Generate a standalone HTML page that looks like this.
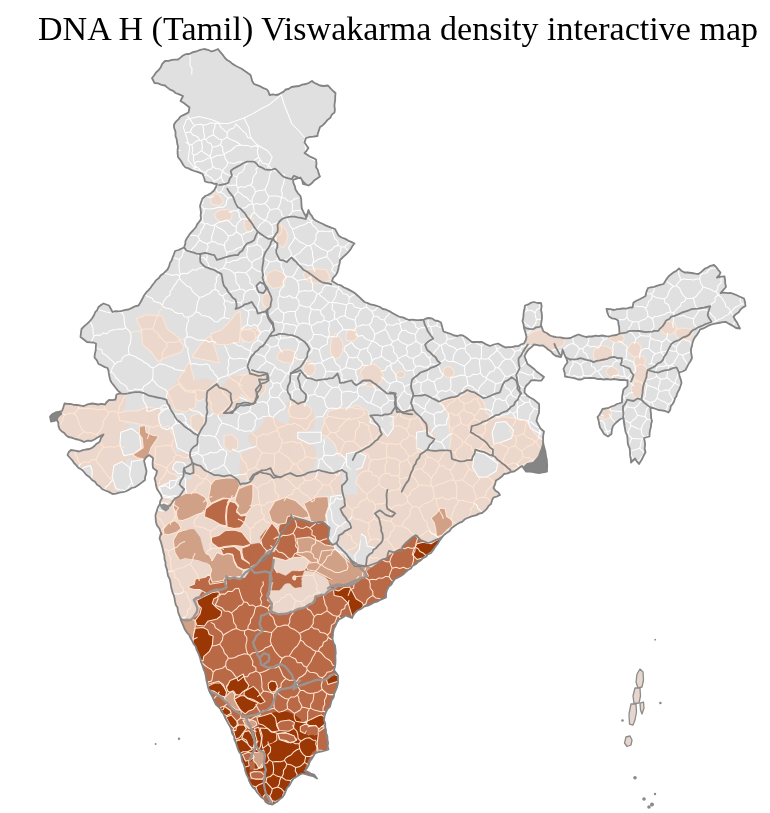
<!DOCTYPE html>
<html lang="en">
<head>
<meta charset="utf-8">
<title>DNA H (Tamil) Viswakarma density interactive map</title>
<style>
html,body{margin:0;padding:0;background:#fff;}
body{width:770px;height:813px;position:relative;overflow:hidden;font-family:"Liberation Serif","Times New Roman",serif;}
h1{position:absolute;left:38px;top:9px;margin:0;letter-spacing:0.04px;font-weight:normal;font-size:34px;line-height:40px;color:#000;white-space:nowrap;}
svg{position:absolute;left:0;top:0;}
</style>
</head>
<body>
<h1>DNA H (Tamil) Viswakarma density interactive map</h1>
<svg width="770" height="813" viewBox="0 0 770 813">
<defs><clipPath id="c"><path d="M152 78 L154.1 75.5 L156 72.5 L158.6 70.1 L160.8 67.2 L162.2 63.8 L165 61 L168.7 60.8 L171.9 59.8 L174.7 59.6 L178 59.5 L180.5 57.6 L183 55.5 L185.7 54.2 L189.3 54 L193 52.1 L196 51.5 L200.3 49.9 L204 49 L207.9 49.8 L211.5 51.5 L214.2 50.7 L218 49 L220 51.7 L223.2 55.4 L225 58 L227.4 60.3 L230.2 61.8 L232.5 63.9 L235.6 65.7 L238 67 L241.6 68.8 L244.1 70.6 L247 72.5 L250.5 75 L251.4 78.1 L252.3 81.2 L254 84 L257.1 85.2 L260.9 86.7 L263.5 88.1 L267 89.5 L268.5 91.8 L269.5 95 L273 94.3 L275.8 95 L278.5 94.5 L280.6 93.3 L283.6 91.6 L285.8 89.5 L288.5 89 L291.5 87 L294.8 86.5 L299.2 86 L302.2 84.6 L306 84 L309 82.8 L312 81 L314.2 82.8 L317.7 84.4 L320 85.5 L323.5 86 L328 85.5 L330.1 87.8 L333.1 91 L335.5 93 L335.2 96.7 L335.2 99.3 L334.8 102.4 L334.4 105.6 L334.9 109.8 L334.5 112.5 L331.8 114.6 L330.3 117.8 L327.3 120.1 L325 123 L322.6 125.4 L320 127 L319.1 129.9 L317.8 133.5 L317.5 136 L313.2 136.7 L310.2 136.9 L306 138 L304.5 142.5 L306.8 145.7 L308.5 148 L306.6 150.8 L304.5 153 L306.9 154.6 L309.9 156.6 L312.9 157.8 L316 159.5 L316.5 163.6 L316 167 L317.9 170.1 L318.7 173.6 L320 176.5 L317.1 178.5 L314.1 180.6 L311.2 183.8 L308.5 185.5 L303 184 L302.3 180.9 L300.5 177.5 L296.7 178.6 L293 180 L293.4 182.9 L295 186.7 L295.5 189.5 L297.8 193.1 L300.5 196 L301.2 199.5 L301.4 202.8 L301.5 206 L302 209 L303.8 212.7 L306 216.5 L307.5 213.5 L308.5 210 L309.9 213.5 L312 216.1 L313.5 219 L316.1 220.7 L319.6 222.5 L323 224 L326 225.6 L329.2 226.8 L331.8 227.9 L335 229 L337 232.6 L338.5 235.5 L341.5 237.5 L345.3 238.9 L348.6 240.8 L351.3 241.9 L354.5 243.5 L352.1 246.5 L351 248.7 L348.7 251.6 L346.5 254 L343.5 256.6 L340 260 L339.7 263.1 L338.9 265.9 L338.3 269.3 L337.5 272 L335.8 275.2 L333.3 277.6 L332 281 L334.9 282.8 L337.7 284.5 L341.1 285.4 L344 287.5 L347.3 288.9 L350.2 290.4 L354 292.5 L356.4 294.5 L358.9 296.7 L361.8 299.5 L364.5 302 L367.7 303.1 L370.4 304.4 L373.3 304.9 L376.7 305.9 L380 307 L382.8 309 L386.3 309.7 L389.7 311.4 L392.8 313.2 L396 315 L399.3 316.8 L402.9 317.4 L406.1 318.9 L409 320 L412.5 319.6 L416.4 320.1 L420 320 L423.5 319.8 L426.1 318.5 L429 318 L432.4 318.6 L434.6 320.3 L438.1 321 L441 322.5 L442 325.9 L442.5 328.4 L443.5 331.5 L446.7 332.6 L451 334 L454 335.5 L457.5 336 L460.1 335.2 L463 335.5 L466.5 337.7 L468.9 339.6 L472 342 L475.9 342 L478.4 342 L482 342 L485.6 344.1 L490 346 L493.9 344.5 L498 343.5 L502.1 345.9 L505.5 347.5 L508.2 347.2 L511.8 347.2 L515.6 346.1 L518.5 346 L521 344.4 L524 343.5 L525.8 340 L526.5 337 L525.8 334 L525 331.1 L524 328 L523.5 324.1 L522.5 321 L523.3 317.7 L523.5 314.6 L523.8 311.7 L524.5 308.4 L525 305.5 L528.3 304.4 L530.5 302.9 L534 302 L537.5 303 L541 303 L541.7 306.3 L541 309.8 L541.7 312.8 L542 316 L541.9 319.1 L541.3 322.5 L541 325 L542.1 328.1 L543.5 331.5 L547.1 333.2 L550 335.5 L553 336.5 L556 337.1 L560 337.3 L563 338 L566.5 338.3 L570.5 338 L575 335.9 L578.5 334.5 L582.2 335.8 L586 337 L589.2 336.5 L592 336.5 L595.9 335.6 L598.5 336.2 L602 335.5 L605.8 336.2 L609 336.5 L612 335.7 L616.5 335 L619.5 333.5 L619.3 329.8 L619.1 326.7 L618.5 324.2 L618 320.5 L615.2 318.8 L611.8 318.3 L609 316.5 L607.4 312.9 L606.5 309 L610.2 309.1 L614 310 L617.2 309.1 L619.7 309 L622.8 308.3 L626.4 308.6 L629.8 307.5 L632.5 307.5 L633.5 302.5 L636.4 300.7 L639.6 299.2 L643 297.5 L645.5 296 L646.3 292.2 L648 288 L650.7 287.3 L654.2 286.9 L657.4 285.7 L660.1 284.9 L663.5 284 L664.9 281.8 L666.9 278.6 L668.5 276.5 L670.8 274.4 L674 272.1 L676.6 270.7 L679 268.5 L681.3 270.7 L684.5 272.5 L687.6 272.5 L691.6 273 L695.4 273.6 L698.5 274 L701.6 271.6 L705 268.5 L707.5 267.6 L710.5 265.8 L714 265 L716.7 267.7 L718 269.6 L720.5 272.5 L719.3 275.2 L717 277.5 L721.1 276.6 L724.5 276.5 L725.1 279.8 L725.2 283.3 L726 287 L723.4 289.8 L720.5 293 L723.9 292.6 L727.9 293.2 L731 293 L734.6 294.3 L737.9 295.8 L740.9 297.2 L744 298.5 L745 302.1 L745.5 306 L742.7 307.6 L740.4 309.7 L738.7 312.3 L736.2 313.9 L733.5 316.5 L735.1 319.9 L736.9 322.4 L738.3 325.1 L740 328.5 L736 328 L732.3 325.6 L729.2 323.9 L726 322 L722.8 322.2 L718.5 323 L714.8 323.6 L711.5 324.5 L708.3 325.7 L705.2 327.5 L702.7 328.7 L700 329.5 L698.6 332.3 L696.7 335.2 L694.7 337.6 L693.5 340 L692.4 343.2 L692.1 345.6 L691 349 L691 351.5 L691.4 354.5 L692 358 L690.3 361.5 L688.6 363.8 L687.1 366.8 L685.5 370 L682.5 371.5 L679 372.5 L679.5 375.7 L680.9 380 L681.5 383 L680.4 386.2 L679.5 389 L677.3 393.1 L676.5 396 L675.1 398.2 L673.9 402 L672.5 404.1 L670.7 406.5 L670.3 409.7 L668.5 412.5 L665.6 411.2 L661.6 410.3 L658.5 410 L654.4 408.3 L650.5 407.5 L650.6 410.8 L651 413.8 L651.1 418.1 L652 421 L651.1 424.1 L650.9 427.2 L650 430.1 L649.6 433.4 L649.5 436.5 L644 438 L644.8 441.6 L645.1 444.7 L644.6 448.5 L645.5 452 L643.5 456.1 L641.5 460 L639 464 L636.9 461.4 L635 458.5 L631 462.5 L630.9 459.5 L630.1 455.4 L630 452 L629.7 448.4 L628.3 445.3 L627.7 442.5 L627.5 439 L627.1 435.5 L625.6 432 L625 428.8 L624.5 426 L623.9 422.1 L623.5 418 L620.5 419 L618 421 L615.7 423 L613 426 L611.9 429.8 L611.5 434 L608 436.5 L604 434 L601.9 430.3 L600 427.5 L599.1 423.8 L598.6 420.6 L597.5 417 L599.6 414.5 L601.1 411.7 L602.5 409 L605.4 408.5 L608.7 407.8 L611.5 406.5 L614.5 405.5 L617 404 L622 402.5 L622 399 L622.2 396.2 L622.9 392.3 L623.5 389.5 L627.5 386 L627.5 380.5 L623.5 379.8 L620.2 380 L617 379.5 L613.5 379 L610.8 379.6 L606.7 379 L604 379.5 L600.3 379 L597.9 379.2 L594.4 378.1 L591 378 L587.7 378.2 L584.3 378.2 L581.3 379.5 L578 379.5 L575 378.3 L571.5 377.6 L568.5 377.2 L565 376.5 L564.7 373.1 L563.5 369 L565.1 365.5 L567.5 362.5 L566.7 359.2 L565 356 L563.7 352.7 L562.5 349.5 L562 353.7 L561 357 L556 356 L553.4 354.3 L550.8 351.2 L548 349.5 L545.8 347.4 L543 345.5 L539.5 345.7 L536.5 344.9 L534 344.5 L531.2 347.4 L528.5 349.5 L526.4 352.4 L524.5 356 L525.8 359.7 L527.5 364 L530.6 366.3 L533.8 368.7 L536.5 371.5 L538.8 373.1 L542 375.5 L544 377 L541.5 380.5 L538.4 380.6 L534.4 380.1 L531 380.5 L528.9 383.2 L526 386 L524.7 388.9 L524.5 392.5 L526.8 395.2 L530 397.5 L533.4 399.3 L536.3 401.6 L539 404 L539.2 407.4 L539.1 410.3 L539 413 L537.6 416.5 L536.5 421 L538.5 424.8 L540.5 428.5 L544 431.5 L543.3 434.7 L543.1 437.6 L543 441.5 L543.6 444.9 L544.6 448.7 L545.5 452 L545.9 456 L546.8 459.5 L547 462.5 L547.2 465.7 L547 468.8 L547 471.5 L542.8 472.4 L539 473 L535.9 472.6 L532.3 471.8 L528.8 471.7 L526 471.5 L524.1 469 L522 466 L519.6 467.6 L517.1 469.4 L514 471.5 L510.9 471.9 L507.6 473.4 L504 474 L501.8 476.6 L498.9 478.7 L496 480.5 L495 484.4 L493.5 488 L495.3 490.4 L498.3 492.4 L500 495 L497.3 496.3 L493.5 497.5 L492.1 500.2 L491 504 L488.6 505.9 L486.7 508.9 L484.7 510.9 L482 513 L479 513.6 L476.4 515.1 L473.5 515.9 L470.8 516.7 L467.5 518 L464.7 519.3 L462.4 521.6 L459.3 522.9 L457.4 524.1 L454.5 526 L451.4 528.3 L449.6 530.9 L446.9 532.7 L444 535 L441.4 538.3 L439 541.5 L437.4 544.2 L434.8 547.4 L433.5 549.8 L431 553 L427.9 554.4 L425.9 556.7 L422.9 558.1 L420.7 560.4 L418 562 L415.7 564.3 L412.5 566 L410.9 568.5 L408 570 L405.1 572.6 L402.8 574.8 L400 576.5 L395 579 L392.7 582 L391.4 584.5 L388.6 586.9 L387 590 L386.1 593.3 L386 597.5 L382.6 598.9 L379.6 600.3 L377.3 601.6 L374 602.5 L371 604.1 L367.8 605.7 L364 606.5 L360.9 609 L357.5 610.5 L355.2 612.6 L353.4 615.2 L352 618 L348.6 616.7 L345.5 615.5 L342.4 617.8 L339 619.5 L336.9 622.4 L335.7 625.4 L334 628.5 L333.1 632.1 L332.9 635.7 L332.5 639 L333.5 643 L335 645.5 L335.5 649.5 L335.8 653 L335.3 655.6 L335.5 659.1 L335.5 662.5 L335 666.7 L334 670 L335.9 672.5 L338 675.5 L338 679.5 L338 683 L337.1 687.1 L335.5 691 L334.2 693.9 L333.7 697.2 L331.7 700.2 L330.8 703.6 L330 706.5 L327.5 709 L326 712 L324.6 716 L324 720 L325.2 723.4 L325.2 727.1 L326 730 L326.1 733.2 L327.3 736.1 L327.5 740 L328.1 743 L327.6 746.1 L328.5 749.5 L325.5 750.5 L322 751.4 L318.5 752 L315 753.5 L313.2 756.6 L311.9 758.7 L310 761.1 L309 764 L307.3 767.7 L304.5 771 L307.7 771.7 L310.7 773.6 L314 774.5 L317 778.5 L313 776 L309.4 775.3 L306.4 774.5 L302.5 773.5 L299.6 774.7 L296 777.1 L293.5 778.5 L291.2 782.1 L289.5 785.3 L287 788 L285.4 792 L284 795 L282.1 797.6 L279.3 799.6 L277.5 801.5 L272.5 804.5 L268 803.5 L265.6 801.9 L263.9 798.9 L261 797 L258.8 794.2 L256.7 791.8 L254.8 789.1 L252.5 787 L250.6 783.8 L249 780.6 L248.4 778 L246.5 774.5 L245.2 770.6 L244.9 768.2 L243.6 763.9 L242.2 761.4 L241.5 757.5 L240.9 754.1 L239 751.6 L237.9 749.1 L237 746.2 L236 743 L234.4 739.7 L234.1 736.6 L231.9 732.7 L231.4 729.7 L230 726.5 L228.2 723.4 L226.8 720.8 L224.8 717.2 L223.5 714 L221.4 711.5 L220.2 708.6 L218.1 706.7 L215.8 704.3 L214.5 701.5 L213.1 698.6 L212 696 L210.1 692.8 L208.8 689.8 L208 687 L207.1 682.8 L206.3 679.7 L205.9 676.6 L205 672.5 L203.5 669 L202.6 666 L201 662 L200.2 658.3 L198.5 653.5 L196.7 649.9 L195.7 646.5 L193.6 644 L192 640.5 L190.4 637.8 L189.3 635.1 L187.3 633.1 L185.2 629.9 L184 627.5 L182.7 624.1 L181 620.4 L180 617 L178.5 613.4 L177.8 610.4 L177.5 607.4 L175.8 604.9 L175 601.5 L174.5 598.1 L173.8 595.4 L172.5 592.3 L171.5 588.8 L171 586 L170.5 582.7 L169.7 579.1 L168 575.8 L167.5 573 L167 569.6 L165.5 565.5 L165.6 562.5 L164.5 559 L164.3 555.2 L163.3 552.1 L162.9 549.4 L162 546 L160.9 541.9 L159.5 538.5 L161 533 L159.5 528.8 L157 525.5 L156 522.2 L155.6 518 L155.5 515 L156.7 511.2 L158 507 L159.8 504.2 L160.2 501.2 L162 498 L160.7 494.6 L158.9 491.7 L157 489 L155.9 485 L155.6 482 L154.5 478.5 L156.2 474.7 L157 471 L153 468 L152.6 464.4 L152.7 461.8 L153 458 L149 455 L146.2 457.3 L144 460.5 L144.7 463.5 L145.6 467.6 L146.5 471 L146.2 473.6 L145.1 477 L145 480 L142 482.4 L138.5 485 L135.3 487.1 L131.6 488 L128.7 489.9 L125.5 491.5 L122.7 492.2 L119.2 492.7 L116.1 493.7 L112.5 494 L108.8 491.9 L105.2 490.5 L102 489 L99.9 486.5 L97.1 484.7 L95 481.8 L92 480 L89.6 477.2 L86.2 474.8 L84 472 L81.9 469.8 L78.5 468 L76.4 465.4 L74 463 L72.1 460.1 L69.6 457.5 L67.5 455 L68.8 452 L71 450 L75.2 450.7 L79 451.5 L82.9 450.2 L85.8 449.5 L89.5 449 L92.5 447.6 L94.9 445.5 L96.6 443.7 L99.5 442 L101.2 437.7 L103.5 434.5 L100.6 435.9 L97.1 437.8 L94.5 439.5 L91.5 440.8 L87.5 440.7 L84 442 L81.2 440.6 L77.8 439.5 L75.2 439 L71.5 437.7 L68.5 437 L66.3 435.5 L63.9 432.7 L61.8 431.5 L59.5 429 L58.5 426.1 L58.3 422.8 L57 420 L54.3 420.8 L51 421.5 L50 416.5 L52.4 414 L55.5 412.5 L59.2 411.7 L62 411 L63.2 407.7 L64.5 403.5 L67.8 403.8 L71 404 L74 404.8 L77.2 405 L81 405.6 L84 406 L87.6 404.4 L92 403.5 L95.5 404 L98.1 404.5 L101.3 403.9 L105 404.5 L106.5 402.2 L109 400 L112.4 400.1 L115.5 399.5 L116.5 394.5 L120.5 393 L117.9 390.6 L115.6 387.8 L113.5 385 L111.5 382.5 L110.2 379.8 L109.5 377 L108.9 373.9 L108.5 370.9 L107.5 368 L104.9 367.1 L101.3 365.2 L98.5 364 L96.9 360.3 L94.5 357.5 L94.8 353.9 L95.8 350.1 L95.8 347.3 L96 343.5 L93.3 342.5 L90.5 342.3 L87 342 L84.1 339.7 L80.5 337 L80.9 333.4 L81.5 329 L84.3 326.2 L87 323.8 L89.6 321.3 L92 318.5 L94 315.3 L95.2 312.2 L97.2 310.2 L98.5 307 L101.4 304.7 L103.5 303.5 L109 305.5 L110.8 308.7 L112.5 312 L115.3 311.2 L119.4 311.4 L121.8 310.9 L125.5 309.9 L128.5 309.5 L132 307.9 L134.9 306.3 L138.5 305.5 L140.5 302.3 L142.4 298.8 L144 295.5 L146 292.7 L148.5 290.2 L150.4 288 L152.3 285.3 L154.5 282.5 L156.2 280.1 L159.2 277.8 L160.5 275.5 L163.5 273.4 L165.3 271.6 L167.5 269.5 L169.1 266.4 L170 262.8 L171.6 260.5 L172.6 257.5 L173.9 254.3 L175 251 L178.4 250 L180.5 249.1 L184 247.5 L185.3 243.9 L185.5 241 L186.9 238.2 L188.8 235.6 L190.7 232.8 L193 230.5 L196 227 L197.1 224.3 L199.1 221.9 L201 219 L200.6 215.4 L201 212.9 L200.5 208.9 L200 206 L201.1 202.2 L202.5 198.5 L205.3 196 L208.2 194.8 L211.3 192.9 L214 190.5 L215.7 187.5 L217 184 L214.4 183.8 L211.3 182.7 L208.2 182.3 L205 181.5 L204.2 178 L202.5 174 L199.6 172.6 L196.6 171.6 L194.2 171 L190.8 169.7 L188.7 168.4 L185.5 167.5 L183.2 165 L181.6 161.9 L179.6 159.1 L178 157 L177.6 153.4 L177.6 149.5 L178 146.5 L177.2 143.5 L176.7 139.3 L175.5 136 L175.5 131.7 L174.1 127.8 L174 124.5 L175.7 121.9 L178.6 119.1 L180.5 116.5 L184.8 114.4 L188.5 112.5 L189.5 107.5 L187 105.5 L183.5 102.8 L180.5 101 L183 96 L179.2 94.4 L175.5 93 L173.2 90.8 L170 89.6 L167.2 87.4 L165 85.5 L161.2 84.8 L158.1 83.4 L154.5 83Z"/></clipPath></defs>
<path d="M152 78 L154.1 75.5 L156 72.5 L158.6 70.1 L160.8 67.2 L162.2 63.8 L165 61 L168.7 60.8 L171.9 59.8 L174.7 59.6 L178 59.5 L180.5 57.6 L183 55.5 L185.7 54.2 L189.3 54 L193 52.1 L196 51.5 L200.3 49.9 L204 49 L207.9 49.8 L211.5 51.5 L214.2 50.7 L218 49 L220 51.7 L223.2 55.4 L225 58 L227.4 60.3 L230.2 61.8 L232.5 63.9 L235.6 65.7 L238 67 L241.6 68.8 L244.1 70.6 L247 72.5 L250.5 75 L251.4 78.1 L252.3 81.2 L254 84 L257.1 85.2 L260.9 86.7 L263.5 88.1 L267 89.5 L268.5 91.8 L269.5 95 L273 94.3 L275.8 95 L278.5 94.5 L280.6 93.3 L283.6 91.6 L285.8 89.5 L288.5 89 L291.5 87 L294.8 86.5 L299.2 86 L302.2 84.6 L306 84 L309 82.8 L312 81 L314.2 82.8 L317.7 84.4 L320 85.5 L323.5 86 L328 85.5 L330.1 87.8 L333.1 91 L335.5 93 L335.2 96.7 L335.2 99.3 L334.8 102.4 L334.4 105.6 L334.9 109.8 L334.5 112.5 L331.8 114.6 L330.3 117.8 L327.3 120.1 L325 123 L322.6 125.4 L320 127 L319.1 129.9 L317.8 133.5 L317.5 136 L313.2 136.7 L310.2 136.9 L306 138 L304.5 142.5 L306.8 145.7 L308.5 148 L306.6 150.8 L304.5 153 L306.9 154.6 L309.9 156.6 L312.9 157.8 L316 159.5 L316.5 163.6 L316 167 L317.9 170.1 L318.7 173.6 L320 176.5 L317.1 178.5 L314.1 180.6 L311.2 183.8 L308.5 185.5 L303 184 L302.3 180.9 L300.5 177.5 L296.7 178.6 L293 180 L293.4 182.9 L295 186.7 L295.5 189.5 L297.8 193.1 L300.5 196 L301.2 199.5 L301.4 202.8 L301.5 206 L302 209 L303.8 212.7 L306 216.5 L307.5 213.5 L308.5 210 L309.9 213.5 L312 216.1 L313.5 219 L316.1 220.7 L319.6 222.5 L323 224 L326 225.6 L329.2 226.8 L331.8 227.9 L335 229 L337 232.6 L338.5 235.5 L341.5 237.5 L345.3 238.9 L348.6 240.8 L351.3 241.9 L354.5 243.5 L352.1 246.5 L351 248.7 L348.7 251.6 L346.5 254 L343.5 256.6 L340 260 L339.7 263.1 L338.9 265.9 L338.3 269.3 L337.5 272 L335.8 275.2 L333.3 277.6 L332 281 L334.9 282.8 L337.7 284.5 L341.1 285.4 L344 287.5 L347.3 288.9 L350.2 290.4 L354 292.5 L356.4 294.5 L358.9 296.7 L361.8 299.5 L364.5 302 L367.7 303.1 L370.4 304.4 L373.3 304.9 L376.7 305.9 L380 307 L382.8 309 L386.3 309.7 L389.7 311.4 L392.8 313.2 L396 315 L399.3 316.8 L402.9 317.4 L406.1 318.9 L409 320 L412.5 319.6 L416.4 320.1 L420 320 L423.5 319.8 L426.1 318.5 L429 318 L432.4 318.6 L434.6 320.3 L438.1 321 L441 322.5 L442 325.9 L442.5 328.4 L443.5 331.5 L446.7 332.6 L451 334 L454 335.5 L457.5 336 L460.1 335.2 L463 335.5 L466.5 337.7 L468.9 339.6 L472 342 L475.9 342 L478.4 342 L482 342 L485.6 344.1 L490 346 L493.9 344.5 L498 343.5 L502.1 345.9 L505.5 347.5 L508.2 347.2 L511.8 347.2 L515.6 346.1 L518.5 346 L521 344.4 L524 343.5 L525.8 340 L526.5 337 L525.8 334 L525 331.1 L524 328 L523.5 324.1 L522.5 321 L523.3 317.7 L523.5 314.6 L523.8 311.7 L524.5 308.4 L525 305.5 L528.3 304.4 L530.5 302.9 L534 302 L537.5 303 L541 303 L541.7 306.3 L541 309.8 L541.7 312.8 L542 316 L541.9 319.1 L541.3 322.5 L541 325 L542.1 328.1 L543.5 331.5 L547.1 333.2 L550 335.5 L553 336.5 L556 337.1 L560 337.3 L563 338 L566.5 338.3 L570.5 338 L575 335.9 L578.5 334.5 L582.2 335.8 L586 337 L589.2 336.5 L592 336.5 L595.9 335.6 L598.5 336.2 L602 335.5 L605.8 336.2 L609 336.5 L612 335.7 L616.5 335 L619.5 333.5 L619.3 329.8 L619.1 326.7 L618.5 324.2 L618 320.5 L615.2 318.8 L611.8 318.3 L609 316.5 L607.4 312.9 L606.5 309 L610.2 309.1 L614 310 L617.2 309.1 L619.7 309 L622.8 308.3 L626.4 308.6 L629.8 307.5 L632.5 307.5 L633.5 302.5 L636.4 300.7 L639.6 299.2 L643 297.5 L645.5 296 L646.3 292.2 L648 288 L650.7 287.3 L654.2 286.9 L657.4 285.7 L660.1 284.9 L663.5 284 L664.9 281.8 L666.9 278.6 L668.5 276.5 L670.8 274.4 L674 272.1 L676.6 270.7 L679 268.5 L681.3 270.7 L684.5 272.5 L687.6 272.5 L691.6 273 L695.4 273.6 L698.5 274 L701.6 271.6 L705 268.5 L707.5 267.6 L710.5 265.8 L714 265 L716.7 267.7 L718 269.6 L720.5 272.5 L719.3 275.2 L717 277.5 L721.1 276.6 L724.5 276.5 L725.1 279.8 L725.2 283.3 L726 287 L723.4 289.8 L720.5 293 L723.9 292.6 L727.9 293.2 L731 293 L734.6 294.3 L737.9 295.8 L740.9 297.2 L744 298.5 L745 302.1 L745.5 306 L742.7 307.6 L740.4 309.7 L738.7 312.3 L736.2 313.9 L733.5 316.5 L735.1 319.9 L736.9 322.4 L738.3 325.1 L740 328.5 L736 328 L732.3 325.6 L729.2 323.9 L726 322 L722.8 322.2 L718.5 323 L714.8 323.6 L711.5 324.5 L708.3 325.7 L705.2 327.5 L702.7 328.7 L700 329.5 L698.6 332.3 L696.7 335.2 L694.7 337.6 L693.5 340 L692.4 343.2 L692.1 345.6 L691 349 L691 351.5 L691.4 354.5 L692 358 L690.3 361.5 L688.6 363.8 L687.1 366.8 L685.5 370 L682.5 371.5 L679 372.5 L679.5 375.7 L680.9 380 L681.5 383 L680.4 386.2 L679.5 389 L677.3 393.1 L676.5 396 L675.1 398.2 L673.9 402 L672.5 404.1 L670.7 406.5 L670.3 409.7 L668.5 412.5 L665.6 411.2 L661.6 410.3 L658.5 410 L654.4 408.3 L650.5 407.5 L650.6 410.8 L651 413.8 L651.1 418.1 L652 421 L651.1 424.1 L650.9 427.2 L650 430.1 L649.6 433.4 L649.5 436.5 L644 438 L644.8 441.6 L645.1 444.7 L644.6 448.5 L645.5 452 L643.5 456.1 L641.5 460 L639 464 L636.9 461.4 L635 458.5 L631 462.5 L630.9 459.5 L630.1 455.4 L630 452 L629.7 448.4 L628.3 445.3 L627.7 442.5 L627.5 439 L627.1 435.5 L625.6 432 L625 428.8 L624.5 426 L623.9 422.1 L623.5 418 L620.5 419 L618 421 L615.7 423 L613 426 L611.9 429.8 L611.5 434 L608 436.5 L604 434 L601.9 430.3 L600 427.5 L599.1 423.8 L598.6 420.6 L597.5 417 L599.6 414.5 L601.1 411.7 L602.5 409 L605.4 408.5 L608.7 407.8 L611.5 406.5 L614.5 405.5 L617 404 L622 402.5 L622 399 L622.2 396.2 L622.9 392.3 L623.5 389.5 L627.5 386 L627.5 380.5 L623.5 379.8 L620.2 380 L617 379.5 L613.5 379 L610.8 379.6 L606.7 379 L604 379.5 L600.3 379 L597.9 379.2 L594.4 378.1 L591 378 L587.7 378.2 L584.3 378.2 L581.3 379.5 L578 379.5 L575 378.3 L571.5 377.6 L568.5 377.2 L565 376.5 L564.7 373.1 L563.5 369 L565.1 365.5 L567.5 362.5 L566.7 359.2 L565 356 L563.7 352.7 L562.5 349.5 L562 353.7 L561 357 L556 356 L553.4 354.3 L550.8 351.2 L548 349.5 L545.8 347.4 L543 345.5 L539.5 345.7 L536.5 344.9 L534 344.5 L531.2 347.4 L528.5 349.5 L526.4 352.4 L524.5 356 L525.8 359.7 L527.5 364 L530.6 366.3 L533.8 368.7 L536.5 371.5 L538.8 373.1 L542 375.5 L544 377 L541.5 380.5 L538.4 380.6 L534.4 380.1 L531 380.5 L528.9 383.2 L526 386 L524.7 388.9 L524.5 392.5 L526.8 395.2 L530 397.5 L533.4 399.3 L536.3 401.6 L539 404 L539.2 407.4 L539.1 410.3 L539 413 L537.6 416.5 L536.5 421 L538.5 424.8 L540.5 428.5 L544 431.5 L543.3 434.7 L543.1 437.6 L543 441.5 L543.6 444.9 L544.6 448.7 L545.5 452 L545.9 456 L546.8 459.5 L547 462.5 L547.2 465.7 L547 468.8 L547 471.5 L542.8 472.4 L539 473 L535.9 472.6 L532.3 471.8 L528.8 471.7 L526 471.5 L524.1 469 L522 466 L519.6 467.6 L517.1 469.4 L514 471.5 L510.9 471.9 L507.6 473.4 L504 474 L501.8 476.6 L498.9 478.7 L496 480.5 L495 484.4 L493.5 488 L495.3 490.4 L498.3 492.4 L500 495 L497.3 496.3 L493.5 497.5 L492.1 500.2 L491 504 L488.6 505.9 L486.7 508.9 L484.7 510.9 L482 513 L479 513.6 L476.4 515.1 L473.5 515.9 L470.8 516.7 L467.5 518 L464.7 519.3 L462.4 521.6 L459.3 522.9 L457.4 524.1 L454.5 526 L451.4 528.3 L449.6 530.9 L446.9 532.7 L444 535 L441.4 538.3 L439 541.5 L437.4 544.2 L434.8 547.4 L433.5 549.8 L431 553 L427.9 554.4 L425.9 556.7 L422.9 558.1 L420.7 560.4 L418 562 L415.7 564.3 L412.5 566 L410.9 568.5 L408 570 L405.1 572.6 L402.8 574.8 L400 576.5 L395 579 L392.7 582 L391.4 584.5 L388.6 586.9 L387 590 L386.1 593.3 L386 597.5 L382.6 598.9 L379.6 600.3 L377.3 601.6 L374 602.5 L371 604.1 L367.8 605.7 L364 606.5 L360.9 609 L357.5 610.5 L355.2 612.6 L353.4 615.2 L352 618 L348.6 616.7 L345.5 615.5 L342.4 617.8 L339 619.5 L336.9 622.4 L335.7 625.4 L334 628.5 L333.1 632.1 L332.9 635.7 L332.5 639 L333.5 643 L335 645.5 L335.5 649.5 L335.8 653 L335.3 655.6 L335.5 659.1 L335.5 662.5 L335 666.7 L334 670 L335.9 672.5 L338 675.5 L338 679.5 L338 683 L337.1 687.1 L335.5 691 L334.2 693.9 L333.7 697.2 L331.7 700.2 L330.8 703.6 L330 706.5 L327.5 709 L326 712 L324.6 716 L324 720 L325.2 723.4 L325.2 727.1 L326 730 L326.1 733.2 L327.3 736.1 L327.5 740 L328.1 743 L327.6 746.1 L328.5 749.5 L325.5 750.5 L322 751.4 L318.5 752 L315 753.5 L313.2 756.6 L311.9 758.7 L310 761.1 L309 764 L307.3 767.7 L304.5 771 L307.7 771.7 L310.7 773.6 L314 774.5 L317 778.5 L313 776 L309.4 775.3 L306.4 774.5 L302.5 773.5 L299.6 774.7 L296 777.1 L293.5 778.5 L291.2 782.1 L289.5 785.3 L287 788 L285.4 792 L284 795 L282.1 797.6 L279.3 799.6 L277.5 801.5 L272.5 804.5 L268 803.5 L265.6 801.9 L263.9 798.9 L261 797 L258.8 794.2 L256.7 791.8 L254.8 789.1 L252.5 787 L250.6 783.8 L249 780.6 L248.4 778 L246.5 774.5 L245.2 770.6 L244.9 768.2 L243.6 763.9 L242.2 761.4 L241.5 757.5 L240.9 754.1 L239 751.6 L237.9 749.1 L237 746.2 L236 743 L234.4 739.7 L234.1 736.6 L231.9 732.7 L231.4 729.7 L230 726.5 L228.2 723.4 L226.8 720.8 L224.8 717.2 L223.5 714 L221.4 711.5 L220.2 708.6 L218.1 706.7 L215.8 704.3 L214.5 701.5 L213.1 698.6 L212 696 L210.1 692.8 L208.8 689.8 L208 687 L207.1 682.8 L206.3 679.7 L205.9 676.6 L205 672.5 L203.5 669 L202.6 666 L201 662 L200.2 658.3 L198.5 653.5 L196.7 649.9 L195.7 646.5 L193.6 644 L192 640.5 L190.4 637.8 L189.3 635.1 L187.3 633.1 L185.2 629.9 L184 627.5 L182.7 624.1 L181 620.4 L180 617 L178.5 613.4 L177.8 610.4 L177.5 607.4 L175.8 604.9 L175 601.5 L174.5 598.1 L173.8 595.4 L172.5 592.3 L171.5 588.8 L171 586 L170.5 582.7 L169.7 579.1 L168 575.8 L167.5 573 L167 569.6 L165.5 565.5 L165.6 562.5 L164.5 559 L164.3 555.2 L163.3 552.1 L162.9 549.4 L162 546 L160.9 541.9 L159.5 538.5 L161 533 L159.5 528.8 L157 525.5 L156 522.2 L155.6 518 L155.5 515 L156.7 511.2 L158 507 L159.8 504.2 L160.2 501.2 L162 498 L160.7 494.6 L158.9 491.7 L157 489 L155.9 485 L155.6 482 L154.5 478.5 L156.2 474.7 L157 471 L153 468 L152.6 464.4 L152.7 461.8 L153 458 L149 455 L146.2 457.3 L144 460.5 L144.7 463.5 L145.6 467.6 L146.5 471 L146.2 473.6 L145.1 477 L145 480 L142 482.4 L138.5 485 L135.3 487.1 L131.6 488 L128.7 489.9 L125.5 491.5 L122.7 492.2 L119.2 492.7 L116.1 493.7 L112.5 494 L108.8 491.9 L105.2 490.5 L102 489 L99.9 486.5 L97.1 484.7 L95 481.8 L92 480 L89.6 477.2 L86.2 474.8 L84 472 L81.9 469.8 L78.5 468 L76.4 465.4 L74 463 L72.1 460.1 L69.6 457.5 L67.5 455 L68.8 452 L71 450 L75.2 450.7 L79 451.5 L82.9 450.2 L85.8 449.5 L89.5 449 L92.5 447.6 L94.9 445.5 L96.6 443.7 L99.5 442 L101.2 437.7 L103.5 434.5 L100.6 435.9 L97.1 437.8 L94.5 439.5 L91.5 440.8 L87.5 440.7 L84 442 L81.2 440.6 L77.8 439.5 L75.2 439 L71.5 437.7 L68.5 437 L66.3 435.5 L63.9 432.7 L61.8 431.5 L59.5 429 L58.5 426.1 L58.3 422.8 L57 420 L54.3 420.8 L51 421.5 L50 416.5 L52.4 414 L55.5 412.5 L59.2 411.7 L62 411 L63.2 407.7 L64.5 403.5 L67.8 403.8 L71 404 L74 404.8 L77.2 405 L81 405.6 L84 406 L87.6 404.4 L92 403.5 L95.5 404 L98.1 404.5 L101.3 403.9 L105 404.5 L106.5 402.2 L109 400 L112.4 400.1 L115.5 399.5 L116.5 394.5 L120.5 393 L117.9 390.6 L115.6 387.8 L113.5 385 L111.5 382.5 L110.2 379.8 L109.5 377 L108.9 373.9 L108.5 370.9 L107.5 368 L104.9 367.1 L101.3 365.2 L98.5 364 L96.9 360.3 L94.5 357.5 L94.8 353.9 L95.8 350.1 L95.8 347.3 L96 343.5 L93.3 342.5 L90.5 342.3 L87 342 L84.1 339.7 L80.5 337 L80.9 333.4 L81.5 329 L84.3 326.2 L87 323.8 L89.6 321.3 L92 318.5 L94 315.3 L95.2 312.2 L97.2 310.2 L98.5 307 L101.4 304.7 L103.5 303.5 L109 305.5 L110.8 308.7 L112.5 312 L115.3 311.2 L119.4 311.4 L121.8 310.9 L125.5 309.9 L128.5 309.5 L132 307.9 L134.9 306.3 L138.5 305.5 L140.5 302.3 L142.4 298.8 L144 295.5 L146 292.7 L148.5 290.2 L150.4 288 L152.3 285.3 L154.5 282.5 L156.2 280.1 L159.2 277.8 L160.5 275.5 L163.5 273.4 L165.3 271.6 L167.5 269.5 L169.1 266.4 L170 262.8 L171.6 260.5 L172.6 257.5 L173.9 254.3 L175 251 L178.4 250 L180.5 249.1 L184 247.5 L185.3 243.9 L185.5 241 L186.9 238.2 L188.8 235.6 L190.7 232.8 L193 230.5 L196 227 L197.1 224.3 L199.1 221.9 L201 219 L200.6 215.4 L201 212.9 L200.5 208.9 L200 206 L201.1 202.2 L202.5 198.5 L205.3 196 L208.2 194.8 L211.3 192.9 L214 190.5 L215.7 187.5 L217 184 L214.4 183.8 L211.3 182.7 L208.2 182.3 L205 181.5 L204.2 178 L202.5 174 L199.6 172.6 L196.6 171.6 L194.2 171 L190.8 169.7 L188.7 168.4 L185.5 167.5 L183.2 165 L181.6 161.9 L179.6 159.1 L178 157 L177.6 153.4 L177.6 149.5 L178 146.5 L177.2 143.5 L176.7 139.3 L175.5 136 L175.5 131.7 L174.1 127.8 L174 124.5 L175.7 121.9 L178.6 119.1 L180.5 116.5 L184.8 114.4 L188.5 112.5 L189.5 107.5 L187 105.5 L183.5 102.8 L180.5 101 L183 96 L179.2 94.4 L175.5 93 L173.2 90.8 L170 89.6 L167.2 87.4 L165 85.5 L161.2 84.8 L158.1 83.4 L154.5 83Z" fill="#e0e0e0"/>
<g clip-path="url(#c)">
<path d="M47.8 401.2 L123.8 391.4 L125.7 405.1 L117.9 416.8 L129.6 426.5 L123.8 432.3 L104.3 434.3 L86.8 442.1 L69.2 436.2 L51.7 426.5Z" fill="#ebd7cb" stroke="#ebd7cb" stroke-width="0.6"/>
<path d="M63.4 451.8 L102.3 433.3 L123.8 432.3 L149.1 428.4 L160.8 428.4 L176.4 434.3 L190 436.2 L190 502.5 L149.1 506.4 L149.1 479.1 L145.2 461.6 L127.7 457.7 L121.8 471.3 L117.9 486.9 L114 496.6 L92.6 486.9 L79 471.3Z" fill="#ebd7cb" stroke="#ebd7cb" stroke-width="0.6"/>
<path d="M117.9 412.9 L127.7 410.9 L137.4 410.9 L147.1 407 L158.8 409 L160.8 418.7 L153 426.5 L141.3 424.5 L131.6 422.6 L119.9 420.6Z" fill="#ebd7cb" stroke="#ffe6d3" stroke-width="1.05" stroke-linejoin="round"/>
<path d="M168.6 395.3 L176.4 381.7 L184.2 370 L190 370 L190 412.9 L176.4 410.9 L172.5 401.2Z" fill="#ebd7cb" stroke="#ebd7cb" stroke-width="0.6"/>
<path d="M169.5 389.5 L177.3 381.7 L187 373.9 L190.9 370 L194.8 381.7 L196.8 391.4 L194.8 403.1 L189 409 L179.2 410.9 L171.4 407 L167.5 399.2Z" fill="#ebd7cb" stroke="#ebd7cb" stroke-width="0.6"/>
<path d="M190.9 416.8 L198.7 412.9 L204.5 418.7 L202.6 428.4 L196.8 432.3 L190.9 428.4Z" fill="#ebd7cb" stroke="#ffe6d3" stroke-width="1.05" stroke-linejoin="round"/>
<path d="M210.4 393.4 L218.2 389.5 L227.9 391.4 L231.8 401.2 L227.9 409 L218.2 412.9 L212.3 407Z" fill="#ebd7cb" stroke="#ffe6d3" stroke-width="1.05" stroke-linejoin="round"/>
<path d="M191.9 383.6 L200.6 379.7 L208.4 385.6 L207.5 397.3 L198.7 401.2 L192.9 395.3Z" fill="#ebd7cb" stroke="#ffe6d3" stroke-width="1.05" stroke-linejoin="round"/>
<path d="M229.9 381.7 L237.7 375.8 L247.4 373.9 L259.1 375.8 L266.9 373.9 L268.8 381.7 L259.1 385.6 L257.1 395.3 L255.2 405.1 L247.4 399.2 L239.6 393.4 L231.8 389.5Z" fill="#ebd7cb" stroke="#ffe6d3" stroke-width="1.05" stroke-linejoin="round"/>
<path d="M224 436.2 L231.8 434.3 L237.7 440.1 L237.7 447.9 L229.9 451.8 L224 446Z" fill="#ebd7cb" stroke="#ffe6d3" stroke-width="1.05" stroke-linejoin="round"/>
<path d="M247.4 436.2 L255.2 432.3 L263 424.5 L266.9 414.8 L274.7 418.7 L284.4 424.5 L292.2 418.7 L300 414.8 L300 471.3 L274.7 477.1 L270.8 467.4 L255.2 471.3 L247.4 479.1 L239.6 483 L239.6 471.3 L241.6 453.8 L255.2 447.9 L249.4 442.1Z" fill="#ebd7cb" stroke="#ebd7cb" stroke-width="0.6"/>
<path d="M286.4 403.1 L300 399.2 L300 416.8 L290.3 416.8Z" fill="#ebd7cb" stroke="#ebd7cb" stroke-width="0.6"/>
<path d="M150 409 L159.7 409 L173.4 428.4 L185.1 451.8 L189 463.5 L185.1 471.3 L177.3 496.6 L161.7 506.4 L150 506.4Z" fill="#ebd7cb" stroke="#ebd7cb" stroke-width="0.6"/>
<path d="M161.7 506.4 L177.3 494.7 L185.1 471.3 L189 463.5 L198.7 465.5 L208.4 471.3 L220.1 477.1 L239.6 479.1 L241.6 484.9 L251.3 483 L255.2 471.3 L270.8 467.4 L274.7 477.1 L286.4 473.2 L300 471.3 L325.3 472.3 L337 471.3 L346.8 473.2 L354.5 479.1 L356.5 488.8 L354.5 502.5 L344.8 510.3 L333.1 518.1 L325.3 535.6 L317.5 545.3 L300 545.3 L286.4 564.8 L247.4 564.8 L208.4 584.3 L169.5 584.3 L161.7 545.3Z" fill="#ebd7cb" stroke="#ebd7cb" stroke-width="0.6"/>
<path d="M150 496 L172 498 L176 520 L180 560 L170 590 L150 590Z" fill="#ebd7cb" stroke="#ffe6d3" stroke-width="1.05" stroke-linejoin="round"/>
<path d="M290 401.2 L301.7 405.1 L311.4 409 L315.3 418.7 L313.4 428.4 L301.7 432.3 L297.8 438.2 L309.5 444 L315.3 447.9 L315.3 457.7 L313.4 467.4 L301.7 473.2 L290 471.3Z" fill="#ebd7cb" stroke="#ebd7cb" stroke-width="0.6"/>
<path d="M325.1 418.7 L336.8 410.9 L348.4 409 L356.2 405.1 L367.9 410.9 L369.9 420.6 L377.7 426.5 L381.6 430.4 L375.7 438.2 L371.8 444 L362.1 447.9 L356.2 451.8 L350.4 457.7 L338.7 455.7 L334.8 444 L327 436.2 L319.2 434.3 L323.1 426.5Z" fill="#ebd7cb" stroke="#ffe6d3" stroke-width="1.05" stroke-linejoin="round"/>
<path d="M371.8 416.8 L391.3 414.8 L399.1 412.9 L410.8 409 L418.6 420.6 L426.4 420.6 L434.2 436.2 L426.4 449.9 L440 451.8 L440 545.3 L406.9 564.8 L356.2 564.8 L354.3 479.1 L348.4 471.3 L350.4 463.5 L356.2 455.7 L364 449.9 L373.8 444 L381.6 430.4 L377.7 424.5 L369.9 420.6Z" fill="#ebd7cb" stroke="#ebd7cb" stroke-width="0.6"/>
<path d="M358.2 370 L383.5 370 L383.5 379.7 L375.7 385.6 L367.9 379.7 L360.1 375.8Z" fill="#ebd7cb" stroke="#ebd7cb" stroke-width="0.6"/>
<path d="M439.5 403.1 L449.2 399.2 L459 397.3 L468.7 391.4 L478.4 395.3 L484.3 403.1 L486.2 412.9 L492.1 416.8 L480.4 424.5 L472.6 426.5 L470.6 430.4 L478.4 438.2 L486.2 444 L492.1 451.8 L494 455.7 L484.3 449.9 L474.5 447.9 L472.6 457.7 L468.7 461.6 L459 459.6 L451.2 459.6 L449.2 449.9 L451.2 438.2 L449.2 428.4 L449.2 416.8 L445.3 409Z" fill="#ebd7cb" stroke="#ffe6d3" stroke-width="1.05" stroke-linejoin="round"/>
<path d="M494 418.7 L503.8 416.8 L517.4 418.7 L527.1 420.6 L531 428.4 L536.9 436.2 L544.7 442.1 L546.6 451.8 L533 459.6 L525.2 463.5 L517.4 467.4 L509.6 469.4 L501.8 465.5 L496 459.6 L494 453.8 L486.2 444 L478.4 438.2 L470.6 430.4 L472.6 426.5 L480.4 424.5 L488.2 420.6Z" fill="#ebd7cb" stroke="#ffe6d3" stroke-width="1.05" stroke-linejoin="round"/>
<path d="M408.3 451.8 L439.5 449.9 L451.2 449.9 L451.2 459.6 L468.7 461.6 L472.6 457.7 L474.5 447.9 L497.9 463.5 L513.5 469.4 L513.5 545.3 L408.3 545.3Z" fill="#ebd7cb" stroke="#ebd7cb" stroke-width="0.6"/>
<path d="M120.8 432.3 L131.6 428.4 L139.4 434.3 L141.3 447.9 L133.5 453.8 L123.8 455.7 L119.9 444Z" fill="#e0e0e0" stroke="#ffffff" stroke-width="1.05" stroke-linejoin="round"/>
<path d="M114 465.5 L121.8 461.6 L129.6 467.4 L131.6 483 L125.7 490.8 L116 488.8 L112.1 477.1Z" fill="#e0e0e0" stroke="#ffffff" stroke-width="1.05" stroke-linejoin="round"/>
<path d="M131.6 461.6 L143.2 459.6 L147.1 471.3 L145.2 483 L133.5 486.9 L129.6 475.2Z" fill="#e0e0e0" stroke="#ffffff" stroke-width="1.05" stroke-linejoin="round"/>
<path d="M87.2 479.6 L83.7 478.1 L80.8 475.1 L80.5 470.5 L83.4 467.7 L86.4 466.4 L90.4 465.5 L92 469.8 L92.2 473.8 L91.5 478.7Z" fill="#e0e0e0" stroke="#ffffff" stroke-width="1.05" stroke-linejoin="round"/>
<path d="M160.8 409 L168.6 409 L176.4 420.6 L174.4 428.4 L164.7 428.4Z" fill="#e0e0e0" stroke="#ffffff" stroke-width="1.05" stroke-linejoin="round"/>
<path d="M174.4 434.3 L190 432.3 L190 451.8 L176.4 451.8Z" fill="#e0e0e0" stroke="#e0e0e0" stroke-width="0.6"/>
<path d="M174.4 463.5 L190 461.6 L191.9 479.1 L176.4 481Z" fill="#e0e0e0" stroke="#e0e0e0" stroke-width="0.6"/>
<path d="M158.8 486.9 L172.5 481 L184.2 486.9 L186.1 496.6 L174.4 498.6 L160.8 496.6Z" fill="#e0e0e0" stroke="#ffffff" stroke-width="1.05" stroke-linejoin="round"/>
<path d="M171.4 424.5 L185.1 422.6 L198.7 434.3 L198.7 451.8 L189 453.8 L177.3 447.9Z" fill="#e0e0e0" stroke="#ffffff" stroke-width="1.05" stroke-linejoin="round"/>
<path d="M172.5 468.7 L173.7 464.8 L176.1 461.8 L179.9 462.1 L183.7 462.7 L186.1 466.1 L184.9 470 L182.5 473.2 L178.4 473.8 L175.7 471.2Z" fill="#e0e0e0" stroke="#ffffff" stroke-width="1.05" stroke-linejoin="round"/>
<path d="M169.5 481 L185.1 479.1 L186 494.7 L175.3 496.6 L169.5 490.8Z" fill="#e0e0e0" stroke="#ffffff" stroke-width="1.05" stroke-linejoin="round"/>
<path d="M167.9 408.2 L172.3 411.3 L174.1 416.5 L176.2 422.8 L172 427.2 L167.1 429.7 L161.7 427.7 L159 421.6 L158.7 414.5 L163.2 410.5Z" fill="#e0e0e0" stroke="#ffffff" stroke-width="1.05" stroke-linejoin="round"/>
<path d="M297.8 432.3 L321.2 432.3 L321.2 442.1 L309.5 444 L297.8 438.2Z" fill="#e0e0e0" stroke="#ffffff" stroke-width="1.05" stroke-linejoin="round"/>
<path d="M371.8 415.8 L383.5 414.8 L393.2 416.8 L393.2 428.4 L387.4 436.2 L381.6 428.4 L375.7 424.5 L369.9 422.6Z" fill="#e0e0e0" stroke="#ffffff" stroke-width="1.05" stroke-linejoin="round"/>
<path d="M416.6 432.3 L426.4 430.4 L434.2 438.2 L430.3 447.9 L424.4 451.8 L416.6 447.9Z" fill="#e0e0e0" stroke="#ffffff" stroke-width="1.05" stroke-linejoin="round"/>
<path d="M342.6 475.2 L348.4 471.3 L354.3 479.1 L356.2 496.6 L354.3 520 L340.6 520 L342.6 496.6Z" fill="#e0e0e0" stroke="#e0e0e0" stroke-width="0.6"/>
<path d="M325.1 494.7 L342.6 494.7 L342.6 520 L325.1 520Z" fill="#e0e0e0" stroke="#e0e0e0" stroke-width="0.6"/>
<path d="M346.5 453.8 L356.2 451.8 L366 455.7 L362.1 467.4 L352.3 471.3 L346.5 465.5Z" fill="#e0e0e0" stroke="#ffffff" stroke-width="1.05" stroke-linejoin="round"/>
<path d="M496 422.6 L505.7 421.6 L513.5 430.4 L511.6 438.2 L501.8 442.1 L494 444 L492.1 432.3Z" fill="#e0e0e0" stroke="#ffffff" stroke-width="1.05" stroke-linejoin="round"/>
<path d="M474.5 451.8 L484.3 453.8 L497.9 463.5 L496 471.3 L486.2 477.1 L478.4 477.1 L472.6 467.4Z" fill="#e0e0e0" stroke="#ffffff" stroke-width="1.05" stroke-linejoin="round"/>
<path d="M517.4 395.3 L540.8 395.3 L540.8 434.3 L531 428.4 L527.1 420.6 L517.4 418.7Z" fill="#e0e0e0" stroke="#ffffff" stroke-width="1.05" stroke-linejoin="round"/>
<path d="M331 496.5 L341.9 494.9 L345.1 505.8 L343.5 515.2 L349.7 523 L349.7 529.2 L341.9 532.3 L337.3 538.6 L336.5 544 L331 543.2 L328.7 535.5 L329.5 529.2 L327.1 521.4 L326.4 513.6 L329.5 505.8Z" fill="#e0e0e0" stroke="#ffffff" stroke-width="1.05" stroke-linejoin="round"/>
<path d="M360.9 533.6 L365.6 536.8 L367.1 546.1 L374.9 547.7 L367.1 557 L365.6 566.4 L356.2 566.4 L354.7 555.5 L359.4 549.2Z" fill="#e0e0e0" stroke="#ffffff" stroke-width="1.05" stroke-linejoin="round"/>
<path d="M343.5 470 L357.5 470 L357.5 496.5 L349.7 496.5 L343.5 488.7Z" fill="#e0e0e0" stroke="#e0e0e0" stroke-width="0.6"/>
<path d="M159.4 487.1 L165.6 485.6 L170.3 488.7 L174.9 485.6 L177.3 479.4 L181.2 476.2 L185.8 479.4 L185.1 487.1 L186.6 493.4 L181.2 497.3 L174.9 495.7 L168.7 496.5 L162.5 494.9Z" fill="#e0e0e0" stroke="#ffffff" stroke-width="1.05" stroke-linejoin="round"/>
<path d="M164.7 502.8 L167.8 503.9 L168.8 507 L166.6 509.3 L164.6 510.7 L161.9 510.9 L158.6 510.1 L158.5 507 L159.1 504.2 L161.9 503Z" fill="#e0e0e0" stroke="#ffffff" stroke-width="1.05" stroke-linejoin="round"/>
<path d="M209.2 470 L237.3 470 L237.3 476.2 L224.8 477 L212.3 475.5Z" fill="#e0e0e0" stroke="#e0e0e0" stroke-width="0.6"/>
<path d="M150 586 L186 586 L190 584 L212 580 L245 578 L252 568 L270 553 L275 552 L280 540 L279 530 L282 518 L290 515 L303 520 L312 523 L323 522 L330 528 L328 539 L331 545 L345 558 L352 563 L366 566 L371 568 L403 546 L409 541 L412.5 537 L417 535 L422 541 L431 544 L437 540 L441.5 538 L455 548 L470 620 L345 640 L345 820 L150 820Z" fill="#b96946" stroke="#b96946" stroke-width="0.6"/>
<path d="M205.3 509 L212.3 503.5 L223.2 498.8 L229.5 498.8 L226.4 507.4 L225.6 516.8 L226.4 526.1 L220.1 524.5 L212.3 519.9 L204.5 516.8Z" fill="#b96946" stroke="#ffe6d3" stroke-width="1.05" stroke-linejoin="round"/>
<path d="M229.5 501.2 L234.9 502.7 L238.8 507.4 L236.5 512.1 L241.2 516 L246.6 515.2 L244.3 523 L240.4 527.7 L234.2 528.4 L227.1 526.9 L226.4 516.8 L227.1 507.4Z" fill="#b96946" stroke="#ffe6d3" stroke-width="1.05" stroke-linejoin="round"/>
<path d="M210 537.8 L218.6 535.5 L224.8 530.8 L234.2 530 L241.9 532.3 L247.4 539.4 L251.3 544 L243.5 546.4 L234.2 545.6 L224.8 546.4 L218.6 547.9 L212.3 543.2Z" fill="#b96946" stroke="#ffe6d3" stroke-width="1.05" stroke-linejoin="round"/>
<path d="M220.1 547.9 L234.2 546.4 L240.4 551 L241.9 558.8 L249.7 563.5 L251.3 568.2 L243.5 569.7 L237.3 566.6 L234.2 560.4 L232.6 554.2 L227.9 553.4 L223.2 554.9Z" fill="#b96946" stroke="#ffe6d3" stroke-width="1.05" stroke-linejoin="round"/>
<path d="M241.9 547.9 L251.3 544.8 L260.6 543.2 L265.3 549.5 L262.2 557.3 L256 563.5 L249.7 563.5 L243.5 558.8 L241.9 552.6Z" fill="#b96946" stroke="#ffe6d3" stroke-width="1.05" stroke-linejoin="round"/>
<path d="M260.6 537 L266.1 530 L270 529.2 L270 544.8 L265.3 546.4 L261.4 542.5Z" fill="#b96946" stroke="#b96946" stroke-width="0.6"/>
<path d="M252.9 569.7 L259.1 560.4 L266.1 554.2 L270 554.9 L270 590 L246.6 590 L245.1 579.1 L249.7 572.9Z" fill="#b96946" stroke="#b96946" stroke-width="0.6"/>
<path d="M188.2 586.1 L196.8 582.2 L204.5 579.1 L209.2 576 L211.6 582.2 L210 590 L189 590Z" fill="#b96946" stroke="#b96946" stroke-width="0.6"/>
<path d="M226.4 577.5 L234.2 577.5 L240.4 579.1 L245.1 585.3 L243.5 590 L227.9 590 L229.5 583.8Z" fill="#b96946" stroke="#b96946" stroke-width="0.6"/>
<path d="M260.9 540.1 L265.6 532.3 L271.8 523 L277.3 529.2 L279.6 533.9 L278.1 540.1 L273.4 547.9 L267.1 551 L262.5 546.4Z" fill="#b96946" stroke="#ffe6d3" stroke-width="1.05" stroke-linejoin="round"/>
<path d="M250 544.8 L259.4 543.2 L265.6 551 L262.5 557.3 L256.2 563.5 L250 566.6Z" fill="#b96946" stroke="#b96946" stroke-width="0.6"/>
<path d="M256.2 563.5 L265.6 556.5 L273.4 558.8 L273.4 566.6 L268.7 571.3 L250 571.3Z" fill="#b96946" stroke="#b96946" stroke-width="0.6"/>
<path d="M250 571.3 L270.3 571.3 L271.8 590 L250 590Z" fill="#b96946" stroke="#b96946" stroke-width="0.6"/>
<path d="M159.7 533.8 L160 532.7 L160.8 531.9 L161.8 532 L162.8 532.6 L163 534 L162.7 535.3 L161.7 536.1 L160.6 536.1 L159.8 535.1Z" fill="#b96946" stroke="#ffe6d3" stroke-width="1.05" stroke-linejoin="round"/>
<path d="M174.9 498.8 L185.8 493.4 L196.8 492.6 L205.3 497.3 L207.7 503.5 L204.5 512.1 L196.8 514.4 L189 518.3 L182.7 520.6 L178.1 519.9 L175.7 512.1 L173.4 507.4Z" fill="#d0a087" stroke="#ffe6d3" stroke-width="1.05" stroke-linejoin="round"/>
<path d="M210.8 484 L215.5 479.4 L227.9 477.8 L237.3 478.6 L239.6 485.6 L237.3 491.8 L234.9 497.3 L229.5 498.8 L223.2 498.1 L217 500.4 L210.8 503.5 L208.4 498.1 L210 490.3Z" fill="#d0a087" stroke="#ffe6d3" stroke-width="1.05" stroke-linejoin="round"/>
<path d="M238.8 488.7 L246.6 485.6 L252.9 484 L252.9 496.5 L251.3 507.4 L246.6 513.6 L240.4 515.2 L236.5 510.5 L238.8 505.8 L234.9 501.2 L236.5 494.9Z" fill="#d0a087" stroke="#ffe6d3" stroke-width="1.05" stroke-linejoin="round"/>
<path d="M173.4 540.1 L178.1 532.3 L185.1 530 L192.1 535.5 L196.8 544.8 L203 552.6 L209.2 554.9 L212.3 560.4 L207.7 563.5 L196.8 560.4 L185.1 558.8 L179.6 560.4 L174.9 552.6Z" fill="#d0a087" stroke="#ffe6d3" stroke-width="1.05" stroke-linejoin="round"/>
<path d="M163.2 529.2 L168.7 523 L174.9 520.6 L178.8 523.8 L181.2 528.4 L176.5 532.3 L168.7 534.7 L164 533.9Z" fill="#d0a087" stroke="#ffe6d3" stroke-width="1.05" stroke-linejoin="round"/>
<path d="M204.5 563.5 L212.3 560.4 L217 552.6 L223.2 554.9 L227.9 553.4 L232.6 554.9 L234.2 561.9 L237.3 567.4 L243.5 570.5 L241.9 576 L234.2 577.5 L226.4 576 L223.2 580.6 L212.3 582.2 L210 576 L211.6 569.7 L209.2 565.1Z" fill="#d0a087" stroke="#ffe6d3" stroke-width="1.05" stroke-linejoin="round"/>
<path d="M268.7 512.1 L274.9 501.2 L285.8 497.3 L295.2 500.4 L301.4 505.8 L307.7 512.1 L309.2 516.8 L303 518.3 L292.1 515.2 L287.4 516.8 L285.8 523 L278.1 524.5 L271.8 521.4Z" fill="#d0a087" stroke="#ffe6d3" stroke-width="1.05" stroke-linejoin="round"/>
<path d="M303.8 503.5 L315.5 497.3 L327.9 496.5 L328.7 505.8 L325.6 515.2 L326.4 521.4 L318.6 523 L310.8 521.4 L308.4 513.6Z" fill="#d0a087" stroke="#ffe6d3" stroke-width="1.05" stroke-linejoin="round"/>
<path d="M296.8 538.6 L309.2 537 L318.6 540.9 L324.8 544.8 L334.2 546.4 L343.5 557.3 L340.4 561.9 L331 563.5 L321.7 561.9 L312.3 563.5 L304.5 557.3 L296.8 554.2 L298.3 547.9Z" fill="#d0a087" stroke="#ffe6d3" stroke-width="1.05" stroke-linejoin="round"/>
<path d="M304.5 563.5 L318.6 561.9 L321.7 551 L335.7 549.5 L345.1 558.8 L351.3 563.5 L365.3 569.7 L368.4 576 L359.1 579.1 L349.7 582.2 L337.3 583.8 L331 579.1 L324.8 576 L315.5 571.3 L307.7 569.7Z" fill="#d0a087" stroke="#ffe6d3" stroke-width="1.05" stroke-linejoin="round"/>
<path d="M431 518.1 L436.5 513.4 L440.4 507.9 L445.1 508.7 L446.6 516.5 L452.9 520.4 L452.1 525.8 L446.6 530.5 L441.9 535.2 L436.5 536.8 L435.7 529 L434.2 522.7Z" fill="#d0a087" stroke="#ffe6d3" stroke-width="1.05" stroke-linejoin="round"/>
<path d="M350 560.1 L354.7 566.4 L365.6 566.4 L370.3 567.9 L365.6 572.6 L356.2 581.9 L350 585.1Z" fill="#d0a087" stroke="#d0a087" stroke-width="0.6"/>
<path d="M327.9 580 L359.1 580 L351.3 584.7 L343.5 585.5 L334.2 587 L331 584.7Z" fill="#d0a087" stroke="#d0a087" stroke-width="0.6"/>
<path d="M181.2 619 L187.4 617.4 L195.2 620.5 L195.2 626.8 L193.6 634.5 L192.9 640.8 L187.4 634.5 L182.7 626.8Z" fill="#d0a087" stroke="#ffe6d3" stroke-width="1.05" stroke-linejoin="round"/>
<path d="M182.2 532 L190 529.5 L194 529.5 L200 537.5 L203.2 550 L207 557 L212 562 L204.3 563 L197.8 559 L190 558 L182.2 552.7Z" fill="#d0a087" stroke="#d0a087" stroke-width="0.6"/>
<path d="M273.4 557.3 L285.8 560.4 L295.2 557.3 L304.5 557.3 L309.2 561.9 L304.5 569.7 L296.8 571.3 L287.4 576 L278.1 574.4 L273.4 566.6Z" fill="#ebd7cb" stroke="#ffe6d3" stroke-width="1.05" stroke-linejoin="round"/>
<path d="M270.3 583.1 L276.5 581.6 L281.2 587.8 L287.4 582.3 L301.4 580 L304.5 570.6 L315.5 572.2 L324.8 576.9 L327.9 580 L331 589.4 L324.8 594.8 L315.5 596.4 L311.6 603.4 L303 608.1 L296.8 609.6 L287.4 613.5 L278.1 614.3 L271.8 612.7 L271 603.4 L267.1 600.3 L270.3 594Z" fill="#ebd7cb" stroke="#ebd7cb" stroke-width="0.6"/>
<path d="M271.8 576 L278.1 572.9 L285.8 576 L292.1 571.3 L298.3 571.3 L300.6 579.1 L301.4 586.9 L293.6 586.9 L289 582.2 L281.2 583.8 L279.6 590 L271.8 590 L273.4 582.2Z" fill="#b96946" stroke="#b96946" stroke-width="0.6"/>
<path d="M276.5 580 L301.4 580 L300.6 586.2 L295.2 587.8 L291.3 583.1 L284.3 583.1 L281.2 588.6 L277.3 589.4Z" fill="#b96946" stroke="#b96946" stroke-width="0.6"/>
<path d="M295.4 579.6 L294.3 580 L293.2 579.4 L292.8 578.2 L292.8 577 L293.7 576.3 L294.6 575.7 L295.5 576.3 L295.9 577.4 L295.7 578.4Z" fill="#ebd7cb" stroke="#ffe6d3" stroke-width="1.05" stroke-linejoin="round"/>
<path d="M165.6 573.8 L201.4 575.3 L203 589.4 L198.3 597.1 L195.2 600.3 L199.9 606.5 L198.3 614.3 L192.1 619 L187.4 617.4 L181.2 619 L178.8 617.4 L165.6 595.6Z" fill="#ebd7cb" stroke="#ebd7cb" stroke-width="0.6"/>
<path d="M167.1 560.4 L179.6 560.4 L185.1 558.8 L196.8 560.4 L207.7 563.5 L210 576 L209.2 576 L204.5 579.1 L196.8 582.2 L188.2 586.1 L187.4 590 L168.7 590Z" fill="#ebd7cb" stroke="#ebd7cb" stroke-width="0.6"/>
<path d="M413.9 549.2 L417 543.8 L423.2 542.2 L431 543.8 L437.3 539.9 L441.2 538.3 L443.5 536.8 L437.3 544.5 L431 552.3 L423.2 557.8 L417 559.4 L412.3 554.7Z" fill="#9b3705" stroke="#ffe6d3" stroke-width="1.05" stroke-linejoin="round"/>
<path d="M333.4 589.4 L338.8 590.9 L343.5 587.8 L349.7 587 L352.9 592.5 L356 598.7 L362.2 602.6 L363.8 605.7 L357.5 612.7 L352.9 618.2 L350.5 611.2 L348.2 603.4 L341.9 597.1 L334.2 595.6Z" fill="#9b3705" stroke="#ffe6d3" stroke-width="1.05" stroke-linejoin="round"/>
<path d="M326.4 679.7 L329.5 675.8 L334.2 674.3 L338.8 676.6 L338.1 681.3 L332.6 682.9 L327.9 684.4Z" fill="#9b3705" stroke="#ffe6d3" stroke-width="1.05" stroke-linejoin="round"/>
<path d="M268.7 682.9 L272.6 681.3 L276.5 683.6 L277.3 689.1 L274.2 692.2 L270.3 689.9Z" fill="#9b3705" stroke="#ffe6d3" stroke-width="1.05" stroke-linejoin="round"/>
<path d="M196.8 600.3 L203 597.1 L212.3 592.5 L218.6 591.7 L220.1 595.6 L213.9 598.7 L212.3 603.4 L217 608.1 L221.7 611.2 L220.9 615.8 L217 619 L207.7 621.3 L204.5 626 L196.8 625.2 L195.2 620.5 L199.9 614.3 L201.4 608.1 L198.3 604.9Z" fill="#9b3705" stroke="#ffe6d3" stroke-width="1.05" stroke-linejoin="round"/>
<path d="M195.2 628.3 L203 627.5 L207.7 629.9 L209.2 634.5 L213.1 636.1 L212.3 645.5 L209.2 651.7 L203.8 656.4 L203 661 L199.9 659.5 L196.8 650.1 L192.9 642.3 L193.6 634.5Z" fill="#9b3705" stroke="#ffe6d3" stroke-width="1.05" stroke-linejoin="round"/>
<path d="M207.7 684.4 L212.3 682.9 L218.6 681.3 L223.2 684.4 L226.4 692.2 L224.8 696.9 L218.6 695.3 L212.3 690.6 L209.2 687.5Z" fill="#9b3705" stroke="#ffe6d3" stroke-width="1.05" stroke-linejoin="round"/>
<path d="M226.4 686 L232.6 679.7 L238.8 676.6 L243.5 674.3 L245.1 679.7 L249 686 L245.1 689.1 L238.8 690.6 L235.7 695.3 L231 692.2 L227.9 689.1Z" fill="#9b3705" stroke="#ffe6d3" stroke-width="1.05" stroke-linejoin="round"/>
<path d="M243.5 692.2 L249.7 686 L254.4 689.1 L259.1 695.3 L262.2 700 L246.6 700Z" fill="#9b3705" stroke="#9b3705" stroke-width="0.6"/>
<path d="M257 717.2 L266.4 714.9 L274.5 712.5 L280.4 711.4 L287.4 711.9 L294.4 714.9 L300.3 719.5 L301.4 723.1 L304.9 724.2 L309.6 725.4 L315.5 725.4 L319 730.1 L318.4 733.6 L317.2 742.9 L316.6 748.8 L311.9 752.3 L308.4 759.3 L304.9 767.5 L306.1 771 L301.4 775.6 L294.4 778 L288.6 783.8 L287.4 811.9 L214.9 811.9 L214.9 733.6 L250 733.6 L253.5 730.1 L259.4 725.4 L258.2 720.7Z" fill="#9b3705" stroke="#9b3705" stroke-width="0.6"/>
<path d="M304.9 721.9 L310.8 719.5 L317.8 716 L321.3 714.9 L324.8 717.2 L324.8 724.2 L319 728.9 L315.5 725.4 L308.4 725.4Z" fill="#9b3705" stroke="#ffe6d3" stroke-width="1.05" stroke-linejoin="round"/>
<path d="M207.9 686.4 L214.9 682.9 L220.7 682.9 L224.2 687.5 L226.6 692.2 L225.4 696.9 L220.7 695.7 L213.7 691 L209 689.9Z" fill="#9b3705" stroke="#ffe6d3" stroke-width="1.05" stroke-linejoin="round"/>
<path d="M226.6 687.5 L230.1 680.5 L235.9 678.2 L242.9 674.1 L245.3 680.5 L248.8 685.2 L247.6 688.7 L242.9 691.6 L239.4 695.1 L235.9 694.5 L233.6 691 L230.1 692.2 L227.7 691Z" fill="#9b3705" stroke="#ffe6d3" stroke-width="1.05" stroke-linejoin="round"/>
<path d="M244.1 691.6 L248.8 688.7 L253.4 686.4 L258.1 691 L261.6 696.9 L265.1 701.6 L260.5 703.9 L256.9 701.6 L252.3 699.2 L247.6 698.1 L244.1 695.1Z" fill="#9b3705" stroke="#ffe6d3" stroke-width="1.05" stroke-linejoin="round"/>
<path d="M234.2 699.2 L240.6 695.7 L244.1 695.7 L247.6 698.6 L253.4 701 L258.1 702.7 L255.8 706.2 L253.4 709.2 L248.8 710.9 L245.3 713.8 L240.6 710.3 L237.1 705.1Z" fill="#9b3705" stroke="#ffe6d3" stroke-width="1.05" stroke-linejoin="round"/>
<path d="M268.1 684 L271 681.1 L275.6 681.7 L277.4 686.4 L275.6 691 L271.6 692.2 L268.6 688.7Z" fill="#9b3705" stroke="#ffe6d3" stroke-width="1.05" stroke-linejoin="round"/>
<path d="M220.1 707.4 L224.2 706.2 L230.1 710.3 L231.2 713.2 L226.6 715.6 L223.1 713.8Z" fill="#9b3705" stroke="#ffe6d3" stroke-width="1.05" stroke-linejoin="round"/>
<path d="M226 717.3 L231.2 715 L237.1 721.4 L238.2 724.4 L233.6 728.4 L230.1 724.9Z" fill="#9b3705" stroke="#ffe6d3" stroke-width="1.05" stroke-linejoin="round"/>
<path d="M233.6 728.4 L239.4 724.9 L244.1 724.9 L246.4 728.4 L242.9 733.1 L239.4 737.8 L235.9 739 L234.2 733.7Z" fill="#9b3705" stroke="#ffe6d3" stroke-width="1.05" stroke-linejoin="round"/>
<path d="M244.1 731.9 L248.8 730.8 L252.3 735.5 L254.6 741.3 L253.4 748.3 L248.8 746 L246.4 740.1 L241.8 737.8Z" fill="#9b3705" stroke="#ffe6d3" stroke-width="1.05" stroke-linejoin="round"/>
<path d="M235.9 741.3 L241.8 739 L246.4 742.5 L252.3 749.5 L247.6 751.8 L242.9 751.8 L239.4 754.2 L237.1 748.3Z" fill="#9b3705" stroke="#ffe6d3" stroke-width="1.05" stroke-linejoin="round"/>
<path d="M256.9 717.3 L264 715.6 L271 713.2 L275.6 717.9 L276.8 726.1 L279.2 730.8 L272.1 731.9 L267.5 728.4 L262.8 724.9 L258.7 723.8Z" fill="#9b3705" stroke="#ffe6d3" stroke-width="1.05" stroke-linejoin="round"/>
<path d="M254.6 728.4 L258.7 727.3 L259.9 731.9 L261.6 737.8 L260.5 746 L258.7 750.6 L256.4 749.5 L256.9 740.1 L255.2 734.3Z" fill="#9b3705" stroke="#ffe6d3" stroke-width="1.05" stroke-linejoin="round"/>
<path d="M259.9 727.9 L267.5 728.4 L271 731.9 L276.8 733.1 L276.8 740.1 L272.1 743.6 L267.5 744.8 L262.8 748.3 L261.6 742.5 L262.2 735.5Z" fill="#9b3705" stroke="#ffe6d3" stroke-width="1.05" stroke-linejoin="round"/>
<path d="M276.8 713.2 L285 712.1 L285 721.4 L279.2 722.6 L276.8 719.1Z" fill="#9b3705" stroke="#9b3705" stroke-width="0.6"/>
<path d="M267.5 746 L274.5 742.5 L285 742.5 L285 754.2 L275.6 755.3 L269.8 753Z" fill="#9b3705" stroke="#9b3705" stroke-width="0.6"/>
<path d="M276.9 724.2 L280.4 721.3 L289.7 720.1 L294.4 722.5 L293.2 728.9 L288.6 731.2 L279.2 730.6Z" fill="#b96946" stroke="#ffe6d3" stroke-width="1.05" stroke-linejoin="round"/>
<path d="M278.1 733.6 L285.1 732.4 L290.9 734.7 L296.8 739.4 L288.6 739.4 L286.2 741.8 L279.2 739.4Z" fill="#b96946" stroke="#ffe6d3" stroke-width="1.05" stroke-linejoin="round"/>
<path d="M300.3 726.6 L304.9 724.2 L309.6 725.4 L307.3 730.1 L304.9 733.6 L300.3 731.2Z" fill="#b96946" stroke="#ffe6d3" stroke-width="1.05" stroke-linejoin="round"/>
<path d="M308.4 726.6 L315.5 725.4 L319 730.1 L313.7 732.4 L308.4 734.7 L307.3 730.1Z" fill="#b96946" stroke="#ffe6d3" stroke-width="1.05" stroke-linejoin="round"/>
<path d="M314.3 734.7 L326 726.6 L327.1 733.6 L328.3 751.1 L317.8 749.9 L317.2 742.9 L318.4 733.6Z" fill="#b96946" stroke="#ffe6d3" stroke-width="1.05" stroke-linejoin="round"/>
<path d="M250 761.6 L254.7 761.6 L254.7 769.8 L250 769.8Z" fill="#b96946" stroke="#b96946" stroke-width="0.6"/>
<path d="M250 771 L265.2 771 L265.2 779.2 L250 779.2Z" fill="#b96946" stroke="#b96946" stroke-width="0.6"/>
<path d="M242.5 754.5 L248.4 752.2 L251.9 753.4 L253.6 757.5 L249.5 760.4 L245.5 761Z" fill="#b96946" stroke="#ffe6d3" stroke-width="1.05" stroke-linejoin="round"/>
<path d="M250.1 773.2 L254.2 771.5 L261.2 772.1 L264.7 775.6 L262.4 779.1 L255.4 779.1 L251.3 777.9Z" fill="#b96946" stroke="#ffe6d3" stroke-width="1.05" stroke-linejoin="round"/>
<path d="M263 796.6 L265.9 793.7 L270 797.2 L271.8 802.5 L268.2 803.6 L264.7 801.3Z" fill="#b96946" stroke="#ffe6d3" stroke-width="1.05" stroke-linejoin="round"/>
<path d="M277.6 733.5 L285.8 732.9 L294 735.8 L296.3 740.5 L290.5 742.9 L285.8 740.5 L279.9 739.4Z" fill="#b96946" stroke="#ffe6d3" stroke-width="1.05" stroke-linejoin="round"/>
<path d="M306.8 727.7 L317.3 727.7 L317.3 734.7 L306.8 734.7Z" fill="#b96946" stroke="#b96946" stroke-width="0.6"/>
<path d="M251.9 752.8 L257.7 752.2 L263.6 749.9 L265.3 755.1 L263.6 761.6 L262.4 767.4 L258.9 768.6 L256.6 763.9 L253.1 760.4 L254.2 756.9Z" fill="#d0a087" stroke="#ffe6d3" stroke-width="1.05" stroke-linejoin="round"/>
<path d="M224.2 698.1 L228.9 693.4 L232.4 691 L234.7 694.5 L234.2 699.2 L237.1 705.1 L240 710.3 L235.9 709.7 L231.2 706.2 L227.7 703.9Z" fill="#d0a087" stroke="#ffe6d3" stroke-width="1.05" stroke-linejoin="round"/>
<path d="M242.9 720.3 L248.8 719.1 L255.8 721.4 L256.9 724.9 L253.4 727.3 L248.8 728.4 L245.3 724.9Z" fill="#d0a087" stroke="#ffe6d3" stroke-width="1.05" stroke-linejoin="round"/>
<path d="M136.1 318.7 L146.5 314.8 L162.1 316.1 L167.3 329.1 L177.7 336.9 L184.2 347.3 L180.3 352.5 L164.7 357.7 L158.2 361.6 L151.7 352.5 L142.6 344.7 L141.3 329.1Z" fill="#ebd7cb" stroke="#ffe6d3" stroke-width="1.05" stroke-linejoin="round"/>
<path d="M192.3 356.9 L200.6 344.4 L209 336.1 L213.1 342.3 L216.2 352.7 L219.4 363.1 L211 361 L200.6 359Z" fill="#ebd7cb" stroke="#ffe6d3" stroke-width="1.05" stroke-linejoin="round"/>
<path d="M211 334 L221.4 329.9 L229.7 321.6 L236 313.2 L240.1 311.2 L241.2 325.7 L239.1 342.3 L227.7 344.4 L217.3 344.4 L212.1 340.3Z" fill="#ebd7cb" stroke="#ffe6d3" stroke-width="1.05" stroke-linejoin="round"/>
<path d="M240.1 329.9 L254.7 327.8 L260.9 334 L252.6 340.3 L242.2 342.3Z" fill="#ebd7cb" stroke="#ffe6d3" stroke-width="1.05" stroke-linejoin="round"/>
<path d="M177.7 381 L189.4 361.6 L193.2 375.8 L195.8 391.4 L185.5 390.1Z" fill="#ebd7cb" stroke="#ffe6d3" stroke-width="1.05" stroke-linejoin="round"/>
<path d="M167.3 391.4 L177.7 383.6 L185.5 391.4 L195.8 392.7 L195.8 407 L185.5 412.2 L175.1 409.6Z" fill="#ebd7cb" stroke="#ffe6d3" stroke-width="1.05" stroke-linejoin="round"/>
<path d="M193.2 381 L206.2 378.4 L221.8 386.2 L232.2 375.8 L240 375.8 L240 401.8 L232.2 412.2 L221.8 417.4 L211.4 412.2 L206.2 399.2 L195.8 391.4Z" fill="#ebd7cb" stroke="#ebd7cb" stroke-width="0.6"/>
<path d="M279.6 245.7 L276.2 241.3 L277 233.6 L278.7 226.8 L282.7 225.5 L285.8 229.6 L288 235.8 L286.2 242.4 L283.4 247.5Z" fill="#ebd7cb" stroke="#ffe6d3" stroke-width="1.05" stroke-linejoin="round"/>
<path d="M284.7 282.7 L280.5 287 L272.8 288.5 L268 283.8 L266 278.8 L267.9 273.2 L274.9 269.9 L282.5 272.4 L286.3 277.4Z" fill="#ebd7cb" stroke="#ffe6d3" stroke-width="1.05" stroke-linejoin="round"/>
<path d="M328.9 275 L330.2 280.6 L320.9 283.1 L311.8 282.7 L305.2 279.4 L303.1 274.5 L306.6 269.2 L316.8 268.8 L326.3 269.8Z" fill="#ebd7cb" stroke="#ffe6d3" stroke-width="1.05" stroke-linejoin="round"/>
<path d="M263.9 295 L267 292.9 L269.8 295.5 L271.3 299.4 L271 303.9 L268.8 307.9 L265.3 307.4 L262.9 304.1 L261.9 299.2Z" fill="#ebd7cb" stroke="#ffe6d3" stroke-width="1.05" stroke-linejoin="round"/>
<path d="M240.8 337.3 L240 332.7 L244.2 329.4 L249.7 329.7 L254.5 331.5 L256 335.9 L254.5 340.4 L249 342.4 L243.9 340.6Z" fill="#ebd7cb" stroke="#ffe6d3" stroke-width="1.05" stroke-linejoin="round"/>
<path d="M296.7 355.8 L296 359.9 L290.5 363.2 L283.2 361.9 L277.3 359.5 L277.8 355.3 L280 351.1 L287.6 349.5 L294.6 351.6Z" fill="#ebd7cb" stroke="#ffe6d3" stroke-width="1.05" stroke-linejoin="round"/>
<path d="M313.2 363.5 L315.3 367.8 L314.1 372.9 L311 375.9 L307.2 375.2 L304 372 L303.5 366.3 L306.4 362.4 L310 360.7Z" fill="#ebd7cb" stroke="#ffe6d3" stroke-width="1.05" stroke-linejoin="round"/>
<path d="M342.9 350.7 L339.7 357 L335 359.5 L330.9 354.1 L330.4 345.6 L331.8 338.3 L335.5 333.5 L339.4 337.3 L342.6 342.3Z" fill="#ebd7cb" stroke="#ffe6d3" stroke-width="1.05" stroke-linejoin="round"/>
<path d="M354.3 340.5 L350.5 341 L346.1 340 L345.7 335.5 L346.9 331.6 L350.5 329.3 L355.2 329.3 L356.9 333.6 L357.5 337.7Z" fill="#ebd7cb" stroke="#ffe6d3" stroke-width="1.05" stroke-linejoin="round"/>
<path d="M360.3 371.9 L365.8 365.8 L374.2 364 L380.4 368.9 L383.7 375.1 L381.2 381.6 L375.2 386.9 L366.4 386.1 L363 379.1Z" fill="#ebd7cb" stroke="#ffe6d3" stroke-width="1.05" stroke-linejoin="round"/>
<path d="M402.4 377.4 L399.5 377.6 L396.9 376.6 L395.9 374.3 L397.5 372.3 L400.1 371.5 L402.9 371.6 L404.6 373.5 L404.7 375.9Z" fill="#ebd7cb" stroke="#ffe6d3" stroke-width="1.05" stroke-linejoin="round"/>
<path d="M266.1 382 L265 391.1 L259.1 398 L249.9 399.3 L244 392.8 L238.5 385.3 L242.7 376.4 L251.2 371.6 L260.7 374.1Z" fill="#ebd7cb" stroke="#ffe6d3" stroke-width="1.05" stroke-linejoin="round"/>
<path d="M290.2 416.5 L288.5 410.8 L289.8 404.8 L298.3 403.3 L305.9 404.3 L311.2 408.4 L310.9 413.9 L306 418.5 L297.8 418.6Z" fill="#ebd7cb" stroke="#ffe6d3" stroke-width="1.05" stroke-linejoin="round"/>
<path d="M365 413.5 L360.6 417.2 L350.7 419.6 L339.1 418.3 L327.1 416 L328.6 411.2 L338.8 408.5 L350.7 407.6 L361.8 409.5Z" fill="#ebd7cb" stroke="#ffe6d3" stroke-width="1.05" stroke-linejoin="round"/>
<path d="M404.8 418.3 L400.2 415.9 L401.1 412 L407.1 410.3 L413.2 410.4 L416.9 412.9 L417.8 415.8 L415.4 418.7 L409.8 419.6Z" fill="#ebd7cb" stroke="#ffe6d3" stroke-width="1.05" stroke-linejoin="round"/>
<path d="M219.3 195.3 L221.7 198.1 L223.5 202.1 L220 205.1 L215.7 205.3 L211.6 204 L210.9 200.2 L211.4 196.3 L215 193.3Z" fill="#ebd7cb" stroke="#ffe6d3" stroke-width="1.05" stroke-linejoin="round"/>
<path d="M230.2 210.3 L232.2 214.5 L231.4 218.7 L226.7 221 L220.6 222.1 L216.1 218.7 L214.4 214.2 L218.6 210.7 L224.1 209.5Z" fill="#ebd7cb" stroke="#ffe6d3" stroke-width="1.05" stroke-linejoin="round"/>
<path d="M250.4 215.5 L252.9 219.8 L253.3 225.8 L251.5 230.9 L248.3 232.6 L245.7 229.5 L244 225.1 L244.8 219.9 L247.3 217.5Z" fill="#ebd7cb" stroke="#ffe6d3" stroke-width="1.05" stroke-linejoin="round"/>
<path d="M281.8 230.4 L280.8 233.4 L279 235.3 L276.8 234.3 L276.1 230.4 L276.1 226.4 L277.8 223.6 L280.2 223.6 L281.5 226.9Z" fill="#ebd7cb" stroke="#ffe6d3" stroke-width="1.05" stroke-linejoin="round"/>
<path d="M449.4 377.5 L446.1 376.9 L443.8 374.3 L443.1 370.6 L445.4 367.2 L449.5 366.5 L452.6 368.9 L454.3 372.4 L453.1 376.3Z" fill="#ebd7cb" stroke="#ffe6d3" stroke-width="1.05" stroke-linejoin="round"/>
<path d="M563 345.1 L552.2 350.6 L536.7 350.2 L525.3 345.1 L524.5 337.6 L532.7 332.2 L544.7 328.1 L557.1 331.9 L566.5 337.6Z" fill="#ebd7cb" stroke="#ffe6d3" stroke-width="1.05" stroke-linejoin="round"/>
<path d="M676.6 327 L675.6 330.9 L671.6 334.4 L664.8 334 L661 330.7 L660.1 327.1 L662.8 323.9 L667.9 321.3 L674.3 323Z" fill="#ebd7cb" stroke="#ffe6d3" stroke-width="1.05" stroke-linejoin="round"/>
<path d="M689.2 338.2 L683.1 339.9 L677.5 337.6 L675.4 333.7 L676.2 329.7 L681.2 327.9 L686.3 328.3 L692.1 329.8 L692.2 334.4Z" fill="#ebd7cb" stroke="#ffe6d3" stroke-width="1.05" stroke-linejoin="round"/>
<path d="M609.1 338.3 L612.7 336 L617.4 334.6 L622.7 335.6 L624.2 338.3 L623.5 340.8 L620 342.5 L615.2 342.5 L610.9 341.1Z" fill="#ebd7cb" stroke="#ffe6d3" stroke-width="1.05" stroke-linejoin="round"/>
<path d="M634.1 356.8 L630.5 354.4 L627.2 350.5 L629.3 345.6 L632.7 342.4 L637.1 342.4 L641 345.7 L640.7 351.2 L638.9 356.3Z" fill="#ebd7cb" stroke="#ffe6d3" stroke-width="1.05" stroke-linejoin="round"/>
<path d="M633.9 361.4 L635.4 357.2 L639.2 356 L643 356 L645.1 359.5 L644.8 363.4 L643.2 367.7 L639 367.3 L635.4 365.6Z" fill="#ebd7cb" stroke="#ffe6d3" stroke-width="1.05" stroke-linejoin="round"/>
<path d="M639.7 364 L644.9 365.8 L648.6 370.4 L648.6 377 L645.2 382.5 L639.7 381.7 L634.7 379.6 L633.6 373.4 L635.4 367.7Z" fill="#ebd7cb" stroke="#ffe6d3" stroke-width="1.05" stroke-linejoin="round"/>
<path d="M638.4 381.1 L642.4 383.7 L644.5 389.2 L643.3 395.4 L638.8 397.7 L634.4 397.3 L631.5 392.7 L631.3 386.9 L633.8 381.9Z" fill="#ebd7cb" stroke="#ffe6d3" stroke-width="1.05" stroke-linejoin="round"/>
<path d="M593.3 356.4 L593.8 350.9 L597.6 345.9 L604.7 345.7 L610.9 348.6 L613.2 354.4 L609 359 L603.7 362.1 L596.7 361.6Z" fill="#ebd7cb" stroke="#ffe6d3" stroke-width="1.05" stroke-linejoin="round"/>
<path d="M615.6 368.4 L618 371 L618.4 374.5 L615.1 376.7 L611.2 377.5 L608 375.4 L605.7 372.3 L607.3 368.5 L611.5 366.4Z" fill="#ebd7cb" stroke="#ffe6d3" stroke-width="1.05" stroke-linejoin="round"/>
<path d="M609.2 418.4 L604.3 419.2 L600.5 417.1 L597.2 414.4 L598.5 410.7 L603.4 409.6 L608.4 408.9 L611.2 412 L611.7 415.3Z" fill="#ebd7cb" stroke="#ffe6d3" stroke-width="1.05" stroke-linejoin="round"/>
<path d="M139.4 426.5 L145.2 425.5 L146.2 432.3 L153 435.3 L158.8 436.2 L154.9 442.1 L151 447.9 L149.1 453.8 L145.2 459.6 L137.4 457.7 L132.5 454.7 L137.4 451.8 L143.2 447.9 L142.3 438.2 L139.4 434.3Z" fill="#d0a087" stroke="#ffe6d3" stroke-width="1.05" stroke-linejoin="round"/>
<path d="M188.1 586.4 L194.3 584.3 L195.3 579.1 L201.6 578.1 L205.7 577 L208.8 574.4 L210.9 577 L208.8 581.2 L209.9 584.3 L216.1 583.2 L222.3 582.2 L226.5 581.2 L226.5 587.4 L222.3 589.5 L216.1 589.5 L210.9 591.6 L206.8 593.6 L203.6 591.6 L199.5 589.5 L194.3 589.5 L190.1 588.4Z" fill="#b96946" stroke="#ffe6d3" stroke-width="1.05" stroke-linejoin="round"/>
<path d="M344.9 494.8 L360.5 494.8 L360.5 539 L355.3 551.9 L352.7 554.5 L347.5 549.4 L339.7 544.2 L338.4 536.4 L342.3 531.2 L351.4 528.6 L350.1 524.7 L342.3 515.6 L341 507.8Z" fill="#ebd7cb" stroke="#ebd7cb" stroke-width="0.6"/>
<path d="M-162.2 2628.0L-161.7 2624.9L-161.5 2621.6L-160.8 2618.5L-159.9 2615.4L-157.8 2612.6L-158.4 2609.2L-157.3 2606.1L-155.8 2603.2L-155.4 2600.0L-153.7 2597.1L-154.1 2593.7L-153.5 2590.6L-152.3 2587.6L-152.5 2584.2L-150.0 2581.5L-150.6 2578.1L-149.9 2575.0L-148.4 2572.0L-149.0 2568.6L-146.9 2565.8L-145.7 2562.8L-146.3 2559.3L-144.0 2556.6L-144.3 2553.2L-143.0 2550.2L-143.0 2546.9L-142.4 2543.8L-142.0 2540.6L-141.9 2537.3L-140.7 2534.3L-138.0 2531.7L-138.4 2528.3L-137.8 2525.1L-136.0 2522.3L-136.0 2519.0L-134.3 2516.1L-135.1 2512.6L-134.7 2509.4L-132.2 2506.7L-133.4 2503.1L-131.0 2500.4L-130.8 2497.1L-129.1 2494.2L-128.4 2491.1L-128.4 2487.8L-129.2 2484.3L-128.5 2481.2L-126.7 2478.4L-125.0 2475.4L-126.2 2471.9L-124.6 2469.0L-124.7 2465.6L-123.4 2462.7L-123.4 2459.4L-121.8 2456.4L-120.6 2453.4L-120.7 2450.1L-118.5 2447.4L-119.6 2443.8L-118.4 2440.8L-117.6 2437.7L-116.5 2434.7L-114.8 2431.8L-115.1 2428.4L-113.5 2425.5L-112.2 2422.5L-113.4 2418.9L-110.8 2416.2L-110.8 2412.9L-109.7 2409.9L-109.3 2406.7L-109.0 2403.5L-109.1 2400.2L-108.2 2397.1L-107.4 2394.0L-106.6 2390.9L-106.0 2387.7L-105.1 2384.6L-103.5 2381.7L-102.2 2378.7L-101.4 2375.6L-100.5 2372.6L-101.6 2369.0L-99.1 2366.3L-100.0 2362.8L-99.5 2359.6L-98.2 2356.6L-96.7 2353.7L-97.3 2350.2L-96.2 2347.2L-95.0 2344.2L-93.2 2341.4L-93.5 2338.0L-92.7 2334.9L-92.1 2331.7L-92.0 2328.4L-89.3 2325.8L-88.5 2322.7L-88.2 2319.5L-88.3 2316.2L-87.4 2313.1L-87.0 2309.9L-85.4 2307.0L-84.7 2303.8L-84.8 2300.5L-82.6 2297.7L-82.3 2294.5L-82.8 2291.1L-80.6 2288.3L-80.2 2285.1L-80.5 2281.8L-79.7 2278.7L-77.8 2275.8L-78.7 2272.3L-77.1 2269.4L-75.0 2266.6L-76.1 2263.1L-74.7 2260.1L-72.9 2257.2L-72.3 2254.1L-71.7 2250.9L-71.6 2247.6L-69.9 2244.8L-70.9 2241.2L-68.5 2238.5L-69.0 2235.1L-67.6 2232.1L-67.0 2229.0L-67.1 2225.7L-65.3 2222.8L-64.8 2219.6L-63.1 2216.7L-63.2 2213.4L-63.0 2210.2L-62.4 2207.0L-60.4 2204.2L-61.0 2200.8L-59.4 2197.8L-58.6 2194.7L-57.2 2191.8L-58.4 2188.2L-56.5 2185.4L-57.0 2181.9L-55.1 2179.1L-54.3 2176.0L-53.3 2172.9L-52.3 2169.9L-53.1 2166.4L-50.8 2163.6L-51.4 2160.2L-50.5 2157.1L-50.5 2153.8L-48.7 2151.0L-49.3 2147.5L-47.7 2144.6L-46.1 2141.7L-45.2 2138.6L-45.9 2135.2L-43.6 2132.4L-43.7 2129.1L-43.6 2125.8L-41.4 2123.0L-40.7 2119.9L-40.7 2116.6L-39.8 2113.6L-38.8 2110.5L-38.0 2107.4L-37.0 2104.3L-36.2 2101.2L-36.9 2097.8L-36.6 2094.5L-35.7 2091.5L-34.4 2088.5L-33.0 2085.5L-31.3 2082.6L-31.9 2079.2L-31.3 2076.0L-30.1 2073.0L-28.3 2070.2L-28.5 2066.8L-28.5 2063.5L-26.6 2060.7L-25.3 2057.7L-25.0 2054.5L-25.3 2051.1L-25.1 2047.9L-23.6 2044.9L-23.7 2041.6L-23.0 2038.5L-21.4 2035.6L-19.7 2032.7L-19.3 2029.5L-19.3 2026.2L-17.2 2023.4L-18.4 2019.8L-17.5 2016.7L-16.7 2013.6L-15.2 2010.7L-13.7 2007.8L-14.2 2004.3L-12.3 2001.5L-11.3 1998.4L-11.7 1995.0L-9.9 1992.2L-9.2 1989.0L-9.5 1985.7L-9.5 1982.4L-9.0 1979.2L-7.9 1976.2L-6.6 1973.2L-7.0 1969.8L-5.4 1966.9L-4.3 1963.9L-3.9 1960.6L-2.2 1957.8L-1.9 1954.6L-1.2 1951.4L-0.2 1948.4L0.4 1945.2L0.7 1942.0L0.8 1938.7L2.6 1935.9L2.0 1932.4L2.7 1929.3L4.2 1926.4L4.7 1923.2L6.8 1920.4L6.0 1916.9L7.5 1913.9L8.8 1911.0L8.9 1907.7L10.6 1904.8L9.6 1901.3L10.5 1898.2L11.5 1895.1L12.5 1892.1L13.7 1889.1L13.5 1885.7L15.2 1882.8L16.3 1879.8L16.9 1876.6L18.0 1873.6L16.9 1870.1L19.2 1867.3L20.0 1864.2L21.0 1861.2L20.1 1857.6L20.6 1854.5L23.1 1851.8L23.5 1848.6L23.1 1845.2L25.6 1842.5L25.9 1839.3L26.4 1836.1L27.5 1833.1L27.9 1829.9L28.0 1826.6L28.0 1823.3L29.4 1820.3L30.9 1817.4L30.5 1814.0L31.3 1810.9L31.8 1807.7L33.5 1804.8L35.5 1802.0L35.6 1798.7L34.5 1795.2L36.2 1792.3L37.7 1789.4L37.0 1785.9L39.5 1783.2L38.8 1779.7L40.1 1776.7L41.7 1773.8L42.7 1770.8L41.4 1767.2L44.0 1764.5L44.9 1761.4L45.5 1758.3L46.1 1755.1L45.8 1751.8L46.4 1748.6L46.5 1745.3L48.1 1742.4L48.6 1739.2L49.0 1736.0L51.7 1733.4L52.3 1730.2L52.9 1727.1L52.3 1723.6L52.6 1720.4L54.1 1717.5L54.0 1714.2L55.4 1711.2L56.8 1708.2L56.8 1704.9L57.6 1701.8L58.3 1698.7L60.3 1695.9L59.1 1692.3L61.8 1689.7L62.0 1686.4L62.6 1683.3L63.7 1680.2L62.7 1676.7L65.6 1674.1L64.9 1670.6L65.9 1667.6L66.9 1664.5L68.7 1661.6L67.7 1658.1L69.2 1655.2L71.1 1652.3L69.9 1648.8L71.7 1645.9L71.3 1642.5L73.0 1639.6L73.4 1636.4L74.5 1633.4L73.9 1629.9L75.1 1626.9L77.6 1624.2L76.5 1620.7L77.5 1617.6L80.0 1614.9L78.9 1611.4L80.5 1608.4L80.8 1605.2L80.5 1601.9L82.9 1599.1L83.2 1595.9L85.1 1593.1L85.9 1590.0L84.4 1586.3L86.4 1583.5L86.5 1580.2L86.7 1577.0L89.5 1574.3L88.1 1570.7L89.9 1567.9L90.0 1564.6L91.6 1561.7L91.4 1558.3L93.8 1555.6L93.4 1552.2L93.6 1549.0L95.9 1546.2L94.9 1542.7L97.2 1539.9L96.7 1536.5L98.9 1533.8L98.2 1530.3L99.9 1527.4L100.7 1524.3L101.0 1521.1L102.7 1518.2L102.6 1514.9L102.6 1511.6L104.1 1508.6L105.2 1505.6L105.3 1502.3L106.3 1499.3L105.9 1495.9L107.1 1492.9L109.1 1490.1L108.8 1486.7L109.1 1483.5L111.4 1480.7L110.2 1477.1L111.0 1474.0L111.8 1470.9L112.8 1467.9L113.2 1464.7L114.6 1461.7L115.3 1458.6L117.7 1455.9L116.7 1452.3L118.3 1449.4L118.3 1446.1L120.1 1443.3L119.3 1439.8L120.6 1436.8L120.9 1433.6L122.0 1430.5L122.7 1427.4L123.9 1424.4L125.9 1421.6L124.3 1417.9L125.6 1414.9L127.2 1412.0L128.6 1409.0L128.2 1405.6L128.8 1402.5L129.5 1399.4L130.4 1396.3L131.5 1393.3L132.9 1390.3L131.7 1386.7L132.8 1383.7L133.7 1380.6L135.4 1377.7L136.5 1374.7L135.5 1371.2L136.1 1368.0L137.1 1364.9L138.7 1362.0L140.1 1359.1L141.5 1356.1L140.7 1352.6L141.6 1349.5L143.5 1346.7L144.0 1343.5L145.0 1340.5L144.2 1337.0L146.0 1334.1L147.0 1331.1L146.4 1327.6L147.1 1324.5L149.6 1321.8L148.5 1318.2L149.5 1315.2L149.7 1311.9L152.4 1309.3L152.5 1306.0L152.3 1302.7L153.5 1299.7L154.3 1296.5L153.9 1293.2L156.5 1290.5L155.6 1287.0L157.1 1284.0L158.7 1281.1L158.3 1277.7L160.3 1274.9L161.4 1271.9L161.6 1268.6L161.6 1265.3L163.6 1262.5L162.9 1259.0L165.3 1256.3L165.1 1253.0L165.6 1249.8L167.2 1246.9L166.0 1243.3L167.2 1240.3L169.2 1237.5L168.1 1233.9L171.1 1231.3L170.6 1227.9L171.4 1224.8L173.5 1222.0L171.9 1218.4L172.5 1215.2L174.6 1212.4L175.5 1209.3L176.8 1206.4L175.9 1202.8L178.4 1200.1L178.5 1196.9L179.1 1193.7L178.4 1190.3L181.1 1187.6L180.4 1184.1L182.3 1181.3L183.8 1178.4L182.1 1174.7L183.9 1171.8L185.9 1169.0L185.0 1165.5L187.1 1162.7L187.8 1159.6L188.3 1156.4L189.8 1153.4L189.8 1150.1L189.0 1146.7L191.6 1144.0L192.1 1140.8L191.9 1137.5L191.9 1134.2L193.1 1131.2L194.5 1128.2L194.6 1124.9L197.2 1122.2L195.8 1118.6L196.8 1115.6L197.2 1112.4L199.5 1109.6L200.5 1106.6L199.7 1103.1L200.8 1100.1L202.8 1097.2L202.8 1094.0L202.6 1090.6L205.3 1088.0L205.5 1084.7L205.1 1081.3L206.2 1078.3L207.0 1075.2L208.1 1072.1L208.4 1068.9L208.4 1065.6L209.6 1062.6L209.8 1059.4L211.5 1056.5L212.5 1053.4L213.2 1050.3L212.6 1046.9L214.6 1044.0L215.9 1041.1L216.1 1037.8L216.3 1034.5L218.1 1031.7L217.9 1028.3L219.7 1025.5L218.4 1021.9L219.4 1018.8L221.0 1015.9L220.8 1012.6L221.8 1009.5L224.5 1006.8L224.8 1003.6L224.3 1000.2L224.6 997.0L226.9 994.2L227.6 991.1L227.0 987.7L228.7 984.8L229.6 981.7L229.0 978.3L229.8 975.2L230.3 972.0L233.1 969.4L232.5 965.9L233.3 962.8L233.3 959.5L235.6 956.8L235.3 953.4L236.8 950.5L237.1 947.2L237.8 944.1L237.8 940.8L239.2 937.9L241.5 935.1L242.3 932.0L242.9 928.9L243.5 925.7L244.2 922.6L244.4 919.3L245.1 916.2L246.2 913.2L247.5 910.2L247.3 906.9L248.0 903.7L249.1 900.7L250.2 897.7L250.1 894.3L249.6 890.9L251.8 888.2L251.9 884.9L252.1 881.6L252.6 878.5L254.6 875.6L256.4 872.8L256.1 869.4L257.6 866.5L256.6 862.9L257.8 859.9L260.1 857.2L260.2 853.9L261.0 850.8L260.7 847.4L262.3 844.5L262.3 841.2L262.6 838.0L263.3 834.9L264.1 831.8L264.6 828.6L266.1 825.7L268.0 822.8L268.0 819.5L268.3 816.3L269.7 813.3L271.1 810.4L270.2 806.9L272.6 804.2L272.3 800.8M397.1 920.0L395.8 916.8L392.4 915.6L389.6 913.8L388.6 910.4L386.8 907.7L383.6 906.3L381.3 904.1L378.9 901.9L376.5 899.8L375.3 896.5L372.4 894.9L371.4 891.4L368.2 890.0L365.4 888.2L364.3 884.9L362.6 882.0L358.8 881.2L358.2 877.4L355.4 875.7L353.4 873.1L351.5 870.5L348.6 868.9L346.3 866.6L343.4 865.0L341.7 862.2L339.7 859.6L337.0 857.8L335.1 855.2L332.8 853.0L331.4 849.8L328.3 848.4L327.1 845.1L323.7 844.0L322.3 840.9L319.8 838.9L317.2 836.9L315.9 833.7L314.1 831.0L310.2 830.2L309.3 826.7L305.7 825.7L304.0 822.9L303.0 819.5L300.8 817.2L298.5 814.9L295.2 813.6L293.7 810.6L291.9 807.9L288.0 807.2L287.2 803.5L284.8 801.4L282.2 799.4M-575.2 2202.7L-574.6 2199.3L-572.6 2196.8L-569.2 2195.0L-568.8 2191.5L-566.2 2189.4L-564.4 2186.8L-562.8 2183.9L-562.0 2180.7L-561.0 2177.6L-558.6 2175.3L-556.6 2172.7L-555.1 2169.9L-555.0 2166.2L-553.3 2163.5L-551.7 2160.7L-549.6 2158.3L-547.7 2155.7L-546.1 2152.9L-543.6 2150.7L-541.9 2147.9L-541.4 2144.5L-539.6 2141.9L-536.7 2139.8L-535.5 2136.8L-535.4 2133.2L-533.1 2130.8L-530.3 2128.7L-529.4 2125.6L-528.5 2122.4L-526.4 2119.9L-524.1 2117.5L-523.6 2114.1L-521.8 2111.4L-518.9 2109.5L-518.2 2106.1L-516.6 2103.4L-513.6 2101.4L-512.1 2098.6L-511.9 2095.0L-510.9 2091.8L-508.9 2089.3L-505.5 2087.6L-504.5 2084.5L-503.9 2081.1L-500.7 2079.3L-499.2 2076.5L-497.9 2073.5L-497.8 2069.8L-495.0 2067.8L-494.1 2064.6L-492.4 2061.9L-490.4 2059.3L-488.8 2056.6L-486.1 2054.5L-485.6 2051.0L-484.4 2048.0L-482.8 2045.2L-480.5 2042.9L-479.2 2039.9L-476.4 2037.9L-475.2 2034.8L-473.3 2032.2L-472.9 2028.7L-470.4 2026.5L-468.5 2023.9L-468.3 2020.3L-465.9 2018.0L-463.7 2015.6L-463.2 2012.2L-459.7 2010.5L-459.8 2006.7L-458.4 2003.9L-455.4 2001.9L-453.1 1999.5L-452.0 1996.5L-450.9 1993.4L-449.7 1990.4L-448.3 1987.5L-447.0 1984.5L-445.0 1982.0L-442.5 1979.8L-441.7 1976.5L-438.4 1974.7L-438.6 1970.9L-436.8 1968.2L-434.8 1965.7L-432.0 1963.7L-431.7 1960.1L-430.4 1957.1L-427.6 1955.1L-427.4 1951.5L-424.9 1949.3L-423.8 1946.2L-420.5 1944.4L-420.0 1941.0L-418.2 1938.3L-415.6 1936.1L-414.6 1933.0L-412.2 1930.7L-411.9 1927.2L-409.2 1925.0L-408.6 1921.7L-407.3 1918.7L-404.1 1916.9L-403.3 1913.7L-402.7 1910.3L-400.1 1908.1L-398.2 1905.5L-397.8 1902.0L-395.4 1899.7L-393.9 1896.9L-392.8 1893.8L-390.0 1891.7L-388.9 1888.7L-387.0 1886.1L-385.5 1883.3L-383.7 1880.6L-381.7 1878.1L-380.7 1874.9L-378.0 1872.8L-376.5 1870.0L-375.8 1866.6L-375.0 1863.4L-372.5 1861.2L-371.1 1858.3L-368.3 1856.2L-368.0 1852.7L-366.9 1849.6L-365.0 1847.0L-361.8 1845.2L-361.9 1841.4L-358.5 1839.7L-357.9 1836.3L-356.0 1833.7L-353.9 1831.2L-352.0 1828.6L-352.1 1824.9L-349.4 1822.7L-348.6 1819.5L-345.3 1817.7L-344.1 1814.7L-343.6 1811.3L-341.8 1808.6L-338.7 1806.7L-337.1 1804.0L-335.9 1800.9L-335.9 1797.2L-333.9 1794.7L-331.4 1792.5L-330.6 1789.2L-328.3 1786.8L-327.8 1783.4L-325.1 1781.3L-323.5 1778.5L-321.1 1776.2L-320.5 1772.8L-317.6 1770.8L-317.5 1767.2L-316.3 1764.1L-313.7 1762.0L-312.7 1758.8L-309.3 1757.1L-308.0 1754.2L-306.1 1751.6L-306.1 1747.9L-303.0 1746.0L-301.2 1743.3L-301.0 1739.7L-298.2 1737.7L-297.6 1734.3L-296.3 1731.3L-293.6 1729.2L-292.7 1726.0L-291.2 1723.2L-288.8 1720.9L-287.1 1718.2L-286.9 1714.6L-285.2 1711.8L-282.5 1709.8L-281.8 1706.4L-280.2 1703.7L-276.7 1702.0L-275.0 1699.3L-273.9 1696.2L-271.8 1693.8L-270.7 1690.7L-268.5 1688.2L-268.9 1684.3L-266.5 1682.0L-264.9 1679.2L-263.3 1676.5L-261.8 1673.6L-260.1 1670.9L-257.5 1668.7L-255.4 1666.2L-253.8 1663.5L-253.4 1660.0L-251.3 1657.5L-250.4 1654.3L-248.6 1651.6L-245.7 1649.7L-244.9 1646.4L-244.2 1643.1L-241.7 1640.8L-239.4 1638.5L-238.0 1635.6L-237.6 1632.1L-235.4 1629.7L-233.9 1626.9L-232.5 1624.0L-230.8 1621.2L-227.8 1619.3L-226.8 1616.2L-224.6 1613.7L-223.9 1610.4L-221.3 1608.3L-221.5 1604.4L-219.1 1602.1L-217.8 1599.1L-216.0 1596.5L-213.4 1594.4L-213.0 1590.9L-209.8 1589.0L-208.8 1585.9L-206.5 1583.5L-206.8 1579.6L-205.0 1576.9L-203.5 1574.2L-199.7 1572.7L-199.2 1569.2L-198.5 1565.9L-196.4 1563.5L-194.6 1560.8L-193.2 1557.9L-191.4 1555.2L-189.9 1552.4L-188.3 1549.7L-186.2 1547.1L-185.3 1544.0L-182.6 1541.9L-180.5 1539.4L-180.3 1535.8L-177.6 1533.6L-175.9 1531.0L-175.0 1527.7L-173.3 1525.0L-172.2 1522.0L-169.5 1519.8L-167.0 1517.6L-165.8 1514.6L-165.5 1511.1L-163.4 1508.6L-161.5 1505.9L-160.4 1502.9L-157.3 1501.0L-155.8 1498.2L-155.1 1494.8L-154.0 1491.8L-151.2 1489.7L-150.1 1486.7L-148.0 1484.2L-146.0 1481.6L-144.2 1479.0L-142.9 1476.0L-142.6 1472.5L-140.2 1470.2L-138.2 1467.7L-137.8 1464.2L-134.3 1462.5L-134.3 1458.8L-131.3 1456.8L-131.6 1453.0L-129.8 1450.3L-128.3 1447.5L-126.5 1444.8L-124.9 1442.0L-123.3 1439.3L-120.2 1437.4L-118.1 1434.9L-116.7 1432.0L-115.1 1429.2L-113.5 1426.4L-113.2 1422.9L-111.1 1420.4L-110.2 1417.2L-108.3 1414.6L-106.6 1411.9L-104.4 1409.5L-101.7 1407.3L-101.4 1403.8L-99.0 1401.5L-97.4 1398.7L-96.6 1395.5L-95.5 1392.4L-93.5 1389.9L-91.9 1387.1L-89.6 1384.8L-88.4 1381.8L-86.0 1379.4L-84.5 1376.6L-83.9 1373.2L-80.6 1371.5L-80.0 1368.1L-78.8 1365.1L-77.6 1362.1L-74.9 1359.9L-74.1 1356.7L-71.1 1354.8L-70.7 1351.3L-69.1 1348.5L-66.9 1346.1L-66.0 1342.9L-62.5 1341.2L-61.0 1338.4L-61.1 1334.6L-59.1 1332.1L-56.2 1330.1L-54.7 1327.3L-53.6 1324.2L-51.6 1321.7L-50.5 1318.6L-48.5 1316.1L-46.8 1313.3L-44.9 1310.7L-42.8 1308.3L-42.2 1304.9L-41.4 1301.6L-38.3 1299.7L-36.2 1297.3L-35.6 1293.9L-33.1 1291.7L-31.8 1288.7L-30.2 1285.9L-28.5 1283.3L-27.2 1280.3L-26.7 1276.8L-25.0 1274.1L-21.8 1272.3L-20.6 1269.3L-20.0 1265.9L-18.3 1263.2L-15.2 1261.3L-15.2 1257.6L-12.6 1255.4L-10.6 1252.9L-10.0 1249.5L-8.9 1246.4L-6.5 1244.2L-4.2 1241.8L-2.1 1239.3L-1.1 1236.2L-0.6 1232.7L1.3 1230.1L3.6 1227.8L4.7 1224.7L6.0 1221.8L7.7 1219.1L10.7 1217.1L11.4 1213.8L14.2 1211.7L16.0 1209.1L16.3 1205.5L18.7 1203.2L19.3 1199.9L21.1 1197.2L22.6 1194.4L24.9 1192.0L25.6 1188.7L28.8 1186.9L30.2 1184.0L30.5 1180.5L32.5 1177.9L34.1 1175.1L37.3 1173.3L38.8 1170.5L38.9 1166.8L41.5 1164.6L43.4 1162.0L44.5 1159.0L45.6 1155.9L48.5 1153.9L48.3 1150.0L52.0 1148.5L53.2 1145.5L54.5 1142.6L55.4 1139.4L56.6 1136.4L58.9 1134.0L60.8 1131.4L62.6 1128.7L63.4 1125.5L65.4 1123.0L66.6 1119.9L67.9 1117.0L70.6 1114.9L72.2 1112.1L74.1 1109.5L75.4 1106.5L77.5 1104.1L79.8 1101.7L80.2 1098.2L82.3 1095.7L83.7 1092.9L85.3 1090.1L85.9 1086.7L87.7 1084.0L90.4 1081.9L92.1 1079.2L93.2 1076.1L94.8 1073.4L95.9 1070.3L98.8 1068.3L100.4 1065.5L100.8 1062.0L102.6 1059.4L104.4 1056.7L106.1 1054.0L108.4 1051.6L110.5 1049.2L111.6 1046.1L113.8 1043.7L114.3 1040.3L116.1 1037.6L118.4 1035.2L120.4 1032.7L122.2 1030.1L123.4 1027.0L123.8 1023.6L126.4 1021.4L126.9 1017.9L128.8 1015.3L131.0 1012.9L133.0 1010.4L133.7 1007.1L135.9 1004.6L137.2 1001.7L138.4 998.7L141.8 997.0L143.3 994.1L144.8 991.3L145.0 987.7L148.2 985.9L150.1 983.3L149.8 979.4L151.8 976.8L153.5 974.2L155.0 971.3L157.4 969.0L159.4 966.5L160.7 963.5L163.1 961.2L164.0 958.0L166.0 955.5L167.0 952.3L169.3 950.0L169.6 946.4L171.9 944.1L173.1 941.1L175.0 938.5L176.6 935.7L177.6 932.6L180.2 930.4L181.2 927.2L183.5 924.9L185.1 922.2L186.6 919.3L189.2 917.1L190.0 913.9L192.0 911.3L194.2 908.9L194.7 905.5L197.3 903.3L197.9 900.0L198.7 896.7L200.8 894.2L202.5 891.5L205.0 889.3L205.6 885.9L208.3 883.8L209.2 880.6L211.6 878.2L213.8 875.8L214.9 872.7L216.6 870.0L218.0 867.1L219.6 864.4L221.0 861.5L223.2 859.1L224.1 855.9L225.7 853.1L228.3 850.9L229.8 848.1L229.8 844.3L232.1 842.0L233.7 839.3L235.2 836.4L236.5 833.5L239.0 831.2L240.6 828.4L242.6 825.9L243.7 822.8L246.2 820.6L247.7 817.8L249.8 815.3L249.4 811.3L252.8 809.6L254.8 807.1L255.4 803.7L257.1 801.0L259.6 798.7L260.3 795.4M94.0 336.0L93.0 332.6L93.2 328.9L92.0 325.5L90.5 322.3L88.8 319.0L88.3 315.5L88.3 311.8L87.1 308.4M94.0 336.0L91.7 341.0M91.7 341.0L89.1 342.9L86.3 344.6L83.3 345.9L80.2 346.9L77.2 348.1L74.1 349.2L72.0 352.3L68.5 352.5L66.2 355.1L62.8 355.6L60.2 357.8L56.8 358.1L54.1 360.0M87.1 308.4L90.4 308.8L93.7 308.3L96.8 309.7L100.0 310.0L103.1 311.0L106.2 311.9L109.4 312.6L112.6 312.9L116.1 311.0L119.2 312.6L122.4 313.0M94.0 336.0L97.1 334.9L100.5 335.2L103.3 332.9L106.9 333.8L109.6 331.0L112.8 330.1L116.0 329.6L119.3 329.0L122.7 329.3L125.7 327.7M125.7 327.7L124.6 324.1L124.2 320.3L124.1 316.4L122.4 313.0M2644.7 1007.5L2641.3 1007.4L2638.6 1005.3L2635.8 1003.8L2632.8 1002.5L2629.2 1003.0L2626.5 1001.2L2623.8 999.4L2620.3 999.5L2617.2 998.7L2614.9 995.7L2611.3 996.2L2608.6 994.2L2605.5 993.5L2602.6 992.1L2599.9 990.0L2596.9 989.1L2593.8 988.1L2590.9 986.7L2587.9 985.5L2584.9 984.7L2581.2 985.3L2578.7 982.9L2575.3 982.8L2573.0 979.9L2569.8 979.1L2566.9 977.9L2563.6 977.4L2560.5 976.7L2557.4 975.8L2555.0 973.2L2551.9 972.2L2548.3 972.9L2545.2 971.9L2542.7 969.4L2539.4 969.2L2536.6 967.5L2533.7 966.2L2530.5 965.5L2527.2 965.2L2524.6 963.1L2521.9 961.0L2518.5 961.0L2515.3 960.6L2512.2 959.6L2510.0 956.4L2506.7 956.0L2503.4 955.8L2500.6 954.2L2497.9 952.2L2494.5 952.2L2491.3 951.6L2488.8 949.0L2485.6 948.5L2482.5 947.6L2479.3 947.2L2476.7 945.0L2473.6 944.2L2470.3 943.7L2468.0 940.8L2464.5 941.0L2461.6 939.5L2458.6 938.5L2455.2 938.4L2452.1 937.6L2449.9 934.5L2446.4 934.7L2443.5 933.3L2440.3 932.8L2437.6 930.7L2434.7 929.2L2431.4 929.0L2428.5 927.8L2425.2 927.3L2422.6 925.2L2419.3 924.8L2416.8 922.5L2413.8 921.2L2410.0 922.2L2407.6 919.6L2404.3 919.1L2401.3 918.2L2398.3 917.2L2395.3 915.9L2392.1 915.3L2389.1 914.1L2386.1 913.2L2383.3 911.4L2380.9 908.8L2377.3 909.2L2374.8 906.8L2371.2 907.3L2368.7 904.9L2365.9 903.2L2362.2 903.9L2359.5 901.9L2356.7 900.4L2353.0 901.1L2350.0 899.9L2347.4 897.8L2344.2 897.2L2341.3 895.8L2338.5 894.3L2335.7 892.6L2332.2 892.7L2329.8 890.2L2326.2 890.5L2323.6 888.4L2320.8 886.7L2317.1 887.5L2314.8 884.4L2311.0 885.6L2308.1 884.3L2305.5 881.9L2302.5 880.8L2299.8 878.9L2296.6 878.4L2293.1 878.5L2290.5 876.5L2287.8 874.3L2284.7 873.6L2281.6 872.7L2278.2 872.8L2275.4 871.2L2272.5 869.7L2269.1 869.7L2266.3 868.0L2263.4 866.7L2260.3 865.8L2257.6 863.7L2254.2 863.9L2251.4 862.2L2248.8 860.0L2245.5 859.7L2242.4 858.8L2239.6 857.2L2236.6 856.1L2233.4 855.4L2230.3 854.7L2227.4 853.1L2224.8 851.1L2221.3 851.3L2218.5 849.6L2215.2 849.4L2212.4 847.7L2209.2 847.1L2206.2 846.0L2203.1 845.1L2200.1 844.1L2197.0 843.2L2193.9 842.2L2191.8 838.9L2188.5 838.5L2185.1 838.5L2182.3 836.8L2179.7 834.7L2176.0 835.4L2173.0 834.1L2170.0 833.2L2167.3 831.2L2164.3 830.1L2160.9 830.0L2158.4 827.6L2155.4 826.5L2152.5 825.1L2149.4 824.2L2145.9 824.5L2142.9 823.3L2140.3 821.1L2137.1 820.7L2134.1 819.4L2131.5 817.3L2128.5 816.2L2125.2 816.0L2122.6 813.7L2119.0 814.3L2116.0 813.2L2113.0 811.9L2110.7 809.1L2107.3 808.8L2104.4 807.4L2100.8 807.9L2098.3 805.5L2095.6 803.6L2092.3 803.4L2089.5 801.7L2086.1 801.5L2083.1 800.5L2080.6 798.1L2077.5 797.2L2073.8 797.9L2071.1 796.0L2067.9 795.4L2065.0 794.1L2062.1 792.6L2059.1 791.7L2056.6 789.1L2053.6 788.0L2050.4 787.5L2047.1 787.2L2044.2 785.9L2041.6 783.6L2037.9 784.4L2035.2 782.5L2031.9 782.2L2029.4 779.8L2026.2 779.0L2023.3 777.7L2019.9 777.7L2017.1 776.0L2014.0 775.3L2011.6 772.4L2008.2 772.4L2004.8 772.3L2001.9 770.9L1999.2 769.0L1996.1 768.3L1993.3 766.5L1990.6 764.6L1987.2 764.7L1984.3 763.2L1981.0 762.9L1978.5 760.3L1975.3 759.9L1972.6 757.8L1969.2 757.9L1966.6 755.8L1962.9 756.5L1960.6 753.6L1957.2 753.4L1953.9 753.3L1951.3 751.0L1948.0 750.6L1944.7 750.2L1941.8 749.0L1938.7 748.0L1936.1 745.9L1933.5 743.8L1930.3 743.2L1927.3 742.0L1923.8 742.2L1921.3 739.8L1918.1 739.2L1914.8 738.8L1912.1 736.9L1909.5 734.9L1906.3 734.2L1903.4 732.8L1899.7 733.6L1896.9 731.8L1894.6 728.9L1890.7 730.1L1887.9 728.7L1885.1 727.1L1881.8 726.8L1878.9 725.3L1876.5 722.5L1873.3 722.0L1870.3 720.9L1867.4 719.6L1864.5 718.2L1860.8 718.9L1857.9 717.4L1854.7 716.9L1852.0 715.0L1849.3 713.1L1846.0 712.7L1843.2 711.0L1840.6 709.0L1837.1 709.2L1834.2 707.8L1831.2 706.7L1828.1 705.9L1824.8 705.6L1822.0 703.8L1819.4 701.7L1816.3 700.7L1813.4 699.3L1810.5 698.1L1807.4 697.1L1804.0 697.1L1801.5 694.6L1798.0 695.0L1794.9 694.0L1791.8 693.2L1788.9 691.9L1786.3 689.7L1783.3 688.4L1779.7 689.1L1777.3 686.2L1774.5 684.7L1771.1 684.5L1767.7 684.5L1765.1 682.4L1761.9 681.8L1759.2 680.0L1755.6 680.3L1752.6 679.1L1749.9 677.2L1746.9 676.3L1744.3 674.0L1740.7 674.6L1737.7 673.4L1735.2 671.0L1732.2 669.7L1729.4 668.0L1726.2 667.6L1722.8 667.7L1719.8 666.3L1717.3 664.1L1714.0 663.6L1710.6 663.7L1708.1 661.2L1705.0 660.5L1702.2 658.6L1698.6 659.2L1696.1 656.8L1693.4 654.8L1690.1 654.6L1686.9 653.9L1683.7 653.3L1680.7 652.3L1678.0 650.4L1674.9 649.4L1672.1 647.9L1668.6 647.9L1665.9 646.2L1663.3 643.9L1659.6 644.6L1656.8 643.2L1654.3 640.6L1650.8 640.9L1647.9 639.4L1645.1 637.8L1642.4 635.9L1639.4 634.9L1635.9 634.9L1633.0 633.6L1630.0 632.5L1626.8 631.9L1624.2 629.8L1620.6 630.3L1618.1 627.7L1614.6 628.1L1611.8 626.3L1608.8 625.2L1606.2 623.0L1602.7 623.3L1599.9 621.7L1596.9 620.4L1593.6 620.3L1591.1 617.7L1587.7 617.8L1584.6 616.9L1582.4 613.6L1579.3 612.6L1575.9 612.6L1572.7 612.1L1569.9 610.5L1566.9 609.2L1564.2 607.4L1560.7 607.6L1557.6 606.8L1555.3 603.8L1552.3 602.8L1549.2 601.9L1546.1 601.0L1542.9 600.4L1540.2 598.6L1537.3 597.2L1534.3 596.1L1530.6 596.9L1527.7 595.4L1524.7 594.3L1522.0 592.2L1518.5 592.6L1516.2 589.6L1513.2 588.3L1509.7 588.8L1506.7 587.7L1504.2 585.2L1500.9 584.9L1497.6 584.4L1494.9 582.7L1491.5 582.4L1489.1 579.9L1485.9 579.2L1482.8 578.3L1480.3 576.0L1477.2 575.1L1473.6 575.6L1470.8 574.0L1467.8 572.7L1464.5 572.5L1461.6 571.2L1458.7 569.7L1456.1 567.6L1452.8 567.2L1449.6 566.6L1447.0 564.4L1444.2 562.9L1440.8 562.8L1437.7 561.8L1434.6 561.0L1431.9 559.2L1428.5 559.1L1425.5 558.1L1423.0 555.6L1419.5 555.7L1417.0 553.3L1413.9 552.4L1411.1 550.9L1407.7 550.8L1405.2 548.3L1401.4 549.3L1398.4 548.1L1395.8 545.9L1392.6 545.5L1389.4 544.9L1386.8 542.7L1384.2 540.6L1380.7 540.7L1377.7 539.5L1375.1 537.5L1372.1 536.2L1368.5 536.8L1366.0 534.4L1362.9 533.4L1359.6 533.2L1356.4 532.6L1354.1 529.7L1350.5 530.1L1347.7 528.4L1344.7 527.3L1342.0 525.5L1338.9 524.7L1336.0 523.2L1333.2 521.6L1329.9 521.2L1326.3 521.7L1324.2 518.2L1320.7 518.5L1317.7 517.4L1314.6 516.5L1312.1 514.1L1308.7 514.1L1305.4 513.8L1302.7 511.8L1299.5 511.2L1296.7 509.6L1293.3 509.5L1291.0 506.4L1288.1 505.1L1284.9 504.7L1281.7 504.1L1278.4 503.6L1275.5 502.4L1272.9 500.2L1269.3 500.5L1266.7 498.4L1264.1 496.2L1261.2 494.9L1258.0 494.1L1254.8 493.8L1251.6 493.1L1248.7 491.7L1245.9 490.0L1242.4 490.3L1240.1 487.3L1236.9 486.6L1233.6 486.5L1231.0 484.1L1227.5 484.5L1224.4 483.7L1221.5 482.1L1218.6 480.9L1215.3 480.5L1213.0 477.5L1210.1 476.2L1207.1 474.9L1203.5 475.6L1200.8 473.6L1197.7 472.9L1194.6 471.8L1191.8 470.3L1188.9 468.8L1185.4 469.0L1182.7 467.1L1180.0 465.2L1176.9 464.5L1174.1 462.8L1170.3 463.9L1167.5 462.1L1164.4 461.4L1161.4 460.1L1158.7 458.4L1155.7 457.2L1152.7 455.9L1150.1 453.9L1146.8 453.6L1143.7 452.7L1140.3 452.8L1138.0 449.7L1134.5 449.9L1131.7 448.2L1128.3 448.1L1125.8 445.6L1122.4 445.7L1119.8 443.5L1116.9 442.1L1113.7 441.5L1110.4 441.2L1107.9 438.7L1105.0 437.3L1101.2 438.4L1098.9 435.4L1095.9 434.4L1092.9 433.2L1089.6 432.8L1086.3 432.6L1083.5 431.0L1080.8 429.0L1077.8 428.0L1074.2 428.3L1071.2 427.3L1068.3 426.0L1065.9 423.3L1062.2 424.0L1059.2 422.8L1056.2 421.6L1053.2 420.6L1050.2 419.4L1047.9 416.6L1045.0 415.0L1041.9 414.3L1038.3 414.7L1035.4 413.2L1032.3 412.6L1029.9 409.7L1026.4 410.0L1023.3 409.1L1020.3 408.1L1017.8 405.7L1014.7 404.8L1012.0 402.8L1008.9 402.0L1005.5 401.8L1002.7 400.3L999.1 400.7L996.8 397.7L993.2 398.3L990.8 395.4L987.6 395.0L984.9 393.0L981.8 392.3L978.4 392.2L975.5 390.8L972.7 389.0L969.3 389.2L966.1 388.6L963.9 385.1L960.2 386.1L957.8 383.2L954.2 383.7L951.6 381.7L948.7 380.3L945.4 379.9L942.3 379.0L939.6 377.2L936.7 375.8L933.1 376.3L930.3 374.7L927.7 372.6L924.6 371.6L921.7 370.3L918.3 370.2L915.9 367.4L912.6 367.1L909.1 367.2L906.2 365.9L903.8 363.2L900.5 363.0L897.5 361.8L894.3 361.1L891.5 359.6L888.3 359.1L885.9 356.2L882.5 356.2L879.6 354.7L876.3 354.7L873.2 353.7L870.8 350.9L867.3 351.3L864.6 349.4L861.4 348.7L858.5 347.4L855.4 346.5L852.9 344.1L849.0 345.3L846.1 343.9L843.2 342.5L840.5 340.6L837.6 339.2L834.5 338.5L831.2 338.0L828.8 335.4L825.8 334.3L822.9 333.0L819.8 331.9L816.8 331.0L813.6 330.3L810.8 328.6L807.2 329.3L804.1 328.3L801.7 325.5L798.8 324.1L795.5 324.0L792.5 322.9L789.5 321.6L786.6 320.3L783.4 319.8L780.1 319.5L777.1 318.3L774.4 316.5L771.1 316.2L768.0 315.2L765.5 312.8L762.8 310.8L759.3 311.0L756.7 309.0L753.4 308.5L750.3 307.6L747.5 306.2L744.8 304.0L741.4 304.1M2622.9 1025.8L2619.5 1025.6L2616.9 1023.4L2613.7 1023.0L2611.0 1021.1L2608.1 1019.6L2604.7 1019.5L2601.7 1018.5L2598.7 1017.2L2595.4 1016.9L2593.0 1014.2L2589.6 1014.2L2586.6 1013.2L2583.6 1011.8L2580.9 1009.9L2578.2 1008.0L2575.2 1006.9L2571.7 1007.1L2568.7 1006.1L2566.3 1003.4L2563.2 1002.4L2559.6 1003.0L2556.5 1002.0L2553.8 1000.2L2551.1 998.2L2547.8 998.0L2544.7 997.2L2541.4 996.7L2538.7 994.8L2535.5 994.4L2532.7 992.6L2529.4 992.2L2526.6 990.7L2523.9 988.8L2520.8 988.0L2518.2 985.6L2514.9 985.4L2511.6 985.1L2508.6 984.0L2505.8 982.3L2503.2 980.2L2499.6 980.6L2497.3 977.6L2493.9 977.6L2490.6 977.3L2487.9 975.3L2484.7 974.8L2482.3 972.0L2478.7 972.5L2476.2 970.0L2472.9 969.7L2470.2 967.8L2467.3 966.4L2463.8 966.5L2461.3 964.2L2457.6 964.9L2454.6 963.9L2452.1 961.3L2448.9 960.6L2445.5 960.6L2442.9 958.5L2439.6 958.0L2436.7 956.8L2434.3 954.1L2431.3 952.9L2428.1 952.4L2424.6 952.6L2421.6 951.3L2419.1 948.9L2415.9 948.4L2412.8 947.4L2409.7 946.6L2407.3 944.0L2403.6 944.6L2400.8 943.1L2397.5 942.7L2395.3 939.6L2392.0 939.0L2388.6 939.2L2386.1 936.5L2383.3 935.0L2379.8 935.1L2377.0 933.4L2373.9 932.6L2371.1 930.9L2368.3 929.5L2364.5 930.5L2361.6 929.0L2358.5 928.1L2355.6 926.9L2352.5 925.8L2350.0 923.5L2346.5 923.5L2344.3 920.4L2340.7 920.9L2338.0 919.0L2334.5 919.2L2331.9 916.9L2328.7 916.3L2326.3 913.7L2323.0 913.3L2320.0 912.2L2316.6 912.3L2313.6 911.1L2311.1 908.5L2307.9 907.9L2305.1 906.3L2301.5 906.8L2299.0 904.3L2296.0 903.3L2293.1 901.8L2290.0 900.9L2286.6 900.9L2283.7 899.6L2280.9 897.9L2278.3 895.8L2274.9 895.6L2271.6 895.2L2269.3 892.4L2265.5 893.5L2263.1 890.8L2260.1 889.5L2256.4 890.1L2253.6 888.5L2251.2 886.0L2248.2 884.8L2245.2 883.7L2241.8 883.5L2238.6 883.0L2236.2 880.2L2232.8 880.2L2230.3 877.7L2226.5 878.8L2223.5 877.6L2220.8 875.7L2218.2 873.6L2214.9 873.2L2211.7 872.7L2208.9 871.1L2205.7 870.4L2203.3 867.7L2199.8 868.0L2196.7 867.2L2194.0 865.2L2190.8 864.5L2188.2 862.3L2184.5 863.2L2182.2 860.0L2178.7 860.4L2175.8 859.0L2173.2 856.8L2169.5 857.5L2166.9 855.4L2164.0 854.0L2160.9 853.0L2157.5 852.9L2155.1 850.4L2151.9 849.6L2149.1 848.2L2145.5 848.6L2143.3 845.2L2140.1 844.8L2136.9 844.1L2133.9 842.9L2130.7 842.3L2127.7 841.1L2124.9 839.7L2122.1 837.9L2118.5 838.3L2115.4 837.5L2113.2 834.4L2110.2 833.3L2106.5 834.0L2104.0 831.6L2100.8 831.0L2097.8 829.9L2095.1 827.9L2091.9 827.2L2088.7 826.7L2086.3 823.9L2083.0 823.6L2079.6 823.6L2077.0 821.3L2073.5 821.7L2070.8 819.7L2067.6 819.1L2064.5 818.3L2062.0 815.8L2059.2 814.2L2055.6 814.6L2053.1 812.1L2049.8 811.8L2047.0 810.2L2043.5 810.4L2040.8 808.5L2038.1 806.7L2034.5 807.0L2031.6 805.6L2029.1 803.2L2026.2 801.9L2023.1 801.1L2020.1 799.9L2016.8 799.6L2014.2 797.4L2010.8 797.4L2007.7 796.3L2004.6 795.5L2001.9 793.7L1998.7 792.9L1995.8 791.8L1993.1 789.8L1990.2 788.3L1986.7 788.6L1983.6 787.8L1981.3 784.7L1977.6 785.5L1975.0 783.3L1971.5 783.4L1968.8 781.5L1966.3 779.0L1963.0 778.7L1960.1 777.4L1957.1 776.3L1954.1 775.2L1951.0 774.3L1948.2 772.6L1945.2 771.6L1941.5 772.4L1938.7 770.5L1935.6 769.7L1932.7 768.5L1929.5 767.9L1926.5 766.6L1923.8 764.6L1921.3 762.2L1917.8 762.4L1914.5 762.3L1912.2 759.2L1908.9 758.8L1905.9 757.7L1902.8 756.8L1899.4 756.8L1896.5 755.5L1893.8 753.6L1891.3 751.2L1887.4 752.3L1884.8 750.2L1881.5 750.0L1879.0 747.3L1875.6 747.4L1872.6 746.1L1869.5 745.3L1866.4 744.4L1863.8 742.4L1861.0 740.7L1857.5 740.8L1855.3 737.6L1852.3 736.6L1849.2 735.5L1845.8 735.6L1842.7 734.7L1840.0 732.7L1836.6 732.7L1834.1 730.2L1831.2 728.8L1827.6 729.4L1824.9 727.6L1822.1 725.9L1819.0 724.9L1815.5 725.2L1812.5 724.2L1809.7 722.4L1806.6 721.6L1804.3 718.5L1800.9 718.4L1798.3 716.3L1794.7 716.9L1791.8 715.5L1789.2 713.2L1786.0 712.6L1782.9 711.7L1779.6 711.4L1776.5 710.5L1774.3 707.3L1770.6 708.0L1768.1 705.8L1765.0 704.7L1761.8 704.1L1759.0 702.5L1756.2 700.8L1752.5 701.7L1750.1 698.9L1747.0 698.1L1743.7 697.8L1740.8 696.3L1738.1 694.4L1735.3 692.7L1732.3 691.7L1728.7 692.2L1725.7 691.1L1722.4 690.6L1720.0 688.0L1716.9 687.1L1714.1 685.4L1711.1 684.3L1707.6 684.7L1704.8 682.8L1701.8 681.7L1698.7 680.9L1696.0 679.1L1692.6 679.0L1690.1 676.5L1686.5 677.0L1684.3 673.7L1681.0 673.3L1678.1 672.1L1675.1 670.8L1671.8 670.5L1668.9 669.2L1666.1 667.6L1663.3 666.0L1660.2 664.9L1656.8 664.9L1653.9 663.6L1650.6 663.3L1648.1 660.7L1644.8 660.4L1641.8 659.4L1638.6 658.7L1636.0 656.5L1632.9 655.8L1629.5 655.6L1626.6 654.1L1623.8 652.7L1621.0 651.1L1618.3 649.0L1614.8 649.2L1611.9 647.8L1608.4 648.0L1605.5 646.8L1603.3 643.4L1599.7 644.0L1596.9 642.2L1594.3 640.0L1591.0 639.7L1587.6 639.7L1585.3 636.8L1581.9 636.7L1579.2 634.6L1576.3 633.4L1572.9 633.3L1570.2 631.3L1567.1 630.6L1563.5 631.0L1560.5 629.9L1557.7 628.2L1555.2 625.8L1551.5 626.5L1549.2 623.4L1545.7 623.7L1543.0 621.7L1540.1 620.5L1536.7 620.3L1534.1 618.1L1530.9 617.6L1527.8 616.6L1525.2 614.6L1522.1 613.7L1519.2 612.3L1515.7 612.5L1512.5 612.0L1509.8 610.0L1507.1 608.2L1503.9 607.5L1500.5 607.3L1498.2 604.4L1495.2 603.4L1492.3 602.0L1488.9 601.8L1485.5 601.9L1482.5 600.8L1479.9 598.5L1476.8 597.7L1474.2 595.4L1470.5 596.3L1468.0 593.8L1464.8 593.1L1462.3 590.8L1459.0 590.4L1455.7 590.1L1453.3 587.3L1450.0 587.0L1447.3 585.2L1444.3 583.9L1441.2 583.1L1437.4 584.1L1434.8 582.0L1432.1 580.1L1428.6 580.2L1425.5 579.4L1423.2 576.3L1420.3 575.0L1416.6 575.9L1413.4 575.1L1411.2 572.0L1407.9 571.7L1405.1 569.8L1402.2 568.6L1399.2 567.4L1395.7 567.8L1393.3 565.0L1390.2 564.2L1386.9 563.7L1383.6 563.5L1381.2 560.8L1378.2 559.7L1375.3 558.2L1372.1 557.8L1368.9 557.1L1365.7 556.4L1362.9 554.7L1359.8 553.9L1357.2 551.6L1353.7 551.9L1350.9 550.3L1348.1 548.7L1345.3 547.1L1341.8 547.1L1338.5 546.8L1336.3 543.6L1332.9 543.6L1329.5 543.6L1326.9 541.4L1324.1 539.8L1321.1 538.7L1317.8 538.3L1314.5 538.0L1312.0 535.6L1308.5 535.6L1305.7 534.1L1303.2 531.5L1300.2 530.4L1297.2 529.3L1293.7 529.4L1291.2 527.1L1287.8 527.1L1284.9 525.6L1282.0 524.3L1278.7 523.9L1275.7 522.9L1273.2 520.5L1270.1 519.4L1266.7 519.4L1263.7 518.4L1261.3 515.5L1257.8 515.7L1255.2 513.7L1251.8 513.7L1248.7 512.6L1245.6 511.9L1243.3 508.9L1240.1 508.2L1236.8 508.0L1234.0 506.4L1230.5 506.6L1227.8 504.7L1224.8 503.5L1221.7 502.6L1219.2 500.1L1216.1 499.3L1213.0 498.6L1209.7 498.2L1207.0 496.1L1203.5 496.3L1200.5 495.2L1197.7 493.8L1195.1 491.4L1192.0 490.7L1188.8 490.0L1186.1 488.1L1182.8 487.7L1179.8 486.5L1176.8 485.6L1173.9 484.2L1170.9 483.1L1167.6 482.6L1165.1 480.3L1162.3 478.7L1158.4 479.8L1156.3 476.3L1153.2 475.5L1150.3 474.1L1146.8 474.3L1143.6 473.8L1140.9 471.9L1138.3 469.7L1134.6 470.4L1132.2 467.7L1129.1 466.7L1125.9 466.1L1123.0 464.7L1120.3 462.9L1117.0 462.7L1114.2 460.9L1111.3 459.7L1108.0 459.1L1104.9 458.3L1102.3 456.3L1098.6 456.9L1096.1 454.6L1092.8 454.1L1090.1 452.1L1086.6 452.4L1083.6 451.2L1080.8 449.6L1077.5 449.3L1075.3 446.1L1071.5 447.1L1069.1 444.5L1066.0 443.5L1062.8 442.9L1060.3 440.4L1057.3 439.4L1054.0 439.1L1050.8 438.5L1047.7 437.7L1044.7 436.6L1042.2 434.1L1039.2 432.9L1036.1 432.1L1032.7 431.9L1030.1 429.8L1026.9 429.1L1023.6 428.9L1020.7 427.6L1018.1 425.2L1014.8 425.0L1012.1 423.0L1009.0 422.2L1006.3 420.4L1002.9 420.1L999.9 419.1L997.0 417.8L994.1 416.3L990.6 416.5L988.3 413.6L985.0 413.3L981.9 412.4L978.6 412.0L975.7 410.7L973.0 408.7L969.4 409.1L966.9 406.9L963.8 405.9L961.3 403.4L957.8 403.8L955.3 401.2L951.8 401.5L948.6 400.9L946.0 398.8L942.6 398.5L939.7 397.2L937.0 395.2L934.1 394.0L931.0 393.1L927.7 392.8L924.6 391.9L921.6 390.9L918.5 389.8L916.3 386.7L912.7 387.0L909.8 385.8L906.6 385.3L904.2 382.4L900.5 383.1L898.0 380.8L894.6 380.8L892.1 378.2L889.3 376.6L886.0 376.2L882.6 376.3L879.7 374.8L877.3 372.1L873.7 372.6L870.5 371.9L868.0 369.5L864.7 369.3L862.3 366.5L859.0 366.1L856.3 364.3L852.8 364.4L850.3 362.0L846.7 362.5L843.7 361.4L840.9 359.7L838.3 357.6L835.3 356.5L831.7 356.9L829.3 354.3L825.6 355.0L822.7 353.4L819.9 351.8L816.4 351.9L814.2 348.9L811.1 347.9L808.1 346.7L805.1 345.6L802.1 344.5L798.9 343.9L796.3 341.8L793.2 341.0L789.7 341.2L786.7 340.0L783.5 339.4L781.2 336.4L777.5 337.1L774.6 336.0L772.0 333.7L769.0 332.5L765.9 331.7L762.7 331.0L759.6 330.3L756.6 329.2L754.0 327.0L751.0 325.9L747.8 325.2L744.5 324.8L741.9 322.7L739.0 321.4L735.9 320.5M741.4 304.1L738.6 305.9L735.4 307.1L733.1 309.7L730.6 311.8M735.9 320.5L733.8 317.8L732.5 314.6L730.6 311.8M252.4 785.7L249.4 787.0L246.1 787.4L243.1 788.5L239.8 788.9L236.7 790.0L233.7 791.1L230.9 792.9L227.9 794.4L224.8 795.3L222.0 797.0L218.3 796.4L215.9 799.2L212.4 799.0L209.8 801.5L206.0 800.3L203.3 802.5L200.4 803.9L196.9 804.0L194.2 805.8L191.4 807.7L188.1 808.3L185.0 809.3L182.1 810.9L178.3 809.6L175.4 811.0L172.2 811.9L169.2 813.0L166.4 815.1L163.4 816.1L160.5 817.7L156.9 817.2L154.2 819.3L151.2 820.7L148.0 821.2L144.6 821.5L142.1 824.0L138.4 823.1L135.8 825.6L132.6 826.3L129.3 826.7L126.8 829.5L123.3 829.1L120.4 830.7L117.4 832.0L114.4 833.2L111.3 834.4L107.9 834.4L104.8 835.2L102.1 837.5L98.6 837.4L95.8 839.1L93.1 841.1L89.7 841.2L86.9 843.2L83.7 843.8L80.6 844.8L77.4 845.5L74.0 845.6L71.2 847.4L67.8 847.5L64.7 848.4L61.6 849.5L58.6 850.7L55.8 852.5L52.8 853.8L49.4 853.8L46.6 855.6M132.3 287.3L132.2 290.9L129.2 293.5L127.7 296.6L128.5 300.5L127.0 303.7L123.7 306.1L123.4 309.7L122.4 313.0M15.7 -1937.6L15.2 -1934.3L16.7 -1931.3L15.5 -1927.9L18.0 -1924.9L17.4 -1921.7L18.1 -1918.5L16.6 -1915.2L17.8 -1912.1L17.3 -1908.8L19.6 -1905.8L19.3 -1902.6L19.7 -1899.4L20.4 -1896.2L20.5 -1893.0L20.2 -1889.8L20.8 -1886.6L20.4 -1883.4L21.3 -1880.2L22.1 -1877.1L20.8 -1873.8L21.5 -1870.6L20.6 -1867.3L23.1 -1864.3L21.7 -1861.0L23.9 -1858.0L22.4 -1854.6L23.5 -1851.5L24.3 -1848.4L24.8 -1845.2L25.2 -1842.0L24.3 -1838.7L24.3 -1835.5L26.0 -1832.4L25.0 -1829.1L26.0 -1826.0L24.9 -1822.7L26.6 -1819.7L26.1 -1816.4L26.5 -1813.2L26.7 -1810.0L27.0 -1806.8L26.6 -1803.6L29.0 -1800.6L28.4 -1797.3L29.4 -1794.2L29.7 -1791.0L28.9 -1787.7L28.7 -1784.5L29.8 -1781.4L28.9 -1778.1L29.2 -1774.9L31.2 -1771.8L30.2 -1768.5L30.6 -1765.4L31.0 -1762.2L31.9 -1759.1L31.6 -1755.8L33.0 -1752.7L32.3 -1749.5L32.2 -1746.2L33.5 -1743.1L33.9 -1739.9L32.9 -1736.6L33.1 -1733.5L33.7 -1730.3L34.5 -1727.1L34.2 -1723.9L35.6 -1720.8L35.6 -1717.6L36.3 -1714.4L35.7 -1711.2L36.0 -1708.0L35.9 -1704.8L35.9 -1701.6L37.0 -1698.4L38.0 -1695.3L36.6 -1692.0L36.9 -1688.8L36.6 -1685.6L36.8 -1682.4L38.5 -1679.3L38.6 -1676.1L37.8 -1672.8L39.9 -1669.8L40.4 -1666.6L39.7 -1663.3L39.7 -1660.1L40.9 -1657.0L41.3 -1653.8L41.4 -1650.6L40.1 -1647.3L40.5 -1644.1L42.8 -1641.1L42.2 -1637.8L41.9 -1634.6L42.0 -1631.4L42.6 -1628.2L44.0 -1625.2L43.2 -1621.9L44.3 -1618.7L44.1 -1615.5L43.0 -1612.2L43.9 -1609.1L45.6 -1606.0L46.1 -1602.8L45.6 -1599.6L46.0 -1596.4L45.2 -1593.1L46.7 -1590.0L45.5 -1586.7L46.4 -1583.6L45.7 -1580.3L47.8 -1577.3L47.8 -1574.1L48.2 -1570.9L47.8 -1567.6L48.6 -1564.5L47.3 -1561.2L50.0 -1558.2L48.0 -1554.8L50.3 -1551.8L49.1 -1548.5L51.2 -1545.4L50.2 -1542.1L50.5 -1539.0L50.3 -1535.7L50.1 -1532.5L52.1 -1529.5L50.6 -1526.1L52.4 -1523.1L53.0 -1519.9L51.8 -1516.6L53.4 -1513.5L52.8 -1510.2L53.7 -1507.1L53.5 -1503.9L54.6 -1500.8L54.8 -1497.6L55.0 -1494.4L53.9 -1491.0L54.0 -1487.8L55.7 -1484.8L54.5 -1481.5L55.9 -1478.4L56.9 -1475.2L56.9 -1472.0L56.9 -1468.8L56.6 -1465.6L57.8 -1462.5L58.6 -1459.3L57.9 -1456.1L58.3 -1452.9L58.5 -1449.7L59.0 -1446.5L59.1 -1443.3L59.4 -1440.1L60.0 -1437.0L59.8 -1433.7L59.9 -1430.5L61.1 -1427.4L60.7 -1424.2L60.0 -1420.9L61.1 -1417.8L61.9 -1414.6L62.9 -1411.5L62.3 -1408.2L62.0 -1405.0L62.9 -1401.9L61.6 -1398.5L62.1 -1395.4L64.3 -1392.4L63.2 -1389.0L64.8 -1386.0L65.5 -1382.8L63.4 -1379.4L64.9 -1376.3L64.6 -1373.1L66.4 -1370.0L64.9 -1366.7L66.0 -1363.6L65.7 -1360.3L66.4 -1357.2L66.9 -1354.0L67.6 -1350.9L66.3 -1347.5L66.4 -1344.3L67.5 -1341.2L67.1 -1338.0L68.1 -1334.8L69.7 -1331.8L68.5 -1328.4L68.8 -1325.3L69.8 -1322.1L70.4 -1319.0L70.0 -1315.7L70.5 -1312.6L70.9 -1309.4L71.1 -1306.2L70.2 -1302.9L71.8 -1299.8L73.0 -1296.7L73.3 -1293.5L72.7 -1290.3L73.5 -1287.1L72.1 -1283.8L72.1 -1280.6L73.6 -1277.5L72.7 -1274.2L73.9 -1271.1L73.1 -1267.8L74.6 -1264.7L73.9 -1261.4L74.1 -1258.2L76.4 -1255.2L75.6 -1251.9L76.8 -1248.8L75.5 -1245.5L76.2 -1242.4L77.3 -1239.2L76.7 -1236.0L76.1 -1232.7L78.3 -1229.7L76.8 -1226.3L77.4 -1223.2L79.3 -1220.1L77.9 -1216.8L79.9 -1213.8L78.9 -1210.5L80.9 -1207.4L79.6 -1204.1L80.0 -1200.9L80.9 -1197.8L80.0 -1194.5L80.4 -1191.3L81.8 -1188.2L82.1 -1185.0L81.8 -1181.8L83.2 -1178.7L83.3 -1175.5L83.0 -1172.3L81.7 -1168.9L82.0 -1165.7L84.7 -1162.8L83.2 -1159.4L83.6 -1156.2L84.0 -1153.1L83.4 -1149.8L83.7 -1146.6L85.1 -1143.5L85.0 -1140.3L84.8 -1137.1L86.9 -1134.0L86.3 -1130.8L85.5 -1127.5L88.1 -1124.5L87.5 -1121.2L87.9 -1118.1L88.5 -1114.9L88.2 -1111.7L88.6 -1108.5L89.2 -1105.3L87.6 -1102.0L88.0 -1098.8L90.1 -1095.8L89.2 -1092.5L89.3 -1089.3L90.6 -1086.2L90.5 -1082.9L91.2 -1079.8L90.2 -1076.5L90.8 -1073.3L90.5 -1070.1L91.9 -1067.0L92.2 -1063.8L92.9 -1060.7L93.3 -1057.5L92.0 -1054.2L93.6 -1051.1L92.5 -1047.8L92.9 -1044.6L93.0 -1041.4L94.2 -1038.3L94.0 -1035.0L93.7 -1031.8L95.3 -1028.7L95.5 -1025.5L94.6 -1022.2L97.0 -1019.2L96.5 -1016.0L95.9 -1012.7L95.7 -1009.5L98.1 -1006.5L97.9 -1003.3L97.9 -1000.0L99.1 -996.9L99.5 -993.8L99.3 -990.5L98.5 -987.2L99.4 -984.1L100.0 -980.9L99.4 -977.7L100.1 -974.5L100.3 -971.3L99.7 -968.1L100.4 -964.9L100.5 -961.7L100.1 -958.5L102.9 -955.5L101.8 -952.2L102.4 -949.0L101.9 -945.8L103.7 -942.7L102.5 -939.4L103.1 -936.2L104.0 -933.1L102.9 -929.8L103.7 -926.6L103.4 -923.4L104.4 -920.3L105.9 -917.2L105.2 -913.9L106.2 -910.8L105.1 -907.5L105.3 -904.3L106.9 -901.2L105.6 -897.9L107.9 -894.9L107.1 -891.6L107.0 -888.4L106.8 -885.1L109.3 -882.1L107.2 -878.7L107.6 -875.6L109.1 -872.5L108.6 -869.2L110.7 -866.2L110.2 -862.9L109.4 -859.7L109.1 -856.4L111.1 -853.4L111.6 -850.2L110.9 -846.9L110.9 -843.7L111.7 -840.6L112.0 -837.4L112.8 -834.2L111.5 -830.9L113.2 -827.9L113.1 -824.6L114.4 -821.5L114.7 -818.3L114.0 -815.1L115.5 -812.0L114.2 -808.7L114.0 -805.4L113.9 -802.2L115.6 -799.1L116.2 -796.0L116.7 -792.8L114.9 -789.4L116.5 -786.4L116.0 -783.1L118.1 -780.1L117.2 -776.8L118.6 -773.7L118.0 -770.4L117.5 -767.2L117.3 -763.9L118.2 -760.8L117.9 -757.6L119.6 -754.5L120.0 -751.3L119.6 -748.1L119.9 -744.9L120.7 -741.8L120.9 -738.5L121.0 -735.3L122.4 -732.3L120.5 -728.9L121.2 -725.7L121.7 -722.6L123.2 -719.5L122.9 -716.2L123.2 -713.0L123.0 -709.8L123.3 -706.6L122.7 -703.4L124.0 -700.3L125.0 -697.1L123.9 -693.8L123.7 -690.6L123.9 -687.4L124.9 -684.3L126.5 -681.2L127.1 -678.0L126.8 -674.8L125.9 -671.5L126.4 -668.3L128.2 -665.3L127.4 -662.0L128.1 -658.8L128.1 -655.6L127.5 -652.4L128.2 -649.2L128.0 -646.0L128.9 -642.8L128.4 -639.6L128.2 -636.4L129.6 -633.3L130.4 -630.1L131.6 -627.0L131.7 -623.8L130.4 -620.5L130.4 -617.3L131.5 -614.2L131.9 -611.0L132.1 -607.8L133.1 -604.7L131.4 -601.3L132.0 -598.1L132.8 -595.0L134.3 -591.9L133.2 -588.6L133.6 -585.4L134.0 -582.2L135.1 -579.1L135.8 -576.0L134.8 -572.7L134.7 -569.4L135.5 -566.3L134.7 -563.0L135.3 -559.9L136.8 -556.8L136.7 -553.6L136.4 -550.3L138.0 -547.2L138.9 -544.1L138.5 -540.9L137.3 -537.5L137.8 -534.4L139.4 -531.3L139.9 -528.1L139.6 -524.9L138.7 -521.6L138.8 -518.4L140.5 -515.3L139.6 -512.0L140.8 -508.9L140.9 -505.7L142.3 -502.6L142.1 -499.4L142.7 -496.2L143.3 -493.1L142.5 -489.8L143.9 -486.7L141.9 -483.3L143.1 -480.2L143.8 -477.1L144.4 -473.9L144.8 -470.7L144.5 -467.5L145.4 -464.3L146.0 -461.2L146.1 -458.0L144.3 -454.6L145.5 -451.5L145.0 -448.2L147.4 -445.2L147.3 -442.0L146.3 -438.7L148.0 -435.6L148.3 -432.5L148.1 -429.2L148.7 -426.1L148.2 -422.8L148.6 -419.6L149.2 -416.5L149.0 -413.2L150.0 -410.1L149.1 -406.8L148.9 -403.6L149.9 -400.5L150.4 -397.3L151.3 -394.2L150.0 -390.8L150.3 -387.6L151.5 -384.5L152.6 -381.4L152.8 -378.2L152.8 -375.0L152.3 -371.8L151.8 -368.5L153.1 -365.4L154.1 -362.3L153.4 -359.0L154.6 -355.9L154.4 -352.7L154.9 -349.5L154.4 -346.2L155.5 -343.1L154.7 -339.8L155.8 -336.7L154.8 -333.4L156.0 -330.3L156.7 -327.2L156.4 -323.9L156.6 -320.7L157.6 -317.6L158.6 -314.5L158.6 -311.2L159.2 -308.1L157.9 -304.8L158.4 -301.6L158.0 -298.3L160.0 -295.3L160.2 -292.1L160.0 -288.9L159.9 -285.7L160.2 -282.5L160.8 -279.3L161.1 -276.1L160.1 -272.8L160.4 -269.6L162.9 -266.6L162.1 -263.4L163.2 -260.2L163.6 -257.1L163.0 -253.8L164.0 -250.7L163.6 -247.4L162.8 -244.1L163.8 -241.0L164.4 -237.9L164.3 -234.6L163.9 -231.4L164.9 -228.3L165.9 -225.1L166.4 -222.0L165.8 -218.7L167.0 -215.6L165.6 -212.3L167.2 -209.2L166.6 -205.9L168.0 -202.8L166.8 -199.5L166.9 -196.3L169.4 -193.3L167.4 -189.9L169.0 -186.8L168.0 -183.5L169.7 -180.5L170.9 -177.4L168.8 -174.0L171.1 -171.0L170.6 -167.7L170.6 -164.5L170.1 -161.2L171.7 -158.2L171.9 -155.0L172.7 -151.8L171.0 -148.5L171.4 -145.3L172.3 -142.1L174.3 -139.1L173.4 -135.8L173.0 -132.6L173.3 -129.4L175.3 -126.3L174.1 -123.0L175.6 -119.9L175.5 -116.7L175.7 -113.5L175.7 -110.3L175.7 -107.1L176.6 -104.0L175.4 -100.6L177.7 -97.6L176.1 -94.3L176.5 -91.1L176.6 -87.9L177.4 -84.7L177.6 -81.5L178.8 -78.4L178.8 -75.2L179.1 -72.0L180.3 -68.9L179.6 -65.7L179.8 -62.5L180.6 -59.3L179.3 -56.0L180.7 -52.9L180.9 -49.7L181.2 -46.5L180.1 -43.2L180.6 -40.0L181.6 -36.9L181.7 -33.7L181.7 -30.5L183.5 -27.4L181.9 -24.1L183.5 -21.0L184.2 -17.9L184.6 -14.7L183.1 -11.3L184.3 -8.2L185.3 -5.1L185.6 -1.9L186.6 1.2L185.9 4.5L186.9 7.6L186.8 10.8L187.2 14.0L186.5 17.3L187.1 20.4L186.0 23.8L187.5 26.8L188.5 30.0L187.5 33.3L187.2 36.5L189.4 39.5L190.1 42.7L189.6 45.9L188.9 49.2L190.2 52.3L189.8 55.6L190.3 58.7L190.0 62.0L189.8 65.2L192.0 68.2L191.8 71.5L191.8 74.7M490.1 585.8L487.9 583.3L484.8 581.9L482.5 579.5L480.0 577.3L478.6 574.0L475.6 572.4L472.9 570.5L471.0 567.7L469.0 565.0L466.2 563.2L462.9 562.0L460.7 559.5L458.4 557.1L456.0 554.9L454.1 552.1L450.5 551.1L448.6 548.3L447.1 545.1L444.8 542.8L442.2 540.7L439.7 538.6L437.0 536.6L434.5 534.5L431.2 533.2L429.4 530.3M741.4 304.1L740.0 300.4L740.5 296.5L739.9 292.7L740.3 288.9M125.2 264.0L128.6 263.8L131.7 264.8L134.6 266.9L137.9 267.2L141.1 267.7L144.5 267.7L147.4 269.5L150.4 270.9L153.9 270.2L157.1 270.9L160.2 272.0L163.3 273.0L166.6 273.7L169.7 274.4L172.8 275.5L176.5 274.3L179.4 276.0M132.3 287.3L134.4 289.9L138.3 289.8L141.1 291.4L142.8 294.6L146.0 295.6L148.9 296.9L152.0 298.1L153.8 301.2L156.9 302.3L160.1 303.1L162.4 305.5M162.4 305.5L163.3 302.3L164.9 299.5L166.9 297.0L169.9 295.1L170.2 291.5L172.2 289.0L173.8 286.2L175.8 283.7L177.3 280.9L179.6 278.5M179.4 276.0L179.6 278.5M283.9 274.2L286.5 276.5M279.5 294.6L279.7 291.3L281.4 288.4L284.2 286.0L283.0 282.1L284.5 279.2L286.5 276.5M265.9 278.4L265.4 280.2M735.9 320.5L733.8 323.4L732.4 326.8L731.0 330.0L728.9 333.0L727.2 336.1L726.0 339.6L723.2 342.1M715.8 322.0L717.5 325.2L719.3 328.3L720.3 331.7L719.7 335.8L722.2 338.6L723.2 342.1M730.6 311.8L730.4 311.7M715.8 322.0L715.9 321.2M730.4 311.7L728.1 314.6L725.0 316.1L722.3 318.2L718.8 319.3L715.9 321.2M616.0 321.6L619.4 319.6L623.8 319.8L627.1 317.3M627.1 317.3L627.0 313.6L627.1 309.9L628.2 306.3L628.4 302.7M607.9 317.9L610.0 319.9M607.9 317.9L609.9 314.9L610.4 311.3L611.1 307.8L613.1 304.7L615.1 301.7L615.2 298.0L617.1 294.9L617.8 291.4L618.7 287.9M610.0 319.9L616.0 321.6M680.5 280.3L680.0 277.0L678.6 273.9L678.7 270.5L677.7 267.3L676.8 264.0L676.6 260.7L676.4 257.4L674.9 254.3L675.3 250.8L672.6 247.9L674.1 244.2L672.7 241.1L671.6 238.0L671.1 234.7L671.4 231.2L670.9 227.9L668.1 225.1L667.3 221.9L667.0 218.5L667.2 215.1L667.1 211.7L664.9 208.8L664.3 205.5L664.6 202.1M680.5 280.3L683.6 278.8L686.9 279.4L690.1 279.4L693.4 279.9L696.5 279.1L699.7 278.7M664.6 202.1L665.3 205.3L667.4 208.0L669.5 210.5L670.8 213.5L671.6 216.8L673.9 219.2L674.3 222.7L675.9 225.5L676.9 228.6L679.0 231.2L679.3 234.7L680.7 237.6L682.7 240.3L685.4 242.6L685.0 246.4L687.3 248.9L689.8 251.3L690.9 254.4L691.1 257.9L693.9 260.1L695.7 262.9L696.6 266.0L697.4 269.3L699.1 272.1L700.4 275.1M699.7 278.7L700.4 275.1M731.8 257.7L728.5 258.6L726.3 261.3L722.9 261.9L720.0 263.3L717.3 265.2L715.1 268.1L711.6 268.3L708.7 269.9L706.6 272.9L703.1 273.3L700.4 275.1M645.5 308.1L647.7 305.2L648.5 301.6L651.3 299.1L652.3 295.5M645.5 308.1L642.3 306.5L638.5 306.6L634.9 306.0L632.0 303.1L628.4 302.7M616.6 277.8L619.6 279.0L622.4 280.6L625.7 281.2L628.2 283.3L631.7 283.6L634.2 285.6L636.8 287.6L639.6 289.4L642.4 290.9L645.3 292.4L648.2 293.7L651.6 294.0M651.6 294.0L652.3 295.5M215.2 123.3L219.1 123.8M235.7 123.4L235.8 124.4M235.8 124.4L233.7 128.0L229.5 129.4L227.2 132.8M227.2 132.8L224.1 130.1L221.0 127.4L219.1 123.8M1051.5 -1251.7L1049.6 -1249.1L1047.8 -1246.4L1047.5 -1242.9L1045.2 -1240.5L1043.5 -1237.8L1042.5 -1234.7L1039.1 -1232.9L1037.9 -1229.9L1035.9 -1227.4L1034.1 -1224.7L1033.1 -1221.6L1032.7 -1218.1L1030.0 -1216.0L1029.0 -1212.8L1026.9 -1210.4L1024.7 -1207.9L1022.8 -1205.3L1022.1 -1202.0L1020.2 -1199.4L1018.9 -1196.5L1017.7 -1193.5L1015.0 -1191.3L1014.1 -1188.1L1011.4 -1186.0L1011.5 -1182.3L1010.3 -1179.2L1008.2 -1176.8L1005.2 -1174.8L1004.3 -1171.6L1003.1 -1168.6L1001.7 -1165.7L1000.2 -1162.8L997.9 -1160.5L997.0 -1157.3L993.8 -1155.4L992.3 -1152.6L990.8 -1149.8L990.1 -1146.5L987.9 -1144.1L987.7 -1140.5L984.3 -1138.7L983.7 -1135.4L982.0 -1132.7L981.0 -1129.5L977.6 -1127.8L976.3 -1124.8L976.3 -1121.1L972.7 -1119.5L972.5 -1115.9L969.3 -1114.1L968.4 -1110.9L967.8 -1107.5L966.7 -1104.5L964.3 -1102.1L961.7 -1100.0L960.0 -1097.3L958.3 -1094.5L957.6 -1091.2L955.1 -1089.0L954.7 -1085.5L952.5 -1083.1L950.4 -1080.6L950.4 -1076.9L948.2 -1074.4L946.3 -1071.8L943.7 -1069.6L943.6 -1066.0L941.9 -1063.3L940.1 -1060.6L938.2 -1058.0L935.3 -1056.0L933.6 -1053.2L933.8 -1049.5L931.6 -1047.0L930.0 -1044.2L928.1 -1041.6L926.1 -1039.1L926.0 -1035.5L923.8 -1033.0L922.2 -1030.2L920.1 -1027.7L917.7 -1025.5L916.8 -1022.3L914.4 -1020.0L912.7 -1017.2L911.3 -1014.3L910.7 -1011.0L909.8 -1007.7L906.4 -1006.0L905.2 -1003.1L904.3 -999.8L903.1 -996.9L901.7 -993.9L899.9 -991.3L896.8 -989.4L894.8 -986.8L893.5 -983.9L891.6 -981.3L890.3 -978.3L888.3 -975.8L888.4 -972.0L885.3 -970.1L884.0 -967.2L881.8 -964.8L880.7 -961.7L879.6 -958.6L877.1 -956.3L877.4 -952.5L874.7 -950.3L872.7 -947.8L872.4 -944.2L870.4 -941.7L868.5 -939.1L865.5 -937.1L864.0 -934.3L864.0 -930.6L862.7 -927.6L860.9 -925.0L859.0 -922.4L857.1 -919.8L855.8 -916.8L854.1 -914.1L852.9 -911.1L850.6 -908.7L847.8 -906.6L846.3 -903.8L845.5 -900.6L844.6 -897.4L841.2 -895.6L840.8 -892.2L838.5 -889.8L836.5 -887.3L835.3 -884.2L833.5 -881.6L832.3 -878.6L831.4 -875.4L829.2 -873.0L827.7 -870.1L826.8 -867.0L824.1 -864.8L823.0 -861.7L822.3 -858.4L819.9 -856.1L818.6 -853.2L816.1 -850.9L814.2 -848.3L813.0 -845.3L810.7 -842.9L810.3 -839.4L808.9 -836.6L806.3 -834.4L805.8 -831.0L803.6 -828.5L802.3 -825.6L801.2 -822.5L798.6 -820.3L795.8 -818.2L794.8 -815.1L794.3 -811.7L791.1 -809.8L790.1 -806.7L788.3 -804.0L787.2 -801.0L786.5 -797.7L783.3 -795.8L782.7 -792.5L779.7 -790.5L779.2 -787.1L778.4 -783.9L776.0 -781.5L774.5 -778.7L773.7 -775.5L771.5 -773.0L768.3 -771.2L768.8 -767.2L766.5 -764.8L765.3 -761.8L762.0 -760.0L761.8 -756.4L759.4 -754.1L758.3 -751.0L755.9 -748.7L755.7 -745.1L754.2 -742.3L752.5 -739.6L750.2 -737.2L748.7 -734.4L747.0 -731.6L746.1 -728.5L742.9 -726.6L742.5 -723.1L740.2 -720.8L738.3 -718.2L736.4 -715.5L735.1 -712.6L733.8 -709.7L731.5 -707.3L730.4 -704.2L728.2 -701.8L727.9 -698.3L726.0 -695.6L724.6 -692.7L722.6 -690.2L721.4 -687.2L720.2 -684.2L718.2 -681.7L715.2 -679.7L715.4 -675.9L713.2 -673.4L710.9 -671.1L708.3 -668.9L706.8 -666.0L706.6 -662.5L703.8 -660.4L702.8 -657.2L701.7 -654.2L699.6 -651.7L698.0 -648.9L697.3 -645.6L694.5 -643.5L692.6 -640.9L691.4 -637.9L690.3 -634.9L688.9 -632.0L686.9 -629.4L684.2 -627.3L683.2 -624.1L681.6 -621.4L680.2 -618.5L677.9 -616.1L676.5 -613.2L675.1 -610.3L674.0 -607.2L672.1 -604.6L670.4 -601.9L669.0 -599.0L666.6 -596.7L665.3 -593.8L663.4 -591.1L662.6 -587.9L660.2 -585.6L660.1 -582.0L657.1 -580.0L656.4 -576.7L655.0 -573.8L651.7 -572.0L651.7 -568.3L648.6 -566.4L647.4 -563.4L646.1 -560.4L645.2 -557.2L642.6 -555.1L642.4 -551.5L638.9 -549.8L638.6 -546.3L636.7 -543.6L635.4 -540.7L632.6 -538.6L630.8 -536.0L630.8 -532.2L628.3 -530.0L626.6 -527.3L625.4 -524.2L622.6 -522.2L620.9 -519.4L620.1 -516.2L619.1 -513.1L617.1 -510.5L615.2 -507.9L613.7 -505.1L612.6 -502.0L610.9 -499.4L609.6 -496.4L606.8 -494.3L605.0 -491.6L604.4 -488.3L601.5 -486.3L601.6 -482.5L598.4 -480.6L597.6 -477.4L596.6 -474.3L594.9 -471.5L593.2 -468.8L590.7 -466.6L588.5 -464.2L587.1 -461.2L586.3 -458.0L584.7 -455.2L583.8 -452.0L582.2 -449.3L580.7 -446.4L578.7 -443.9L576.6 -441.4L575.3 -438.4L573.6 -435.7L572.1 -432.9L570.2 -430.3L568.0 -427.9L567.3 -424.5L566.0 -421.6L563.8 -419.2L562.8 -416.0L559.9 -414.0L559.5 -410.6L557.9 -407.7L555.7 -405.4L553.7 -402.8L552.9 -399.6L549.6 -397.8L549.8 -394.0L547.0 -391.9L544.7 -389.5L544.9 -385.7L541.9 -383.7L539.7 -381.3L539.9 -377.5L537.0 -375.4L535.9 -372.3L534.5 -369.5L532.8 -366.8L530.3 -364.5L529.0 -361.6L527.6 -358.7L526.4 -355.6L523.7 -353.5L523.6 -349.9L520.4 -348.0L520.6 -344.2L518.5 -341.7L516.9 -338.9L515.5 -336.0L513.3 -333.6L512.2 -330.5L510.2 -328.0L509.3 -324.8L506.6 -322.6L504.2 -320.4L502.7 -317.5L500.9 -314.9L500.7 -311.2L497.8 -309.2L497.2 -305.9L494.5 -303.7L494.2 -300.2L492.5 -297.5L491.3 -294.5L489.0 -292.1L487.8 -289.1L485.3 -286.9L483.6 -284.1L483.2 -280.7L480.9 -278.3L478.8 -275.8L476.5 -273.4L475.1 -270.5L474.4 -267.2L471.8 -265.1L472.2 -261.1L470.3 -258.5L466.9 -256.8L465.6 -253.8L465.2 -250.3L462.6 -248.1L461.1 -245.3L460.2 -242.1L458.0 -239.7L456.3 -236.9L454.1 -234.6L453.9 -230.9L451.8 -228.5L449.1 -226.3L447.5 -223.5L446.4 -220.5L445.6 -217.3L443.2 -214.9L440.9 -212.5L440.4 -209.2L439.6 -205.9L436.1 -204.2L436.4 -200.3L434.1 -198.0L432.1 -195.4L430.7 -192.5L427.9 -190.5L428.2 -186.6L426.2 -184.0L424.5 -181.3L422.9 -178.5L420.8 -176.0L419.8 -172.9L418.6 -169.9L415.8 -167.8L414.0 -165.2L413.2 -161.9L410.4 -159.8L408.8 -157.1L408.5 -153.5L405.1 -151.8L403.8 -148.9L402.5 -145.9L401.0 -143.1L399.2 -140.4L398.9 -136.9L396.3 -134.7L394.7 -131.9L392.3 -129.6L392.1 -126.0L390.0 -123.5L387.8 -121.1L386.2 -118.3L386.2 -114.6L383.9 -112.2L383.0 -109.0L379.8 -107.2L379.0 -103.9L376.3 -101.8L375.8 -98.4L373.1 -96.3L371.9 -93.3L369.6 -90.9L369.4 -87.3L368.2 -84.3L366.5 -81.5L365.1 -78.6L361.5 -77.0L361.2 -73.5L358.9 -71.1L356.8 -68.7L357.0 -64.8L354.8 -62.4L352.3 -60.1L351.6 -56.8L348.8 -54.8L347.5 -51.8L345.8 -49.1L344.7 -46.0L343.1 -43.3L341.7 -40.3L340.4 -37.4L337.2 -35.6L337.0 -31.9L333.8 -30.1L333.0 -26.9L330.5 -24.6L330.2 -21.1L327.3 -19.0L327.1 -15.5L325.0 -13.0L324.1 -9.8L323.0 -6.7L319.5 -5.0L319.6 -1.3L317.3 1.1L314.9 3.4L314.8 7.1L312.7 9.5L311.0 12.3L308.5 14.5L308.3 18.1L305.2 20.0L304.8 23.5L302.6 25.9L301.2 28.8L299.5 31.5L297.2 33.9L296.5 37.2L294.0 39.4L293.0 42.6L290.7 44.9L290.5 48.5L288.0 50.8L286.0 53.3L284.9 56.4L283.0 59.0L282.3 62.3L278.9 64.0L277.4 66.9L275.6 69.5L274.1 72.4L273.8 75.9L272.2 78.7L270.9 81.7L269.4 84.5L266.3 86.4L265.2 89.4M281.4 197.4L282.5 194.2L281.2 190.7L282.1 187.5L283.4 184.4L283.9 181.1L284.9 177.9L284.9 174.6M281.4 197.4L285.0 198.1L287.7 200.9L291.4 201.3M291.4 201.3L294.5 199.0L298.2 197.9M180.3 274.5L183.4 273.2L187.0 273.8L189.8 271.8L192.6 269.6L196.2 270.3L199.0 268.1L202.4 267.9L205.5 267.0L208.8 266.3M180.3 274.5L179.4 270.8L179.0 267.1L179.1 263.4L179.3 259.6M179.3 259.6L182.1 256.0L183.5 251.6M206.3 260.3L208.0 263.1L208.8 266.3M206.3 260.3L203.7 257.5L199.6 257.2L197.5 253.8L193.6 253.0L191.0 250.4M183.5 251.6L187.1 250.1L191.0 250.4M90.4 213.2L92.9 215.4L95.8 216.8L98.8 218.1L102.2 218.7L105.3 219.6L107.3 222.9L110.8 223.1L113.6 224.7L116.3 226.5L119.5 227.4L122.1 229.3L124.7 231.5L127.4 233.2L131.1 233.1L133.0 236.6L136.1 237.6L139.2 238.6L141.9 240.4L144.8 241.9L147.6 243.5L151.1 243.9L154.0 245.2L156.0 248.4L158.9 249.8L162.0 250.9L165.6 251.0L167.7 253.9L170.8 255.0L173.1 257.5L176.3 258.4L179.3 259.6M179.4 276.0L180.3 274.5M162.4 305.5L162.5 305.8M125.7 327.7L128.5 330.2L130.8 333.1M184.8 339.1L186.7 337.1M162.5 305.8L165.4 308.0L168.9 308.6L172.2 309.8L174.9 312.2L178.2 313.5L182.1 313.3L184.4 316.8L188.0 317.2M188.0 317.2L188.7 320.6L187.0 323.8L186.6 327.1L186.1 330.4L187.3 333.8L186.7 337.1M658.4 275.7L658.1 279.1L656.8 282.1L655.0 284.9L654.4 288.1L653.8 291.4L651.6 294.0M172.6 571.2L169.2 571.2L166.6 573.3L163.2 573.5L160.8 576.2L157.9 577.7L154.7 578.2L151.8 579.6L148.0 578.5L145.8 581.9L142.3 581.6L139.5 583.4L136.4 584.0L133.1 584.5L130.3 586.2L127.4 587.6L124.2 588.1L121.2 589.4L118.0 589.7L115.3 591.9L112.2 592.6L109.0 593.2L106.3 595.1L102.9 595.1L100.3 597.3L97.4 598.7L94.0 598.8L91.1 600.3L87.8 600.6L84.6 601.1L82.1 603.5L79.3 605.3L76.1 606.0L73.2 607.2L70.0 607.9L67.1 609.3L64.0 610.1L60.8 610.5L57.6 611.2L54.5 612.1L52.0 614.5L48.4 613.9L45.7 616.1L43.0 618.0L39.2 616.8L36.1 617.8L33.7 620.3L30.2 620.2L27.9 623.3L24.6 623.7L21.0 623.1L18.3 625.0L15.5 626.6L12.1 626.7L9.0 627.6L6.7 630.6L3.2 630.2L-0.1 630.6L-2.3 634.0L-5.7 634.1L-8.6 635.4L-11.7 636.1L-14.8 637.2L-17.8 638.1L-21.3 637.9L-23.9 640.2M-81.7 681.8L-79.0 679.6L-75.5 679.8L-72.6 678.4L-69.7 677.1L-66.3 676.9L-63.2 676.0L-60.2 675.0L-57.3 673.4L-54.0 673.1L-50.8 672.5L-47.9 671.1L-44.7 670.3L-41.8 669.0L-38.7 667.9L-36.3 665.2L-33.2 664.2L-29.9 663.9L-26.5 664.0L-24.0 661.2L-20.5 661.6L-17.8 659.3L-14.4 659.3L-11.9 656.8L-8.6 656.5L-5.6 655.4L-2.2 655.1L0.3 652.7L3.9 653.0L6.5 650.9L9.7 650.2L12.9 649.4L16.0 648.8L18.7 646.7L22.3 647.2L25.0 645.2L27.9 643.6L31.6 644.4L34.2 642.2L37.3 641.3L40.7 641.2L43.4 639.2L46.7 638.9L49.3 636.4L52.8 636.7L55.9 636.0L58.6 633.9L61.6 632.8L64.8 632.0L68.1 631.9L70.5 628.7L74.2 629.7L77.1 628.2L79.9 626.5L82.7 624.7L86.4 625.5L89.3 624.1L92.3 622.7L95.6 622.4L98.4 620.8L101.1 618.7L104.8 619.5L107.7 617.9L110.2 615.4L113.9 616.1L116.8 614.8L119.7 613.3L123.0 613.1L125.7 610.9L128.6 609.4L131.7 608.5L135.1 608.6L137.6 605.8L140.8 605.4L143.7 603.7L147.5 605.1L150.3 603.3L153.4 602.4L156.1 600.2L159.3 599.6L162.1 597.7L165.0 596.5L168.5 596.6L171.8 596.4L174.3 593.5L177.8 593.9L181.0 593.4L183.7 591.4M644.6 437.4L647.7 435.9L650.7 434.0L653.9 432.6L656.1 429.4L659.5 428.3M644.6 437.4L646.6 440.6L649.5 443.0L652.7 445.1L654.6 448.4L658.0 450.4L660.4 453.2M644.6 453.8L642.3 450.9L639.6 448.2M639.6 448.2L640.7 445.1L641.2 441.9L642.4 438.9M642.4 438.9L644.5 437.4M644.5 437.4L644.6 437.4M644.6 453.8L648.6 453.1L652.5 452.6L656.4 452.4L660.4 453.2M671.4 402.8L668.0 404.3M671.4 402.8L673.2 405.6L676.9 406.5L678.7 409.4L680.6 412.1L682.6 414.7L685.5 416.4L687.6 419.0L689.0 422.1L691.4 424.4L694.2 426.2L696.3 428.7L698.5 431.1L700.7 433.5L703.5 435.3L705.6 437.8L707.4 440.6L710.8 441.9L712.0 445.3L714.5 447.4L716.6 449.9L719.2 451.9L721.6 454.1L724.8 455.6L725.7 459.3L728.9 460.7L731.0 463.3L734.3 464.5L736.5 466.9L737.4 470.7L740.3 472.4M668.0 404.3L667.1 407.9L665.2 411.1M665.2 411.1L666.7 414.2L669.7 416.2L671.0 419.4L672.4 422.7L675.7 424.5L677.7 427.2L680.1 429.6L680.8 433.3L683.1 435.8L685.3 438.4M671.4 402.8L672.8 399.7M672.8 399.7L676.5 399.0L680.0 397.7L683.5 396.2L687.3 396.0L690.4 393.3L694.1 392.9M730.4 311.7L729.1 308.4L725.8 306.5L724.9 302.9L723.0 300.0L721.1 297.1L718.2 295.0M715.9 321.2L714.9 317.9L712.4 315.7L710.4 313.1L708.1 310.8M708.1 310.8L710.3 307.7L711.3 303.9L714.9 301.8L715.1 297.5L718.2 295.0M731.8 257.7L731.3 261.3L729.7 264.3L726.8 266.7L725.2 269.7L725.7 273.8L722.9 276.3L721.0 279.1L721.1 283.0L718.1 285.3L717.6 288.9L716.1 291.9M699.7 278.7L700.7 283.2L703.1 287.0M703.1 287.0L706.4 288.0L709.8 288.9L712.8 290.7L716.1 291.9M740.3 288.9L737.2 290.0L734.1 291.2L730.8 291.5L727.8 292.9L724.6 293.4L721.0 292.7L718.1 294.6M716.1 291.9L718.1 294.6M718.1 294.6L718.2 295.0M627.1 317.3L628.9 320.4L632.4 321.5M648.0 316.2L647.4 312.0L645.5 308.1M648.0 316.2L645.4 319.0L641.9 320.3L638.6 321.9M638.6 321.9L632.4 321.5M658.4 275.7L660.7 278.7L664.9 279.1L667.5 281.8L670.5 284.0L673.3 286.4M652.3 295.5L656.1 297.4L660.2 298.2L664.3 298.9M664.3 298.9L667.5 296.4L668.7 292.5L670.4 289.0L673.3 286.4M652.2 318.5L655.0 316.5L658.4 316.3L661.5 315.2L664.7 314.6L667.5 312.5L670.8 311.9M648.0 316.2L652.2 318.5M664.3 298.9L664.9 302.7L668.7 304.8L669.6 308.4L670.8 311.9M680.5 280.3L678.1 282.8L676.3 285.8M676.3 285.8L673.3 286.4M233.3 197.0L234.4 200.0L236.4 202.7L238.1 205.5L238.6 208.9M237.7 210.7L238.6 208.9M228.8 212.5L233.1 210.7L237.7 210.7M233.3 197.0L228.5 198.0M228.5 198.0L226.5 200.9L226.1 204.6L223.5 207.2M227.1 137.3L227.2 132.8M215.2 123.4L214.8 127.3L213.3 131.1L213.6 135.1M215.2 123.4L215.2 123.3M227.1 137.3L222.1 139.9M222.1 139.9L218.9 138.9L216.2 137.0L213.6 135.1M227.1 137.3L230.3 139.4L234.1 140.7L237.6 142.5L240.6 145.0M235.8 124.4L238.7 126.5L241.0 129.2L243.6 131.7L246.3 133.9L247.6 137.6L251.6 138.6L254.0 141.3L256.3 144.0L258.4 147.0M240.6 145.0L244.2 145.5L247.8 145.4L251.2 147.1L254.9 145.7L258.4 147.0M258.5 147.0L258.4 147.0M237.8 191.5L235.5 194.2L233.3 197.0M237.8 191.5L240.8 193.4L243.3 195.9L246.6 197.4L249.0 200.1L252.0 201.9M238.6 208.9L242.2 208.2L245.9 207.5L248.8 204.7L252.4 203.8M252.0 201.9L252.4 203.8M272.2 170.3L270.1 173.1L269.5 176.5L268.8 179.9L267.8 183.2L266.5 186.3L265.0 189.4M284.9 174.6L281.6 173.9L278.7 172.1L275.6 170.9L272.2 170.3M281.4 197.4L281.4 197.4M265.0 189.4L266.5 193.0L268.6 196.3M281.4 197.4L277.2 196.1L272.9 195.9L268.6 196.3M265.0 189.4L261.9 190.5L258.5 190.5L255.5 192.1M253.1 204.5L252.4 203.8M255.5 192.1L253.9 195.2L252.3 198.3L252.0 201.9M253.1 204.5L256.9 203.5L260.8 204.4L264.6 203.4M268.6 196.3L267.7 200.5L264.6 203.4M264.6 203.4L267.9 206.3L270.3 210.0M254.3 212.5L253.8 208.5L253.1 204.5M254.3 212.5L256.9 214.6L259.1 217.3L261.9 219.1L265.1 220.4M265.1 220.4L267.3 217.2L268.0 213.2L270.3 210.0M281.4 197.4L280.7 201.3L279.7 205.1L277.9 208.6M270.3 210.0L274.0 208.9L277.9 208.6M291.4 201.3L292.7 204.6L292.2 208.1L292.4 211.5M285.2 217.9L282.0 215.4L281.0 211.2L277.9 208.6M285.2 217.9L286.5 218.4M286.5 218.4L289.6 215.1L292.4 211.5M304.0 201.1L302.4 204.4L303.9 208.1L302.8 211.5M326.5 199.8L323.9 201.9L322.9 205.2L320.2 207.3L319.9 211.2L315.9 212.4L315.5 216.1L313.9 219.0L311.2 221.1M311.2 221.1L308.2 218.1L306.3 214.1L302.8 211.5M292.4 211.5L295.9 210.5L299.3 210.3L302.8 211.5M311.1 222.4L307.7 222.5L304.9 224.4L301.8 225.4L298.7 226.3L295.9 228.1L292.7 229.0M311.1 222.4L311.2 221.1M292.7 229.0L289.9 225.9L288.6 221.9L286.5 218.4M183.5 251.6L183.0 249.9M183.0 249.9L180.3 248.0L177.5 246.2L175.0 244.0L172.8 241.5L171.8 237.8L168.7 236.3L166.3 234.0L164.1 231.6L161.2 229.8L159.1 227.3L157.7 224.0L154.7 222.4L152.6 219.8L149.6 218.1L147.4 215.6L146.0 212.4L142.1 211.6L139.9 209.2L138.8 205.6L134.8 205.0L134.2 200.9L130.9 199.5M194.3 163.3L194.5 163.6M194.5 163.6L195.4 166.3M187.5 185.8L189.3 182.8L189.6 179.1L192.3 176.4L192.5 172.7L193.0 169.1L195.4 166.3M180.5 164.5L177.4 165.7L175.5 168.7L173.2 171.0L170.8 173.3L168.0 174.9L164.3 175.5L162.7 178.7L159.7 180.1L157.1 182.2L154.7 184.4L151.8 185.9L149.0 187.5L146.6 189.7L144.0 191.7L141.4 193.7L139.1 196.0L135.6 196.8L133.5 199.4M37.8 177.8L41.0 177.5L44.1 176.3L47.4 176.4L50.6 175.7L53.6 174.3L56.7 173.4L60.1 174.0L63.1 172.2L66.3 171.8L69.4 170.7L72.8 171.4L75.7 169.5L78.9 168.8L82.0 168.1L85.3 168.1L88.8 169.1L91.8 167.5L95.0 167.1L98.0 165.6L101.1 164.6L104.6 165.4L107.8 165.0L110.8 163.7L113.9 162.6L117.2 162.8L120.4 162.2L123.8 162.6L126.6 160.4L130.0 160.7L133.1 160.0L136.4 159.6L139.3 157.8L142.7 158.4L145.9 157.7L149.0 157.0L151.9 154.6L155.2 154.7L158.2 153.6L161.5 153.4L164.7 153.0L168.0 152.8L171.2 152.4L174.6 152.8L177.4 150.3L180.7 150.4M199.8 240.2L198.0 236.3M199.8 240.2L203.3 242.3L207.2 243.7M198.0 236.3L200.2 233.5L201.2 230.1L203.5 227.4L204.5 223.9M207.2 243.7L212.1 241.4M212.1 241.4L211.4 238.0L212.3 234.8L213.4 231.6L214.4 228.4L214.2 225.0M204.5 223.9L207.8 223.6L210.9 225.6L214.2 225.0M183.0 249.9L182.8 246.3L185.2 243.4L186.0 240.0L187.7 236.9L187.3 233.3M187.3 233.3L190.5 235.5L194.4 235.2L198.0 236.3M191.0 250.4L193.1 247.8L195.6 245.5L197.4 242.6L199.8 240.2M206.3 260.3L207.3 257.0L206.8 253.7L206.8 250.4L208.2 247.1L207.2 243.7M224.4 245.7L221.4 244.2L218.0 244.1L215.3 242.1L212.1 241.4M224.4 245.7L225.1 242.2L228.0 239.7L228.3 236.0M215.1 224.6L217.4 227.3L220.7 228.7L223.7 230.6L226.1 233.2L228.3 236.0M215.1 224.6L214.2 225.0M218.2 270.7L215.6 268.2L211.8 267.9L208.8 266.3M223.1 268.1L218.2 270.7M224.4 245.7L225.2 249.4L227.0 252.8M223.1 268.1L224.9 265.3L226.0 262.3M226.0 262.3L226.2 257.5L227.0 252.8M247.4 257.1L246.5 253.6L247.7 250.1L247.6 246.6M247.4 257.1L243.7 257.5L240.1 258.3L236.9 260.5L233.1 260.6L229.8 262.5L226.0 262.3M227.0 252.8L229.8 251.3L233.2 250.9L235.9 249.0L238.8 247.7L242.0 246.8L244.4 244.4M244.4 244.4L247.6 246.6M223.1 268.1L227.3 268.9L231.0 270.7L234.4 273.3M234.4 273.3L238.1 272.1L242.0 272.5L245.8 273.0M245.8 273.0L249.0 270.2L252.0 267.1M247.4 257.1L248.8 260.4L251.9 262.3M252.0 267.1L251.9 262.3M206.7 363.7L209.5 365.6L210.4 369.0L213.1 371.1L214.4 374.1L216.8 376.3L218.2 379.3M229.8 357.3L228.4 354.4L227.1 351.4L226.3 348.2L224.3 345.5M229.8 357.3L228.3 360.9L228.9 364.7L227.5 368.3L228.6 372.3L226.8 375.7M226.8 375.7L222.3 377.0L218.2 379.3M190.9 364.2L190.0 361.1L189.2 358.0L188.7 354.8L187.8 351.7L188.1 348.3L185.3 345.6L184.8 342.4L184.8 339.1M216.0 342.7L212.9 340.9L209.3 342.2L206.3 340.5L203.0 339.9L199.5 340.3L196.3 339.8L193.3 337.9L190.1 336.8L186.7 337.1M190.9 364.2L194.8 363.4L198.8 364.7L202.8 364.7L206.7 363.7M179.6 278.5L181.7 281.3L184.4 283.5L186.8 286.1L190.4 287.3L192.0 290.6L194.3 293.2L197.0 295.4L199.7 297.5M218.2 270.7L218.7 274.6L216.2 278.1L216.5 281.9L214.8 285.5L215.4 289.5M215.4 289.5L212.0 290.6L209.6 293.6L206.3 294.8L203.2 296.6L199.7 297.5M239.8 289.1L239.1 285.8L236.4 283.2L235.8 279.9L235.8 276.3L234.4 273.3M239.8 289.1L236.3 290.4L232.6 291.1L229.2 292.6L225.7 293.6L222.6 296.0M215.4 289.5L218.4 291.0L219.5 294.6L222.6 296.0M188.0 317.2L192.6 315.5L195.8 311.7M199.7 297.5L198.1 300.9L197.1 304.4L196.7 308.2L195.8 311.7M195.8 311.7L199.2 312.8L201.7 315.5L205.3 316.1L208.8 316.8L211.7 318.9L214.4 321.4L218.0 321.9M632.4 321.5L631.5 325.0L629.0 327.8L628.6 331.5M616.0 321.6L618.6 325.0L618.4 329.7L621.1 333.0M621.1 333.0L624.9 332.6L628.6 331.5M606.9 339.0L607.6 335.9L606.8 332.5L607.8 329.4L608.1 326.1L609.7 323.1L610.0 319.9M662.1 342.0L666.6 338.4M676.3 346.9L673.0 345.7L671.5 342.5L668.7 340.8L666.6 338.4M676.4 350.9L676.3 346.9M676.4 350.9L672.6 351.3L668.8 350.3L665.2 351.6L661.4 352.1M662.1 342.0L661.4 345.4L660.7 348.7L661.3 352.1M661.4 352.1L661.3 352.1M661.3 352.1L655.2 353.7M667.0 365.0L664.9 362.1L664.7 358.4L663.4 355.1L661.4 352.1M667.0 365.0L663.7 366.5L660.0 366.2L656.6 367.5M656.6 367.5L654.5 364.6L651.1 363.6M655.2 353.7L652.9 356.6L652.1 360.1L651.1 363.6M656.8 376.3L653.4 378.1L649.8 379.3L645.9 379.7M656.8 376.3L655.6 371.9L656.6 367.5M648.7 364.1L651.1 363.6M250.5 351.6L249.7 355.9L247.1 359.4M250.5 351.6L253.8 353.8L257.7 354.3L261.4 355.2L264.7 357.2M247.1 359.4L248.0 365.7M264.7 357.2L266.3 361.3M266.3 361.3L263.8 364.1L260.7 366.1L258.4 369.1L255.1 371.0M248.0 365.7L249.5 369.0L252.6 370.7M255.1 371.0L252.6 370.7M226.8 375.7L226.8 375.7M226.8 375.7L230.0 374.8L233.0 373.1L236.1 371.8L238.8 369.9L242.0 368.7L245.1 367.4L248.0 365.7M229.8 357.3L233.1 359.0L236.7 358.7L240.2 358.2L243.7 358.8L247.1 359.4M255.0 342.1L252.5 344.6L251.2 347.8L250.5 351.2M250.5 351.2L247.6 349.6L244.5 348.5L242.0 346.0L238.4 345.9L235.8 343.8L232.8 342.4M264.7 357.2L266.4 353.7L268.9 350.6L270.4 347.0M250.5 351.6L250.5 351.2M257.5 340.6L261.0 341.6L263.8 344.0L267.6 344.5L270.4 347.0M257.5 340.6L255.0 342.1M158.7 364.2L162.3 364.0L165.6 364.9L168.7 366.6L172.0 367.5L175.0 369.5L178.4 369.9L181.8 370.4L185.2 370.9M130.8 333.1L131.0 336.7L130.8 340.3L130.2 343.8L128.5 347.2L128.4 350.8L129.2 354.4M158.7 364.2L156.2 366.4L153.2 367.9M129.2 354.4L132.6 355.4L135.8 356.9L138.7 358.7L141.8 360.2L144.4 362.5L147.6 363.9L149.9 366.7L153.2 367.9M91.7 341.0L94.1 343.2L95.6 346.4L97.7 348.8L101.7 349.5L102.5 353.3L105.5 354.9L108.0 357.1L110.3 359.4L112.9 361.4L114.7 364.3M129.2 354.4L125.7 355.4L122.7 357.4L121.2 361.3L117.3 361.9L114.7 364.3M98.9 379.4L102.1 377.6L105.6 376.3L107.7 372.8L111.4 371.9M114.7 364.3L112.2 367.7L111.4 371.9M-6.1 349.5L-3.8 351.7L-1.6 354.1L1.0 356.0L4.1 357.4L6.3 359.7L8.2 362.4L11.3 363.8L13.0 366.7L15.9 368.3L18.0 370.8L19.5 373.9L22.1 375.8L24.9 377.4L27.8 379.1L29.0 382.5L30.9 385.2L33.9 386.6L36.2 389.0L39.2 390.5L41.3 392.9L43.4 395.3L45.1 398.3L47.7 400.1L50.5 401.9L52.4 404.6L55.1 406.3L57.8 408.2L60.8 409.6L61.9 413.2L64.8 414.9M665.2 411.1L662.0 412.2L658.5 412.3M659.5 428.3L657.8 424.0L654.3 421.0M658.5 412.3L657.3 415.3L656.1 418.3L654.3 421.0M658.5 412.3L656.7 408.6L653.5 405.8L651.9 402.0M668.0 404.3L664.6 401.8L660.6 400.4L657.0 398.1M657.0 398.1L655.0 400.9L651.9 402.0M642.7 399.1L643.3 399.1M645.5 382.1L647.1 385.3M647.1 385.3L646.2 388.8L645.6 392.3L645.3 395.9L643.3 399.1M654.3 421.0L650.8 419.7L647.1 419.2M644.5 437.4L641.7 433.7L641.2 429.0M641.2 429.0L642.4 425.3L644.5 422.2L647.1 419.2M649.1 402.2L651.9 402.0M649.1 402.2L649.3 406.2L646.5 409.3L645.9 413.0L645.0 416.7M645.0 416.7L647.1 419.2M656.8 376.3L660.1 378.8M647.1 385.3L651.0 386.6L654.9 387.7L658.5 389.8M660.1 378.8L660.0 382.5L658.7 386.1L658.5 389.8M657.0 398.1L657.6 394.5L659.3 391.2M672.8 399.7L671.4 396.6L669.5 393.7L669.0 390.3M669.0 390.3L665.7 389.9L662.5 390.9L659.3 391.2M643.3 399.1L646.2 400.7L649.1 402.2M659.3 391.2L658.5 389.8M687.2 364.0L685.6 361.1L683.5 358.6L682.8 355.3M687.2 364.0L690.4 362.9L693.8 364.0L697.1 363.9L700.4 362.8L703.8 363.7L707.1 363.6L710.3 361.7L713.7 363.0L716.9 362.1L720.2 361.8M682.8 355.3L686.1 353.5L689.7 352.2L692.3 349.4M720.2 361.8L716.7 361.3L714.1 358.9L710.8 357.9L707.4 357.1L705.0 354.3L702.0 352.7L698.5 352.3L695.1 351.6L692.3 349.4M684.5 370.4L687.0 367.7L687.2 364.0M708.9 395.3L707.2 392.0L704.7 389.6L701.6 387.8L699.2 385.2L696.6 382.9L693.8 380.8L692.7 377.0L688.6 376.1L687.6 372.2L684.5 370.4M680.3 371.5L677.5 368.8L674.2 367.0L670.9 365.2M680.3 371.5L678.0 374.0L677.2 377.2L675.6 380.0L675.0 383.3M667.1 377.5L670.5 380.6L674.3 383.4M667.1 377.5L667.2 373.5L668.3 369.7L668.7 365.8M668.7 365.8L670.9 365.2M675.0 383.3L674.3 383.4M684.5 370.4L680.3 371.5M678.5 354.1L682.8 355.3M678.5 354.1L677.1 357.2L675.3 360.0L673.8 363.2L670.9 365.2M694.1 392.9L690.6 392.0L687.3 390.6L684.3 388.6L681.6 386.0L678.2 384.9L675.0 383.3M660.1 378.8L663.8 378.9L667.1 377.5M669.0 390.3L671.8 387.0L674.3 383.4M667.0 365.0L668.7 365.8M676.4 350.9L678.5 354.1M620.1 433.9L624.5 434.0L628.2 431.8M631.9 438.2L629.1 435.5L628.2 431.8M631.9 438.2L630.3 441.9L627.4 444.9L626.0 448.7M642.4 438.9L638.9 438.7L635.4 438.8L631.9 438.2M641.2 429.0L637.5 428.7L634.3 426.8L630.9 425.7M630.9 425.7L629.3 428.7L628.2 431.8M639.6 448.2L635.1 449.7L630.5 451.0M630.5 451.0L626.0 448.7M620.1 433.9L616.5 432.9L614.4 429.7M611.6 454.5L611.1 451.2L609.4 448.2L610.9 444.6L608.4 441.7L608.5 438.3L607.6 435.2L607.9 431.8M607.9 431.8L611.0 430.3L614.4 429.7M640.5 335.5L636.0 338.6M640.5 335.5L645.2 335.9L649.8 336.2M634.2 344.1L636.0 338.6M649.8 336.2L650.8 338.3M650.8 338.3L649.5 341.5L649.4 344.9L648.7 348.3M640.9 350.5L644.6 348.6L648.7 348.3M638.6 321.9L638.9 325.3L639.6 328.7L639.0 332.2L640.5 335.5M628.6 331.5L631.9 333.0L634.0 335.8L636.0 338.6M652.2 318.5L653.6 322.8L654.1 327.3M654.1 327.3L651.8 329.9L650.5 332.9L649.8 336.2M617.8 341.1L621.6 341.9L624.4 344.6L627.5 346.6M662.1 342.0L658.5 340.4L654.5 339.9L650.8 338.3M666.6 338.4L667.8 332.7M655.2 353.7L651.7 351.3L648.7 348.3M639.7 358.8L639.8 354.6L640.9 350.5M215.2 224.4L218.8 222.2L222.9 221.3L226.7 219.9M223.5 207.2L219.6 207.1L215.7 207.9M215.6 208.0L215.7 207.9M228.5 198.0L225.6 196.3L223.4 193.4L220.0 192.2M217.5 192.3L220.0 192.2M213.1 184.8L209.9 185.0L206.7 185.9L203.6 186.8L200.4 187.7M200.4 187.7L201.9 190.6L202.8 193.8L205.4 196.0M217.5 192.3L215.8 188.3L213.1 184.8M205.4 196.0L209.6 197.5L213.9 196.5M194.3 163.3L193.5 159.3L193.6 155.3M193.6 155.3L192.0 153.5M222.1 139.9L220.4 144.7M240.6 145.0L236.8 145.7L233.8 148.0L231.0 150.5L227.6 152.0L224.4 153.9M220.4 144.7L222.7 147.3L222.7 151.0L224.4 153.9M255.5 192.1L254.1 187.9L250.7 185.1M272.2 170.3L270.0 166.9L267.1 164.1L262.6 163.2L260.4 159.8M260.4 159.8L258.2 162.5L259.2 166.5L255.9 168.9L256.6 172.8L254.1 175.5L252.7 178.6L252.6 182.1L250.7 185.1M258.5 147.0L257.3 150.4L257.7 153.8L258.8 157.2M260.4 159.8L258.8 157.2M237.8 191.5L238.1 187.9M250.7 185.1L247.5 185.6L244.7 187.5L241.2 186.6L238.1 187.9M265.1 220.4L265.2 220.6M285.2 217.9L281.5 219.2L278.5 222.0L275.0 223.6L271.3 224.8M265.2 220.6L268.8 221.9L271.3 224.8M381.2 660.7L378.2 659.6L375.6 657.3L372.0 657.5L369.4 655.6L366.5 654.1L364.0 651.8L360.6 651.7L357.8 650.1L355.1 648.1L351.8 647.8L348.7 646.8L345.4 646.2L343.4 642.8L340.5 641.4L337.3 640.7L333.8 640.9L331.0 639.2L328.3 637.4M381.2 660.7L378.0 661.6L374.7 661.9L371.3 660.6L368.2 661.8L364.9 661.6L361.6 662.1L358.6 664.2L355.4 664.9L351.9 663.2L348.7 664.2L345.5 664.5L342.3 664.9L339.0 665.3L335.9 666.2M321.4 726.5L324.6 726.9L328.0 725.5L331.2 726.8L334.5 725.6L337.8 726.6L341.1 726.7L344.4 726.2L347.7 726.4L351.0 727.7L354.3 727.3L357.6 727.1L360.9 726.4L364.2 726.1L367.4 727.7L370.7 727.7L374.0 726.7L377.3 727.0L380.6 728.0L383.9 727.2L387.2 727.1M174.2 216.1L177.3 217.3L180.8 216.8L183.9 217.7L187.3 217.6L190.4 218.8L193.5 220.3L196.6 221.2L199.6 222.8L203.1 222.4M156.4 203.5L159.7 203.7L163.2 202.7L166.4 204.9L169.9 203.8L173.3 203.2L176.6 205.1L180.0 204.7L183.4 203.7L186.7 205.6L190.1 204.9L193.5 205.3L196.9 204.4L200.3 205.4M203.1 222.4L202.4 218.9L202.1 215.4L204.3 212.0L203.6 208.4M203.6 208.4L200.3 205.4M204.5 223.9L203.1 222.4M205.4 196.0L202.8 198.7L203.1 202.9L200.3 205.4M215.2 224.4L215.1 224.6M215.6 208.0L211.6 209.0L207.6 208.8L203.6 208.4M253.3 229.3L250.7 231.6L247.3 232.0L244.4 233.6L241.5 235.3M248.1 219.8L244.7 218.6L241.3 219.6M241.3 219.6L237.8 222.6L236.1 226.9M236.1 226.9L236.3 231.8M236.3 231.8L241.5 235.3M265.2 220.6L262.5 222.6L259.8 224.6L258.2 227.7L255.6 229.9M255.6 229.9L253.3 229.3M254.3 212.5L251.7 214.5L250.7 217.8L248.1 219.8M237.7 210.7L239.1 213.6L239.5 216.9L241.3 219.6M226.7 219.9L230.0 222.0L232.5 225.2L236.1 226.9M228.3 236.0L232.8 235.0L236.3 231.8M244.4 244.4L242.6 239.9L241.5 235.3M306.8 245.6L303.8 243.6L300.3 242.3L297.7 239.8L294.9 237.5M306.8 245.6L304.4 247.9L301.9 250.1L299.8 252.9L296.7 254.4L294.1 256.5M294.1 256.5L291.2 255.7M291.2 255.7L291.0 251.6L288.4 248.3M288.4 248.3L290.3 244.5L293.0 241.2L294.9 237.5M218.2 379.3L216.8 382.5M612.3 354.5L614.6 357.5L616.7 360.8M602.8 366.2L607.3 365.9L611.8 366.6M611.8 366.6L613.4 362.9L616.7 360.8M286.5 276.5L292.3 276.9M294.1 256.5L297.0 260.0L299.7 263.7M281.1 262.7L284.2 259.9L288.4 258.9L291.2 255.7M283.9 274.2L283.4 270.2L281.1 266.7L281.1 262.7M292.3 276.9L294.7 273.9L296.4 270.5L298.2 267.2L299.7 263.7M607.9 317.9L604.6 319.0L601.2 317.9L597.9 318.6L594.5 317.5L591.2 319.2L587.9 317.9M606.9 339.0L604.2 339.5M604.2 339.5L601.9 337.1L598.6 336.1L596.6 333.3L593.7 331.5L590.8 330.0L588.4 327.6M268.4 377.4L270.8 380.7L273.3 383.8M273.3 383.8L272.2 387.1L269.8 389.7L269.2 393.2M268.4 377.4L271.2 374.4L272.7 370.4L275.3 367.2M266.3 361.3L270.5 363.2L274.6 365.4M274.6 365.4L275.3 367.2M266.9 315.1L262.8 314.2M266.9 315.1L269.0 319.4L272.1 323.0M262.8 314.2L261.3 317.1L261.3 320.7L259.7 323.6L257.5 326.2M272.1 323.0L271.3 327.3L269.1 331.1M269.1 331.1L264.9 330.4L261.2 332.3M261.2 332.3L258.4 329.8L257.5 326.2M278.4 307.8L278.3 304.4L277.8 301.1L278.1 297.8M278.4 307.8L275.5 309.5L273.0 312.0L270.4 314.2L266.9 315.1M262.8 314.2L260.2 311.1L257.6 308.1M257.6 308.1L258.4 303.7L259.7 299.5M279.6 295.6L278.1 297.8M279.5 294.6L279.6 295.6M265.4 280.2L261.9 281.7L260.1 285.0L257.2 287.1L254.6 289.5M259.7 299.5L259.0 295.6L257.0 292.5L254.6 289.5M245.8 273.0L248.3 275.8L249.9 279.1L250.0 283.2L253.4 285.6L254.0 289.4M239.8 289.1L243.1 289.5L245.6 291.7M245.6 291.7L249.6 289.5L254.0 289.4M264.0 273.2L260.8 272.0L257.6 271.0L254.8 269.1L252.0 267.1M265.9 278.4L264.0 273.2M254.6 289.5L254.0 289.4M206.1 416.4L210.3 416.0L213.4 413.3M206.1 416.4L202.4 415.4L199.7 412.3L196.1 411.0L192.1 410.7L189.0 408.3M153.2 367.9L152.9 371.8L153.2 375.7L152.2 379.5M152.2 379.5L154.7 381.6L156.6 384.6L159.2 386.7L162.4 388.1L165.5 389.6L167.5 392.3M111.4 371.9L114.2 374.2L115.7 377.5L118.3 379.9L120.5 382.7L123.8 384.4L126.5 386.7L128.0 390.1M152.2 379.5L150.0 382.3L147.0 384.3L143.9 386.1L142.3 389.5M128.0 390.1L131.6 391.0L135.1 389.1L138.7 389.6L142.3 389.5M78.6 377.9L77.5 381.3L79.6 384.8L77.5 388.2L79.1 391.6L79.6 395.1L78.2 398.5L79.2 401.9L79.3 405.4L78.1 408.8M-60.2 664.4L-59.4 661.0L-56.4 659.2L-54.7 656.4L-52.3 654.1L-51.5 650.8L-48.1 649.3L-47.7 645.6L-45.1 643.4L-42.8 641.2L-42.6 637.4L-39.1 635.8L-37.3 633.2L-36.0 630.2L-33.7 627.9L-31.5 625.4L-29.9 622.6L-29.6 618.9L-26.7 617.0L-25.8 613.7L-23.0 611.7L-21.5 608.8L-19.1 606.5L-17.4 603.8L-15.3 601.4L-13.9 598.4L-13.0 595.1L-11.2 592.4L-9.0 590.0L-6.9 587.6L-4.7 585.2L-2.4 582.8L-1.4 579.6L0.3 576.9L2.0 574.1L4.1 571.7L5.5 568.7L7.3 566.0L10.3 564.2L12.1 561.5L13.5 558.5L16.7 556.9L16.7 552.9L19.7 551.1L21.0 548.1L24.2 546.4L24.5 542.7L26.6 540.2L29.4 538.2L29.5 534.4L33.0 532.9L34.5 529.9L36.4 527.4L38.9 525.2L40.8 522.6L40.8 518.6L43.6 516.7L44.7 513.5L47.2 511.3L49.8 509.2L51.9 506.7L52.4 503.2L54.1 500.4L55.5 497.5L59.3 496.2L60.8 493.3L61.3 489.7L63.4 487.3L66.2 485.2L68.0 482.6L69.7 479.8L71.2 476.9L72.5 474.0L75.0 471.7L76.1 468.6L78.7 466.5L80.6 463.9M-32.6 645.3L-29.5 643.7L-28.8 640.0L-25.6 638.5L-23.2 636.3L-22.0 633.0L-20.4 630.2L-17.1 628.7L-15.8 625.5L-13.7 623.1L-10.5 621.7L-8.6 619.0L-7.7 615.5L-4.7 613.8L-2.4 611.5L-0.8 608.6L1.0 605.9L4.4 604.6L5.9 601.6L7.2 598.4L10.7 597.2L13.0 594.9L14.8 592.2L15.7 588.6L18.2 586.6L20.9 584.6L22.4 581.6L24.6 579.3L26.9 577.0L28.7 574.2L31.9 572.8L32.7 569.2L35.5 567.3L37.5 564.8L39.6 562.3L42.7 560.8L45.2 558.6L46.2 555.2L47.9 552.4L50.7 550.5L53.2 548.4L54.1 544.9L57.0 543.2L58.7 540.3L61.4 538.4L64.3 536.6L65.4 533.4L67.0 530.4L70.4 529.1L72.0 526.2L73.6 523.3L75.8 520.9L79.0 519.4L80.5 516.4L81.7 513.2L85.6 512.3L87.2 509.4L88.3 506.1L91.8 504.9L92.6 501.2L94.9 498.9L97.4 496.8L99.3 494.2L101.3 491.6L104.6 490.2L105.7 487.0L108.5 485.1L110.4 482.4L112.6 480.0M637.6 415.3L635.6 418.4L632.6 420.5L630.2 423.2M637.6 415.3L635.9 411.6L634.1 408.0M634.1 408.0L630.4 407.6L626.9 406.6M624.7 419.9L624.6 415.5L623.2 411.4M624.7 419.9L630.2 423.2M623.2 411.4L626.9 406.6M645.0 416.7L641.3 415.9L637.6 415.3M630.9 425.7L630.2 423.2M642.7 399.1L640.1 402.3L637.7 405.8L634.1 408.0M623.5 396.8L626.9 395.7L629.6 393.0L633.2 392.5M623.5 396.8L625.1 399.9L626.9 402.9L626.9 406.6M611.0 410.8L615.1 411.1L619.2 411.4L623.2 411.4M609.2 413.7L610.9 417.5L613.4 420.7L616.4 423.5M616.4 423.5L620.3 421.0L624.7 419.9M616.4 423.5L614.2 426.2L614.4 429.7M595.3 496.2L598.4 494.6L601.0 492.5L602.3 489.0L605.2 487.2L606.8 484.1L609.4 482.0L612.6 480.5L614.7 477.9L616.3 474.7L619.0 472.8L621.5 470.6L623.8 468.2L626.9 466.6L628.6 463.5L631.6 461.9L634.1 459.7M639.5 461.1L634.1 459.7M639.5 461.1L640.7 464.1L641.6 467.2L642.9 470.2L645.5 472.4L647.8 474.8L649.2 477.7L649.3 481.3L651.0 484.0L652.3 486.9L654.0 489.7L656.7 491.9L657.1 495.3L659.2 497.8L660.5 500.7L661.0 504.1L664.0 506.1L663.5 510.0L665.6 512.5L668.5 514.6L669.1 517.9L669.5 521.3L672.9 523.2L673.9 526.2L674.8 529.4L676.0 532.3L678.3 534.8L679.4 537.8L681.9 540.1L683.2 543.0L683.4 546.5L685.2 549.2L685.7 552.6L688.3 554.8L688.7 558.2L690.1 561.1L691.8 563.8L694.6 566.0L695.1 569.3L695.9 572.5L698.6 574.7L699.3 578.0L701.7 580.3L703.4 583.1L705.4 585.7L705.8 589.0L707.5 591.7L708.6 594.8L710.7 597.3L712.1 600.2L712.9 603.4L714.4 606.2L717.1 608.4L718.2 611.5L718.6 614.8L721.0 617.2L721.5 620.6L724.5 622.6L724.3 626.3L727.3 628.4L728.1 631.6L730.4 634.0L730.5 637.5L733.5 639.6L734.9 642.5L734.4 646.3L737.4 648.4L737.3 652.0L740.1 654.2L740.3 657.7L742.0 660.4L745.1 662.4L745.3 665.9L746.1 669.1L748.2 671.6L751.2 673.7L751.5 677.2L753.7 679.6L753.5 683.3L755.6 685.9L756.9 688.8L758.3 691.7L761.2 693.8L761.1 697.4L764.0 699.5L765.2 702.5L766.0 705.7L767.7 708.4L768.8 711.5L770.3 714.3L773.2 716.4L774.6 719.3L774.8 722.8L776.1 725.7L778.8 727.9L780.5 730.6L781.0 734.0L782.5 736.8L783.4 740.0L784.7 742.9L786.5 745.6L788.5 748.1L790.6 750.7L792.1 753.5L792.1 757.1L795.0 759.2L796.5 762.0L797.0 765.4L798.8 768.0L801.3 770.4L802.8 773.2L804.2 776.1L805.1 779.2L805.8 782.5L806.6 785.6L809.6 787.7L811.3 790.4L813.2 793.1L814.3 796.1L814.1 799.8L816.3 802.2L817.0 805.5L818.4 808.4L822.1 810.0L821.8 813.8L822.9 816.9L824.8 819.5L826.9 822.0L827.9 825.1L831.0 827.1L831.6 830.4L833.0 833.3L834.6 836.0L836.1 838.9L838.0 841.5L837.7 845.2L840.1 847.6L841.7 850.4L842.3 853.7L844.9 856.0L845.3 859.3L848.1 861.5L848.3 865.0L849.7 867.9L852.4 870.1L852.4 873.7L854.2 876.4L855.8 879.2L858.1 881.6L858.9 884.7L859.9 887.9L863.5 889.6L862.8 893.5L866.2 895.4L867.6 898.2L867.3 902.0L870.2 904.1L871.0 907.3L873.2 909.8L874.2 912.9L875.3 915.9L876.4 919.0L879.4 921.0L880.0 924.3L880.5 927.6L883.4 929.7L885.3 932.4L885.6 935.8L887.7 938.3L889.1 941.2L889.7 944.5L892.8 946.5L892.9 950.1L894.0 953.1L896.9 955.2L896.7 958.9L900.4 960.6L900.6 964.1L901.9 967.0L903.4 969.9L905.7 972.3L907.6 974.9L907.1 978.8L909.5 981.2L912.2 983.4L911.4 987.4L914.4 989.4L915.9 992.3L916.3 995.6L918.0 998.4L920.9 1000.5L921.0 1004.0L922.9 1006.6L924.2 1009.6L925.0 1012.8L926.6 1015.6L929.3 1017.8L930.9 1020.5L932.5 1023.3L933.4 1026.4L933.8 1029.8L935.0 1032.8L937.6 1035.1L939.5 1037.7L940.3 1040.9L941.9 1043.7L943.5 1046.4L945.3 1049.1L946.1 1052.3L948.7 1054.6L950.2 1057.4L950.2 1061.0L951.7 1063.9L954.1 1066.2L955.6 1069.1L956.5 1072.2L958.9 1074.6L958.9 1078.2L961.3 1080.5L962.1 1083.7L965.0 1085.8L966.5 1088.7L966.7 1092.1L969.2 1094.5L969.5 1097.9L972.1 1100.2L972.0 1103.8L975.2 1105.8L975.7 1109.1L977.6 1111.7L978.4 1114.9L980.1 1117.7L981.1 1120.8L982.4 1123.7L984.1 1126.4L985.4 1129.4L987.8 1131.7L989.0 1134.7L990.9 1137.3L992.7 1140.0L994.3 1142.7L996.0 1145.5L997.0 1148.6L997.5 1151.9L999.6 1154.4M630.5 451.0L631.4 455.7L634.1 459.7M644.6 453.8L641.4 457.0L639.5 461.1M607.9 431.8L607.5 431.6M607.5 431.6L605.3 428.1L604.5 423.9L602.2 420.4M673.5 313.1L675.5 310.5L677.6 308.1L680.3 306.1L681.3 302.7L684.7 301.3L686.1 298.2M673.5 313.1L674.0 314.0M674.0 314.0L677.0 316.0L680.4 316.1L684.0 315.5L687.1 317.2L690.3 317.9L693.6 318.8M693.5 298.1L694.2 301.5L695.2 304.9L696.6 308.0L698.9 310.8M693.5 298.1L689.8 298.4L686.1 298.2M698.9 310.8L696.3 314.9L693.6 318.8M670.8 311.9L673.5 313.1M676.3 285.8L679.7 288.2L681.1 292.1L683.2 295.4L686.1 298.2M673.6 327.9L672.7 324.4L673.4 320.9L673.3 317.4L674.0 314.0M708.1 310.8L703.5 309.5L698.9 310.8M703.1 287.0L701.3 290.3L698.6 292.8L696.6 296.0L693.5 298.1M682.9 338.2L685.4 340.4L689.0 340.8L691.1 343.6M691.1 343.6L694.1 341.9L695.4 338.7L697.1 335.8L699.9 334.0M699.9 334.0L698.1 328.3M698.1 328.3L695.6 326.2M676.3 346.9L678.4 343.9L680.8 341.2L682.9 338.2M692.3 349.4L691.1 343.6M693.6 318.8L693.4 322.8L695.6 326.2M723.4 353.8L721.0 351.3L718.1 349.5L715.8 347.0L712.8 345.1L710.5 342.6L707.3 341.1L704.3 339.3L701.7 337.1L699.9 334.0M715.8 322.0L711.8 322.1L708.4 323.6L705.1 325.5L701.5 326.6L698.1 328.3M194.5 163.6L197.4 161.4L201.1 161.5L204.3 160.2L207.3 158.6L210.7 157.8M195.4 166.3L198.9 168.4L201.7 171.5L205.8 172.6M211.2 158.2L210.7 157.8M211.2 158.2L211.7 162.2L212.8 166.1M212.8 166.1L211.2 169.1L207.8 170.1L205.8 172.6M213.1 184.8L213.9 181.2M197.2 185.8L198.3 182.1L202.3 180.5L204.0 177.3L205.8 174.2M213.9 181.2L211.8 178.2L208.9 176.1L205.8 174.2M205.8 172.6L205.8 174.2M210.7 157.8L210.2 156.5M193.6 155.3L197.9 153.4L201.5 150.6M201.5 150.6L204.2 152.8L207.2 154.7L210.2 156.5M224.2 154.5L224.4 153.9M211.2 158.2L214.3 156.8L217.4 155.3L220.8 155.2L224.2 154.5M220.4 144.7L216.5 146.4L212.4 147.2M210.2 156.5L211.4 151.8L212.4 147.2M213.6 135.1L209.3 136.6L205.6 139.3M212.4 147.2L211.0 143.8L207.6 142.2L205.6 139.3M192.0 153.5L192.9 149.2L191.8 144.9M185.5 142.3L188.6 143.7L191.8 144.9M212.8 166.1L215.6 168.6L219.5 168.9L222.4 171.1M224.2 154.5L225.4 158.9L228.0 162.6M222.4 171.1L224.3 168.3L226.8 165.9L228.0 162.6M258.8 157.2L255.5 159.5L252.2 161.7L248.3 162.8M228.0 162.6L231.4 163.1L234.8 163.4L238.2 161.9L241.6 161.7L244.9 162.5L248.3 162.8M255.6 229.9L257.8 233.2L259.1 236.9M247.6 246.6L252.4 246.0L256.9 244.5M256.9 244.5L257.3 240.5L259.1 236.9M271.3 224.8L273.2 228.0L272.1 231.9L273.4 235.3M259.1 236.9L262.7 236.5L266.4 237.2L269.9 235.8L273.4 235.3M294.9 237.5L293.7 233.7L292.4 230.0M275.9 243.7L275.7 237.5M292.7 229.0L292.4 230.0M273.4 235.3L275.7 237.5M511.8 707.1L509.8 704.5L507.9 701.8L506.7 698.7L504.4 696.4L502.6 693.7L500.9 690.9L498.5 688.6L496.6 686.0L494.2 683.7L493.6 680.2L490.7 678.2L489.9 674.8L487.2 672.8L485.9 669.7L482.5 668.1L482.3 664.3L479.0 662.7L478.5 659.0L476.0 656.8L474.4 654.0L471.7 651.9L470.8 648.5L467.5 647.0L466.5 643.6L465.2 640.6L462.3 638.7L459.4 636.7L457.8 633.9L457.1 630.4L455.4 627.6L452.6 625.6L450.1 623.4L449.2 620.1L446.9 617.7L445.9 614.4L443.8 612.0L441.0 610.0L440.3 606.4L438.2 604.0L436.1 601.5L433.0 599.7L432.2 596.3L430.5 593.5L428.2 591.2L426.5 588.4L424.9 585.6L421.7 583.8L421.5 580.0L419.1 577.7L417.7 574.8L414.0 573.4L413.1 570.0L411.0 567.6M351.9 516.3L350.0 519.4L346.9 521.2L343.8 523.0L341.5 525.7M185.6 617.1L182.5 618.1L179.5 619.3L176.5 620.4L173.5 621.6L170.9 623.9L167.9 624.9L164.5 625.2L161.3 625.7L158.7 627.9L155.9 629.8L152.8 630.7L149.2 630.2L146.4 632.0L143.6 633.6L140.3 634.0L137.7 636.3L134.8 637.6L131.6 638.2L128.6 639.4L125.7 640.9L122.7 642.1L119.9 643.7L116.6 644.1L113.6 645.4L110.8 647.0L107.7 648.0L104.6 648.9L101.2 649.0L97.9 649.5L95.0 650.9L92.4 653.2L89.4 654.1L86.2 654.8L82.9 655.4L80.6 658.4L77.5 659.2L74.7 660.8L70.9 659.9L67.9 661.1L65.3 663.4L62.6 665.2L59.6 666.5L56.7 667.9L53.6 668.8L50.6 670.0L47.4 670.6L44.5 672.0L41.2 672.4L38.2 673.5L34.8 673.9L31.9 675.1L29.1 676.8L26.6 679.3L23.5 680.4L20.3 681.0L17.6 682.9L14.1 682.7L11.4 684.6L8.1 685.1L4.9 685.7L2.6 688.7L-0.5 689.7L-4.3 688.8L-6.7 691.6L-9.6 693.0L-12.9 693.2L-15.4 695.8L-18.7 696.3L-21.4 698.1L-24.7 698.6L-27.9 699.3L-30.5 701.3L-33.5 702.5L-36.8 703.1L-39.6 704.6L-43.0 704.9L-46.2 705.5L-49.4 706.3L-52.2 707.9L-54.6 710.6L-58.1 710.5L-61.0 711.9L-64.0 713.1L-67.4 713.2L-70.2 715.0L-73.4 715.5L-76.1 717.5L-79.4 717.9L-82.4 719.0L-85.5 720.0L-87.8 723.0L-91.3 722.9L-93.8 725.3L-96.9 726.1L-99.9 727.4L-102.9 728.6L-106.0 729.4L-109.0 730.5L-112.3 731.1L-115.2 732.4L-118.0 734.1L-120.9 735.7L-123.9 736.8L-126.9 738.0L-130.1 738.6L-133.2 739.5L-135.9 741.6L-139.3 741.5L-142.2 742.9L-145.6 743.3L-147.9 746.3L-151.3 746.3L-153.8 748.8L-156.8 750.0L-160.5 749.4L-163.0 751.8L-166.2 752.3L-169.4 753.2L-172.1 755.1L-175.1 756.2L-178.3 756.8L-181.6 757.3L-184.2 759.4M391.5 726.5L388.0 726.5L384.9 725.2L381.8 724.0L378.2 724.5L374.9 723.9L371.8 722.7L368.7 721.4L365.5 720.1L362.1 720.2L358.7 719.9L355.5 718.8L352.4 717.7L349.2 716.7L346.1 715.2L342.5 715.8L339.0 716.2L336.3 713.0L332.6 714.4L329.6 712.3L326.2 712.2L323.0 711.3M469.3 723.1L466.0 723.1L463.1 721.1L459.6 722.2L456.9 719.2L453.3 720.3L450.1 720.0L447.1 718.7L443.8 718.3L440.7 717.5L437.7 715.9L434.5 715.5L431.5 713.9L428.3 713.4L424.7 714.9L421.7 713.4L418.9 711.3L415.3 712.4L412.1 712.1L409.3 709.5L406.0 709.5L402.8 709.0L399.8 707.6L396.4 708.3L393.4 706.5L390.3 705.7L386.8 706.4L383.6 706.3L380.4 705.7L377.2 705.1L374.2 703.5L371.3 701.5L367.7 702.9L364.5 702.4L361.5 701.1L358.5 699.7L355.3 699.2L351.9 699.8L349.1 697.3L345.9 696.6L342.6 696.7L339.5 695.5L336.0 696.5L333.1 694.6L329.8 694.8L326.7 693.5M198.2 435.0L201.6 435.0L205.0 435.9L208.6 435.3L211.9 436.1L215.3 437.1M218.0 414.6L218.6 417.9L220.8 420.4L222.0 423.3M222.0 423.3L219.3 426.3L218.4 430.1L216.7 433.5L215.3 437.1M229.8 405.7L231.7 408.8L234.4 411.0L237.4 412.7L240.4 414.4M240.4 414.4L238.8 418.0L238.0 421.8L238.5 425.8L237.6 429.5M222.0 423.3L225.4 423.9L228.5 425.1L231.7 426.1L234.7 427.6L237.6 429.5M634.2 386.1L631.5 383.8L630.6 380.1L627.8 377.9M635.1 372.2L630.8 374.2L627.8 377.9M635.1 372.2L635.7 368.6L634.2 365.3L633.7 361.9M627.5 346.6L626.2 350.6L626.7 355.0L625.4 359.1M633.7 361.9L629.6 360.4L625.4 359.1M614.3 342.2L612.8 346.1L613.0 350.4L612.3 354.5M616.7 360.8L621.8 361.0M625.4 359.1L621.8 361.0M292.3 276.9L296.9 280.5M296.9 280.5L300.5 279.9L304.2 279.6L307.8 278.9L311.0 276.7M299.7 263.7L303.9 264.0L308.0 265.7L312.4 264.7M312.4 264.7L313.5 268.2L314.9 271.6M595.8 371.1L594.8 367.9L591.5 366.1L591.7 362.2L589.2 359.9M597.8 370.9L595.8 371.1M602.8 366.2L601.0 369.3L597.8 370.9M588.4 327.6L587.1 330.9L586.8 334.3L589.0 337.9L588.5 341.3L587.2 344.7M604.2 339.5L601.6 342.0L600.3 345.4L598.2 348.3M587.2 344.7L590.5 346.9L594.8 346.1L598.2 348.3M278.2 397.2L274.3 397.8L270.4 396.8M278.2 397.2L280.4 393.4L283.7 390.5M273.3 383.8L276.8 382.5L280.3 383.7M270.4 396.8L269.2 393.2M280.3 383.7L281.1 387.5L283.7 390.5M275.3 367.2L277.9 369.4L281.4 369.9L283.9 372.2L287.0 373.5M280.3 383.7L283.0 380.6L284.8 376.9L287.0 373.5M249.5 411.3L252.4 413.3L255.3 415.2L256.9 418.5M249.5 411.3L250.7 407.7L250.8 403.8M254.6 400.9L258.5 402.4L262.8 401.4L266.6 403.1M256.9 418.5L260.3 418.7L263.2 416.4L266.5 416.2L269.7 415.7M269.7 415.7L268.6 412.7L268.5 409.3L268.5 406.0L266.6 403.1M239.3 396.9L242.3 398.5L245.6 399.5L247.9 402.2L250.8 403.8M240.4 414.4L243.6 413.7L246.7 413.0L249.5 411.3M270.4 396.8L268.8 400.2L266.6 403.1M295.3 311.4L295.3 314.9L296.2 318.2L297.0 321.4L299.2 324.2M295.3 311.4L291.4 311.4L287.5 311.7L283.8 313.3M283.8 313.3L283.7 317.9L282.3 322.3M296.9 326.5L299.2 324.2M296.9 326.5L293.8 324.8L290.3 324.7L287.1 323.6L283.6 324.2M282.3 322.3L283.6 324.2M278.4 307.8L280.6 311.0L283.8 313.3M272.1 323.0L275.4 321.6L278.9 322.8L282.3 322.3M270.4 347.0L274.3 346.7L277.8 344.8M282.4 352.5L279.9 348.8L277.8 344.8M257.5 340.6L258.4 336.1L261.2 332.3M269.1 331.1L271.4 333.5L274.6 334.9L276.6 337.6L279.2 339.8M277.8 344.8L279.2 339.8M283.6 324.2L283.7 328.0L282.0 331.5L280.4 335.0L280.4 338.8M296.9 326.5L295.7 330.0L294.4 333.5L295.1 337.3M295.1 337.3L291.4 336.9L287.7 337.9L284.0 337.7L280.4 338.8M280.4 338.8L279.2 339.8M295.1 337.3L296.8 340.0L299.2 342.3M293.9 355.8L295.4 352.5L297.4 349.3L298.2 345.8L299.2 342.3M313.6 334.2L312.2 338.7L308.8 341.9M313.6 334.2L311.9 330.0L311.2 325.6M309.5 324.4L306.1 323.3L302.7 323.1L299.2 324.2M311.2 325.6L309.5 324.4M308.8 341.9L305.6 341.9L302.3 341.2L299.2 342.3M257.5 326.2L254.3 324.5L250.7 326.4L247.5 324.7M257.6 308.1L254.8 310.3L251.1 309.6L248.1 311.0M248.1 311.0L249.0 314.5L247.9 317.9L247.6 321.3L247.5 324.7M241.5 329.4L244.2 326.6L247.5 324.7M142.3 389.5L143.9 393.0L142.7 397.0L143.4 400.7L145.4 404.0L147.1 407.5L146.7 411.3M167.5 392.3L166.2 396.5L167.7 400.9L166.7 405.1M146.7 411.3L150.3 411.1L153.6 409.8L156.8 408.4L160.2 407.9L163.2 405.6L166.7 405.1M579.1 457.6L575.4 457.4L572.4 459.7L568.9 460.1L565.3 460.3L562.4 462.9L558.9 463.1L555.4 463.7L552.2 465.3L548.7 465.5L545.2 466.2M545.2 466.2L544.6 469.5L543.6 472.8L545.7 476.3L545.3 479.7L543.0 482.8L543.7 486.3L544.4 489.7L543.9 493.0L542.9 496.3L542.8 499.6L543.5 503.0L540.9 506.2L542.7 509.7L542.5 513.0L540.7 516.3L542.1 519.7L539.7 522.9L540.5 526.3M583.3 375.3L581.8 376.7M591.1 375.4L587.2 376.1L583.3 375.3M597.0 393.9L596.6 390.6L594.1 388.0L594.9 384.4L594.1 381.3L591.5 378.7L591.1 375.4M581.4 402.5L581.8 399.3L580.5 396.1L580.5 392.8L582.2 389.6L581.2 386.4L582.2 383.2L583.0 380.0L581.8 376.7M203.9 139.1L201.6 140.3M203.9 139.1L204.5 135.6L203.6 132.2L203.5 128.8L202.9 125.3M201.6 140.3L199.7 140.1M199.7 140.1L197.4 136.4L193.0 135.1L190.5 131.7M190.5 131.7L191.8 128.1L194.6 125.6M194.6 125.6L197.8 124.5L201.2 124.3M202.9 125.3L201.2 124.3M201.5 150.6L202.5 147.1L201.9 143.7L201.6 140.3M205.6 139.3L203.9 139.1M215.2 123.4L210.9 122.7L207.0 124.4L202.9 125.3M191.8 144.9L195.3 141.8L199.7 140.1M185.9 132.8L190.5 131.7M187.4 115.9L189.9 119.1L192.1 122.4L194.6 125.6M221.0 176.3L222.5 171.2M221.0 176.3L222.6 180.8L225.8 184.2M222.5 171.2L225.7 173.8L229.3 175.2L233.3 175.8L237.1 176.8M225.8 184.2L229.3 185.6L232.9 185.2L236.5 185.0M236.5 185.0L236.5 180.9L237.1 176.8M213.9 181.2L217.9 179.4L221.0 176.3M222.4 171.1L222.5 171.2M220.0 192.2L222.5 189.9L223.6 186.7L225.8 184.2M248.3 162.8L245.1 164.8L244.2 168.7L242.4 171.8L238.5 173.4L237.1 176.8M238.1 187.9L236.5 185.0M262.6 255.7L265.5 259.5L269.7 261.8M262.6 255.7L262.4 249.7M262.4 249.7L266.2 249.4L269.1 247.2L272.4 246.0L275.6 244.3M275.6 244.3L275.1 247.6L277.1 250.7L277.0 254.0L277.5 257.2L276.6 260.6M269.7 261.8L273.2 261.4L276.6 260.6M251.9 262.3L255.3 259.7L259.3 258.3L262.6 255.7M264.0 273.2L265.4 269.1L267.4 265.4L269.7 261.8M256.9 244.5L260.5 246.2L262.4 249.7M275.9 243.7L275.6 244.3M281.1 262.7L276.6 260.6M346.2 553.2L342.1 552.6L338.2 551.5L334.8 548.9M334.8 548.9L334.7 545.4L331.9 542.8L331.7 539.4M341.5 525.7L338.8 526.1M338.8 526.1L336.2 528.9L335.5 532.8L333.5 536.1L331.7 539.4M246.4 473.4L242.6 474.7L238.8 474.7L235.0 475.7L231.0 475.0M256.9 418.5L254.9 421.3L255.3 425.0L254.0 428.1L251.9 430.9M237.6 429.5L237.8 429.9M251.9 430.9L248.4 430.9L244.8 431.4L241.4 430.0L237.8 429.9M215.3 437.1L217.9 440.0L219.0 443.9L221.3 447.0L224.0 449.9M224.0 449.9L226.3 451.0M627.1 377.8L625.1 376.3M627.1 377.8L624.9 380.9L623.2 384.3L621.5 387.7L619.6 391.0L616.6 393.5M625.1 376.3L621.1 376.2L617.1 375.0L613.1 375.8M613.1 375.8L611.4 379.7L608.2 382.3M608.2 382.3L608.9 385.8L607.8 389.0L607.1 392.3M627.8 377.9L627.1 377.8M621.8 361.0L622.0 364.9L623.7 368.6L624.1 372.5L625.1 376.3M623.5 396.8L620.6 394.0L616.6 393.5M597.8 370.9L599.9 374.2L602.3 377.2L605.3 379.7L608.2 382.3M591.1 375.4L595.8 371.1M611.0 410.8L609.9 407.4L609.8 403.9L610.5 400.4L610.3 396.9L609.1 393.5M584.1 402.0L587.3 403.5L589.2 406.7L593.0 407.3L595.1 410.3L598.5 411.5L600.7 414.3L603.6 416.2M309.7 306.8L306.1 307.0L302.6 306.0L299.3 304.8M309.7 306.8L312.0 303.8L314.6 300.9L315.8 297.3L317.3 293.8M317.3 293.8L312.7 290.2M312.7 290.2L309.3 291.3L305.6 290.4L302.2 290.9L298.8 292.2M299.3 304.8L298.7 300.7L296.1 297.5M296.1 297.5L298.8 292.2M295.3 311.4L298.0 308.5L299.3 304.8M310.8 308.2L311.0 311.5L309.7 314.6L309.0 317.8L309.3 321.1L309.5 324.4M310.8 308.2L309.7 306.8M296.9 280.5L298.6 284.2L298.9 288.2L298.8 292.2M311.0 276.7L310.9 280.2L312.7 283.4L312.5 286.8L312.7 290.2M279.6 295.6L282.8 297.3L286.1 297.2L289.6 295.5L292.7 298.0L296.1 297.5M606.3 646.2L604.6 643.4L602.9 640.6L599.4 639.4L598.4 635.8L595.4 634.2L592.6 632.4L590.6 629.8L588.9 627.0L587.3 624.0L583.5 623.1L582.2 619.8L578.9 618.5L578.6 614.4L575.1 613.1L573.5 610.2L570.9 608.2L569.3 605.3L566.9 603.0L564.4 600.9L562.7 598.1L559.9 596.3L558.5 593.1L554.9 591.9L553.0 589.3L551.3 586.4L549.6 583.6L546.0 582.5L544.2 579.7L542.1 577.2L540.3 574.5L538.0 572.2L535.5 570.1L532.4 568.5L531.1 565.3L528.8 563.0L526.2 561.0L524.8 557.8L521.5 556.4L519.5 553.8L518.0 550.8L515.5 548.7L512.8 546.8L511.7 543.3L508.4 542.0L507.2 538.7L505.1 536.2L502.4 534.2L500.7 531.4L497.8 529.7L495.2 527.6L493.5 524.8L492.2 521.6L489.9 519.3L487.8 516.8L483.9 515.9L482.7 512.6L480.3 510.4L477.8 508.3L476.8 504.8L473.7 503.2M589.2 359.9L589.2 359.9M587.2 344.7L582.7 348.6M589.2 359.9L587.5 357.1L586.4 354.0L583.4 352.0L582.7 348.6M583.3 375.3L583.0 371.7L581.9 368.3L580.8 365.0M589.2 359.9L586.3 361.4L583.0 362.3L580.8 365.0M287.0 373.5L287.9 373.4M292.1 391.7L295.9 388.9M295.9 388.9L294.5 386.0L294.3 382.5L291.3 380.4L290.2 377.3L289.3 374.2M283.7 390.5L287.7 392.2L292.1 391.7M289.3 374.2L287.9 373.4M307.4 375.1L307.1 379.1L304.6 382.2L303.1 385.7L301.5 389.2M295.9 388.9L301.5 389.2M289.3 374.2L292.7 374.5L296.2 374.2L299.6 374.5L303.1 373.8L306.5 373.1M287.9 373.4L289.9 370.2L290.2 366.5L292.7 363.6L293.4 359.9L294.3 356.4M321.5 362.9L322.5 361.3M321.5 362.9L318.1 362.9L314.9 363.9L311.5 363.6L308.2 364.3M322.5 361.3L321.1 357.5L320.1 353.7L319.4 349.8M306.1 361.3L307.1 357.7L308.5 354.3L311.7 351.7L312.3 348.0M319.4 349.8L315.9 348.5L312.3 348.0M294.3 356.4L296.8 358.7L299.8 359.8L303.5 359.2L306.1 361.3M308.8 341.9L310.5 344.9L312.3 348.0M327.2 344.2L324.3 345.6L321.4 347.0L319.4 349.8M328.3 337.3L327.4 340.7L327.2 344.2M328.3 337.3L324.6 336.4L321.1 334.7L317.3 334.5L313.6 334.2M269.7 415.7L272.9 417.6M278.2 397.2L280.8 400.2L283.3 403.3L285.5 406.7M285.5 406.7L283.4 409.4L280.0 410.5L277.5 412.7L275.0 415.0L272.9 417.6M292.1 391.7L292.3 395.4L291.8 399.1L290.5 402.7L290.6 406.4M304.8 406.6L305.1 402.7L308.1 399.8L308.5 396.0M301.5 389.2L303.9 391.3L306.7 393.2L308.5 396.0M241.0 302.9L242.3 306.6L244.7 309.7M241.0 302.9L237.7 302.6L234.5 302.5L231.1 302.9L228.1 301.1L224.8 300.8M224.8 300.8L223.7 304.1L225.4 307.6L225.0 310.9L224.4 314.2L224.0 317.6M224.0 317.6L229.5 318.8M245.6 291.7L243.8 295.3L243.4 299.5L241.0 302.9M248.1 311.0L244.7 309.7M222.6 296.0L224.8 300.8M218.0 321.9L220.5 319.1L224.0 317.6M182.5 413.7L178.7 413.9L175.0 414.1M182.5 413.7L184.8 416.5L186.2 419.8L186.0 423.9L188.6 426.6L188.9 430.3L191.6 433.0M166.7 405.1L168.6 408.9L171.8 411.4L175.0 414.1M208.0 471.9L206.8 468.5L205.6 465.1L203.1 462.2L203.5 458.1L200.9 455.3M187.0 458.1L190.1 455.7L194.0 455.1L197.2 453.2M197.2 453.2L200.9 455.3M231.0 475.0L228.7 471.5L226.3 468.1L223.9 464.7M223.9 464.7L220.8 466.4L217.9 468.4L214.3 469.0L211.4 470.9L208.0 471.9M224.0 449.9L220.4 449.4L217.6 452.3L214.3 453.1L210.6 452.2L207.6 454.0L204.3 454.9L200.9 455.3M226.3 451.0L226.8 454.7L225.2 457.9L225.0 461.4L223.9 464.7M516.9 463.9L518.9 466.7L519.3 470.4L522.0 472.9L522.7 476.3L525.2 478.9L525.7 482.5M525.7 482.5L527.3 479.5L528.8 476.6L528.9 473.1L529.9 469.9L531.8 467.2L533.0 464.1L534.6 461.2M545.2 466.2L541.6 463.4L538.3 460.2M538.3 460.2L534.6 461.2M538.3 460.2L540.5 456.8L541.1 452.7M541.1 452.7L544.3 451.2L548.1 452.1L551.2 449.8L554.8 450.3L558.2 449.6L561.6 448.9L564.8 446.8L568.5 447.9L571.9 447.1L575.2 445.6M607.5 431.6L604.0 432.0L601.0 433.9L597.8 435.4L594.4 436.1L591.3 437.7L587.8 438.1L584.3 438.6L581.9 442.1L578.5 442.9L575.0 443.3M602.2 420.4L598.5 420.8L596.1 423.8L593.2 426.0L589.5 426.3L586.9 429.0L583.7 430.4L580.6 432.1L577.3 433.2L573.8 434.0M574.5 442.0L571.3 441.8L568.0 442.1L564.7 442.0L561.5 441.1L558.4 439.9L555.2 438.9L551.9 439.1L548.7 438.6L545.4 438.9L542.0 439.4L538.9 437.9M211.7 681.0L208.5 681.7L206.2 684.4L202.8 684.7L199.9 686.2L196.8 686.8L193.4 686.9L191.0 689.6L188.0 690.7L185.1 692.3L182.1 693.2L178.9 693.9L175.7 694.6L172.7 695.6L170.0 697.5L167.4 699.5L164.4 700.7L161.4 701.8L158.3 702.7L155.2 703.6L151.6 703.2L148.9 705.1L146.5 707.8L142.7 706.7L140.0 708.7L136.6 708.9L134.4 711.9L131.5 713.2L128.0 713.2L124.8 713.9L122.2 715.8L119.6 718.1L116.1 718.0L113.6 720.3L110.5 721.1L107.1 721.2L104.6 723.7L101.4 724.3L98.7 726.1L95.1 725.8L92.6 728.0L89.0 727.8L86.9 731.0L83.0 729.9L80.3 731.9L77.1 732.4L74.5 734.6L71.2 735.1L68.5 736.8L65.7 738.6L62.6 739.2L60.0 741.5L56.8 742.0L53.5 742.5L50.3 742.9L47.8 745.4L44.4 745.6L41.9 747.8L38.6 748.3L35.6 749.3L33.0 751.6L29.5 751.4L27.1 754.0L23.5 753.6L20.7 755.3L17.4 755.5L14.8 757.6L12.0 759.3L8.5 759.1L6.0 761.7L3.4 763.6L-0.0 763.7L-3.3 764.3L-6.2 765.6L-8.8 767.6L-11.6 769.3L-14.7 770.3L-18.2 770.1L-20.5 773.0L-23.8 773.3L-27.0 773.8L-29.6 776.0L-33.0 776.2L-35.9 777.4L-39.2 777.8L-42.3 778.8L-44.8 781.2L-47.3 783.4L-50.6 783.8L-54.1 783.6L-57.1 785.0L-59.9 786.5L-62.8 787.9L-65.6 789.5L-69.1 789.4L-71.6 791.8L-74.3 793.5L-77.9 793.3L-80.5 795.3L-83.2 797.3L-86.7 797.1L-89.6 798.4L-92.6 799.5L-95.1 802.0L-98.7 801.5L-101.3 803.7L-104.2 805.0L-107.8 804.7L-110.1 807.7L-113.0 809.0L-116.7 808.3L-119.5 809.8L-122.1 812.1L-125.4 812.3L-128.0 814.7L-131.0 815.6L-134.3 815.9L-136.8 818.4L-139.8 819.6L-143.7 818.4L-146.5 819.9L-148.8 822.9L-152.0 823.4L-155.6 823.1L-157.7 826.5L-161.0 826.8L-164.0 827.9L-167.2 828.6L-170.4 829.2L-173.0 831.3L-176.0 832.4L-179.3 832.7L-182.0 834.6L-184.6 836.9L-187.8 837.3L-191.3 837.4L-193.9 839.4L-197.4 839.4L-199.6 842.5L-202.6 843.5L-205.4 845.2L-208.4 846.2L-211.4 847.4L-215.1 846.7L-217.8 848.8L-220.6 850.3L-223.7 851.0L-227.2 851.1L-229.8 853.2L-232.6 854.8L-235.6 855.8L-238.8 856.4L-241.2 859.1L-244.3 860.0L-248.0 859.4L-250.4 862.1L-253.2 863.6L-256.6 863.6L-259.1 866.1L-262.0 867.4L-265.8 866.7L-268.0 869.6L-271.2 870.2L-274.4 870.9L-277.4 871.9L-280.2 873.6L-283.8 873.3L-285.9 876.7L-289.4 876.6L-292.0 878.6L-295.6 878.4L-298.2 880.3L-300.9 882.2L-304.6 881.7L-306.9 884.6L-310.5 884.1L-312.9 886.8L-316.1 887.4L-318.9 889.0L-322.0 890.0L-324.7 891.6L-327.7 893.0L-330.7 894.1L-334.5 893.2L-336.9 895.8L-339.6 897.6L-342.9 897.9L-346.2 898.4L-348.8 900.5L-352.0 901.0L-354.5 903.5L-358.4 902.3L-360.5 905.7L-364.1 905.4L-366.8 907.1L-370.2 907.2L-372.4 910.3L-375.7 910.9L-379.0 911.2L-381.4 913.8L-384.5 914.7L-387.4 915.9L-390.9 915.8L-394.2 916.3L-396.3 919.8L-399.4 920.6L-402.8 920.6L-405.6 922.4L-408.7 923.0L-411.9 923.8L-414.8 925.2L-417.9 926.0L-420.7 927.5L-423.5 929.3L-426.1 931.5L-429.4 931.8L-432.6 932.4L-435.3 934.1L-438.0 936.0L-441.7 935.5L-444.8 936.4L-447.7 937.7L-450.8 938.6L-453.2 941.2L-456.8 940.8L-459.7 942.1L-461.9 945.4L-465.6 944.7L-468.0 947.2L-471.1 948.1L-474.7 947.8L-477.1 950.5L-480.6 950.3L-483.6 951.3L-486.0 954.0L-489.0 955.1L-491.9 956.4L-495.5 956.2L-497.8 959.1L-501.5 958.2L-504.5 959.4L-506.8 962.3L-510.2 962.6L-513.0 964.1M306.8 245.6L310.4 245.6M312.4 264.7L313.0 263.0M313.0 263.0L313.6 259.4L312.7 256.0L312.5 252.5L311.7 249.0L310.4 245.6M311.1 222.4L312.9 225.8L316.2 228.1L318.2 231.4M318.2 231.4L315.9 234.9L316.1 239.4L313.8 242.8M310.4 245.6L313.8 242.8M363.8 272.4L360.5 271.9L357.5 270.6L355.1 267.8L352.0 266.9L348.8 266.0L345.7 264.9L342.6 263.8L339.4 263.2M331.4 270.2L334.5 272.7L336.9 275.6L338.0 279.7L340.9 282.3M331.4 270.2L333.5 265.9M339.4 263.2L336.4 264.5L333.5 265.9M313.0 263.0L316.1 260.7L319.4 258.8L323.1 257.7L326.7 256.5M333.5 265.9L331.6 262.5L329.2 259.5L326.7 256.5M313.8 242.8L316.1 245.3L318.9 247.0L321.5 249.1L324.8 250.1L327.8 251.6M326.7 256.5L327.8 251.6M332.1 230.8L333.5 234.5L334.6 238.3L337.7 241.2L338.1 245.3M332.1 230.8L333.6 227.8L335.3 225.0L337.8 222.8L340.9 221.2L342.5 218.3L344.8 216.0L347.5 213.9L349.6 211.5L350.6 208.1L353.9 206.6L354.3 202.6L357.6 201.2L359.2 198.3M403.8 180.3L402.1 183.2L399.6 185.4L397.4 187.8L395.0 190.1L393.5 193.2L390.8 195.2L388.9 197.9L387.1 200.7L383.9 202.3L382.6 205.5L379.0 206.7L378.2 210.4L375.3 212.3L373.2 214.8L370.2 216.5L368.2 219.2L365.8 221.5L364.8 225.0L362.7 227.5L359.8 229.4L358.4 232.5L355.2 234.1L354.4 237.8L351.6 239.7L349.6 242.3L347.1 244.6L344.7 246.8M338.1 245.3L341.1 246.9M344.7 246.8L341.1 246.9M327.8 251.6L331.5 250.0L334.3 246.8L338.1 245.3M318.2 231.4L321.7 231.0L325.2 231.5L328.7 231.7L332.1 230.8M339.4 263.2L340.4 260.0L339.1 256.6L339.6 253.3L340.8 250.2L341.1 246.9M344.7 246.8L347.1 249.4L349.5 252.0L353.5 252.5L356.2 254.7L359.3 256.3L361.2 259.5L363.5 262.3L367.1 263.2L369.3 266.2L371.9 268.4L375.2 269.8M328.6 337.0L328.3 337.3M311.2 325.6L314.5 324.4L317.2 322.0L321.1 322.2L324.0 320.2M328.6 337.0L329.5 333.3L328.4 329.4L329.4 325.7L329.0 321.8M324.0 320.2L329.0 321.8M310.8 308.2L313.7 310.1L317.3 309.5L320.4 310.6M324.0 320.2L324.0 316.6L321.1 314.0L320.4 310.6M334.9 318.7L332.1 320.6L329.0 321.8M336.6 337.0L337.9 333.9L340.3 331.7L343.0 329.7M328.6 337.0L332.6 336.4L336.6 337.0M334.9 318.7L337.1 319.2M343.0 329.7L341.8 325.8L338.9 322.8L337.1 319.2M402.3 410.6L404.9 411.0M572.8 338.6L568.9 335.7M588.2 327.0L585.7 329.1L583.6 331.6L581.2 333.7L578.1 335.0L574.7 335.9L572.8 338.6M568.9 335.7L567.7 332.2L566.9 328.7L568.4 324.9L566.6 321.5L568.3 317.7L567.5 314.2L566.5 310.7M522.2 82.2L523.6 85.3L522.3 88.7L524.2 91.8L523.0 95.1L523.0 98.4L524.1 101.5L523.9 104.8L523.9 108.0L525.4 111.2L525.2 114.4L524.5 117.7L525.2 120.9L524.4 124.2L526.4 127.3L525.6 130.6L526.0 133.8L527.1 137.0L526.6 140.3L527.1 143.5L526.7 146.8L527.0 150.0L528.1 153.2L527.9 156.4L527.8 159.7L529.8 162.8L529.4 166.0L528.9 169.3L530.2 172.5L528.9 175.8L531.1 178.9L530.3 182.2L531.4 185.4L531.1 188.6L531.6 191.8L531.1 195.1L530.3 198.4L531.5 201.6L531.8 204.8L531.2 208.1L532.0 211.3L532.4 214.5L532.3 217.7L533.5 220.9L533.2 224.2L534.3 227.3L533.5 230.6L535.0 233.8L534.1 237.1L535.7 240.2L534.9 243.5L536.4 246.6L535.6 249.9L536.3 253.1L536.9 256.3L537.4 259.5L535.9 262.9L536.9 266.1L537.6 269.3L538.4 272.4L537.4 275.8L537.8 279.0L539.0 282.1L538.1 285.4L537.3 288.8L538.3 291.9L538.0 295.2L539.2 298.3L539.6 301.6L539.8 304.8L540.0 308.0M540.0 308.0L543.4 308.4L546.5 309.4L549.6 311.1L553.3 309.5L556.3 311.7L559.4 313.0L562.8 312.8M572.8 338.6L573.5 343.5M582.7 348.6L579.5 348.8M573.5 343.5L576.9 345.7L579.5 348.8M333.5 356.8L334.6 360.6L336.3 364.0L339.8 366.5L340.5 370.5M343.9 350.2L346.7 353.2L348.6 356.9M348.6 356.9L347.3 360.4L346.4 364.0L345.5 367.6M340.5 370.5L345.5 367.6M322.5 361.3L326.1 359.8L329.6 357.9L333.5 356.8M345.4 345.9L343.9 350.2M391.5 363.8L389.4 361.1L386.1 360.1L383.7 357.9L381.0 356.0M391.5 363.8L390.9 365.0M381.0 356.0L378.3 358.1L374.7 358.5L372.1 360.9M370.5 364.7L372.1 360.9M390.9 365.0L387.2 366.4L385.0 370.2L381.1 371.3M346.4 461.3L343.7 463.6L342.6 466.8L340.3 469.3L339.8 472.8L337.9 475.5M343.2 498.7L339.5 499.3L336.1 497.8M345.7 410.3L347.7 407.6L350.1 405.5L351.9 402.7L354.7 400.9L357.4 398.9L358.6 395.7M358.6 395.7L362.3 397.5L365.2 400.5L368.4 403.0M328.5 408.6L332.5 408.0L336.7 408.8L340.6 407.2M322.8 416.5L324.7 413.8L326.1 410.8L328.5 408.6M402.3 410.6L400.5 407.4L398.9 404.1L396.5 401.2M382.7 419.6L381.8 415.9L382.0 412.1L380.8 408.5M396.5 401.2L392.9 400.6L389.2 400.3M389.2 400.3L386.8 403.4L383.1 405.2L380.8 408.5M307.4 375.1L310.8 377.8L314.9 378.9L318.7 380.5M308.5 396.0L311.7 394.9L315.0 394.2M318.7 380.5L318.6 384.1L317.0 387.4L314.8 390.5L315.0 394.2M316.0 416.9L319.4 416.8L322.8 416.5M328.5 408.6L325.8 405.8L324.9 402.1L323.8 398.6M315.0 394.2L317.6 396.4L321.2 396.5L323.8 398.6M329.9 504.6L329.8 508.3L331.5 511.5L331.9 515.1L331.9 518.7L333.2 522.0M336.1 497.8L333.9 502.0L329.9 504.6M338.8 526.1L335.7 524.5L333.2 522.0M468.0 385.3L464.5 386.9L462.6 390.1L460.7 393.5L457.2 395.0M468.0 385.3L467.4 381.0L466.5 376.8M449.8 389.6L453.5 392.3L457.2 395.0M450.8 377.7L454.4 377.0L457.9 376.1L461.3 375.0L465.1 375.4M450.8 377.7L450.7 381.6L451.1 385.7L449.8 389.6M466.5 376.8L465.1 375.4M340.9 282.3L338.3 287.1M338.3 287.1L335.0 286.9L331.9 285.9L328.7 285.5L325.4 285.6M320.4 310.6L323.4 307.9L326.2 305.1L329.1 302.3M317.3 293.8L318.8 293.7M329.1 302.3L326.2 300.6L324.0 298.0L321.0 296.4L318.8 293.7M318.8 293.7L321.8 291.7L322.9 288.1L325.4 285.6M432.2 340.5L436.0 342.9L439.8 345.2M439.8 345.2L438.1 348.1L435.7 350.4L433.8 353.1L431.6 355.5L429.6 358.2M421.3 344.6L425.1 343.6L428.9 342.9L432.2 340.5M421.3 344.6L421.1 348.3L421.9 351.9M429.6 358.2L426.9 356.3L425.1 353.2L421.9 351.9M421.3 344.6L416.1 341.0M416.1 341.0L412.4 343.7L408.1 345.4M408.1 345.4L406.1 348.3L407.6 351.9L406.2 355.0M406.2 355.0L409.3 357.7L413.4 358.2M421.9 351.9L419.7 354.9L416.4 356.4L413.4 358.2M390.9 365.0L391.1 368.6L393.3 371.5L395.7 374.4L396.0 377.9L396.9 381.3M396.9 381.3L399.9 382.0M397.6 359.6L399.7 362.5L402.6 364.8L403.9 368.3L406.4 371.0M397.6 359.6L395.2 362.7L391.5 363.8M397.6 359.6L398.0 358.8M398.0 358.8L401.9 356.6L406.2 355.0M413.4 358.2L413.4 362.7L415.9 366.5M415.9 366.5L413.3 369.9M406.4 371.0L409.8 370.6L413.3 369.9M433.8 382.1L430.8 380.8L427.9 379.3M433.8 382.1L436.5 379.0L440.8 378.0L443.2 374.6M427.9 379.3L427.5 375.1L428.6 370.9L428.0 366.8M443.2 374.6L440.4 371.6L439.3 367.5L436.3 364.8M436.3 364.8L430.8 363.8M430.8 363.8L428.0 366.8M438.3 392.5L441.8 390.4L446.2 391.5L449.8 389.6M438.3 392.5L436.0 389.4L435.3 385.5L433.8 382.1M444.9 359.4L448.2 361.3L452.0 361.7M444.9 359.4L442.0 361.2L439.2 363.0L436.3 364.8M429.6 358.2L430.8 363.8M439.8 345.2L441.0 345.3M444.9 359.4L444.9 355.6L442.8 352.4L442.2 348.8L441.0 345.3M415.9 366.5L419.9 365.8L423.9 367.3L428.0 366.8M493.8 459.8L493.2 460.2M441.3 442.4L443.4 445.2L444.9 448.5L447.0 451.3M441.3 442.4L443.5 439.4L446.5 437.4L449.0 434.8L452.6 433.6M414.0 403.0L410.5 405.2L408.4 408.9L404.9 411.0M425.0 409.0L425.4 410.9M414.0 403.0L418.0 404.4L421.1 407.4L425.0 409.0M425.4 410.9L421.7 414.0L419.8 418.5M441.3 442.4L438.2 441.6L435.1 440.6M345.5 367.6L349.0 368.3L352.5 369.0L356.0 369.9M357.4 356.9L358.9 359.8L361.8 361.8L362.7 365.0M357.4 356.9L353.0 358.1L348.6 356.9M362.7 365.0L359.8 368.1L356.0 369.9M380.8 408.5L377.4 406.4L373.8 404.7L370.4 402.7M368.4 403.0L370.4 402.7M346.4 461.3L344.0 457.1L340.3 453.9M362.7 449.4L362.7 449.0M323.5 439.5L324.7 442.8L323.3 446.1L323.5 449.4L324.2 452.7L323.7 456.0M319.1 459.6L322.0 458.4M322.0 458.4L323.7 456.0M340.3 453.9L336.9 453.2L333.8 455.3L330.4 455.7L327.0 454.9L323.7 456.0M315.2 478.2L316.9 474.7L317.5 470.9L318.1 467.2L318.9 463.5L319.1 459.6M336.9 475.7L334.6 473.4L332.4 471.0L330.9 468.0L328.0 466.2L325.7 463.8L323.6 461.3L322.0 458.4M390.4 383.4L386.8 381.9L384.3 379.0L381.2 376.8M390.4 383.4L388.9 388.0L385.7 391.6M385.7 391.6L382.3 391.6L379.1 389.7L375.5 390.3M372.1 384.2L374.7 386.8L375.5 390.3M396.9 381.3L393.6 382.0L390.4 383.4M389.2 400.3L386.5 396.4L385.7 391.6M370.4 402.7L371.9 399.7L372.9 396.5L374.0 393.3L375.5 390.3M340.5 370.5L340.2 371.1M321.5 362.9L323.4 365.8L325.2 368.7L325.7 372.2M325.7 372.2L329.3 371.0L333.0 371.7L336.6 371.8L340.2 371.1M318.7 380.5L322.4 379.0M325.7 372.2L324.7 375.9L322.4 379.0M323.8 398.6L326.1 395.9L328.1 392.9L330.0 390.0L332.5 387.5M322.4 379.0L324.8 381.3L327.0 383.8L329.4 386.1L332.5 387.5M445.5 330.5L446.3 334.8L447.3 339.0M468.9 308.9L465.6 310.5L464.2 314.2L461.1 316.0L457.7 317.6L455.1 320.0L454.1 324.2L451.4 326.4L448.0 328.0L445.5 330.5M468.9 308.9L468.7 312.3L467.3 315.4L466.9 318.8L463.7 321.2L464.5 325.0L461.7 327.6L462.3 331.3L460.7 334.3M460.7 334.3L457.3 335.5L454.3 337.7L451.0 339.0L447.3 339.0M256.5 446.0L253.1 447.5L249.3 448.0L245.9 449.4L242.2 450.2L238.9 451.8M232.1 449.0L235.3 450.8L238.9 451.8M338.4 288.4L336.4 291.8L336.0 295.9L334.2 299.3L331.9 302.5M338.4 288.4L341.0 290.8L343.2 293.7L347.1 294.6L349.3 297.5M349.3 297.5L348.7 303.3M332.2 302.8L331.9 302.5M332.2 302.8L335.9 302.6L339.4 303.4L343.0 304.0L346.5 304.9M348.7 303.3L346.5 304.9M338.3 287.1L338.4 288.4M329.1 302.3L331.9 302.5M367.8 283.4L364.4 284.4L362.2 286.9L359.9 289.5L356.9 291.0L355.2 294.3L352.1 295.7L349.3 297.5M334.9 318.7L334.2 315.6L335.0 312.1L332.1 309.4L332.4 306.0L332.2 302.8M345.1 315.7L345.3 312.1L346.2 308.5L346.5 304.9M337.1 319.2L340.6 316.4L345.1 315.7M367.8 347.7L370.0 344.5L371.9 341.2M367.8 347.7L364.0 348.7L360.3 349.9M371.9 341.2L368.4 340.1L365.1 338.3L362.4 335.4L358.0 336.2L355.1 333.5M360.3 349.9L356.7 348.0L353.8 345.6L351.7 342.2M368.2 365.7L362.7 365.0M357.4 356.9L359.0 353.4L360.3 349.9M372.1 360.9L371.4 357.5L370.4 354.1L367.7 351.4L367.8 347.7M345.4 345.9L348.7 344.4L351.7 342.2M343.0 329.7L346.9 329.5L350.7 329.8L354.5 330.9M356.4 326.3L359.6 326.1L362.7 324.8L366.1 325.2L369.3 324.6M356.4 326.3L354.8 320.2M354.8 320.2L355.9 317.1L358.2 314.7L359.0 311.4L361.3 308.9M369.3 324.6L371.7 322.2L372.3 318.8L373.8 315.9M373.8 315.9L371.9 311.2M371.9 311.2L369.0 309.2L366.2 307.0M366.2 307.0L361.3 308.9M354.5 330.9L356.4 326.3M345.1 315.7L347.9 318.1L351.3 319.1L354.8 320.2M348.7 303.3L352.4 303.5L354.6 307.1L358.0 307.8L361.3 308.9M367.8 283.4L367.9 286.8L366.4 290.1L368.1 293.6L366.4 296.9L366.1 300.2L366.5 303.7L366.2 307.0M394.9 296.6L391.6 297.8L388.8 299.6L386.9 303.0L383.7 304.3L380.3 305.2L377.5 307.2L375.3 310.1L371.9 311.2M428.9 325.7L427.8 322.5L428.7 318.9L426.7 315.9L425.4 312.8L425.2 309.4L425.5 305.9L423.5 303.0L423.4 299.6L423.5 296.2L421.8 293.1M428.9 325.7L430.7 326.7M430.7 326.7L436.7 325.4M436.7 325.4L437.7 322.2L440.0 319.8L442.2 317.4L444.5 315.0L444.4 311.1L447.2 309.1L448.3 305.9L450.1 303.3L451.8 300.5L453.2 297.6L455.9 295.5L456.6 292.1L458.0 289.1L460.1 286.7L462.2 284.1L463.6 281.2L465.2 278.4L468.4 276.6L468.6 272.9L471.0 270.6L472.4 267.7M445.5 330.5L442.9 328.2L439.5 327.4L436.7 325.4M432.2 340.5L431.3 337.1L432.3 333.5L431.2 330.1L430.7 326.7M447.3 339.0L445.7 342.8M441.0 345.3L445.7 342.8M398.0 339.2L398.9 334.4L401.8 330.4M408.1 345.4L404.4 343.8L400.8 342.1L398.0 339.2M416.1 341.0L415.7 337.6L415.4 334.2M401.8 330.4L405.5 330.2L408.5 332.6L411.9 333.4L415.4 334.2M421.8 293.1L419.7 296.0L418.6 299.2L417.5 302.5L416.3 305.7L415.6 309.1L413.6 312.0L413.2 315.6L411.0 318.4M428.9 325.7L425.8 327.7L422.0 327.5L418.6 328.8M411.0 318.4L412.0 321.7L415.0 323.5L415.7 327.0L418.6 328.8M415.4 334.2L418.6 328.8M394.4 302.5L393.4 305.9L390.8 308.3L390.3 311.9L388.5 314.7L386.1 317.2L384.2 320.0M394.4 302.5L396.6 305.5L395.8 309.5L396.5 313.0L398.9 315.9L399.1 319.6L400.7 322.8M400.7 322.8L400.0 323.9M400.0 323.9L396.7 323.5L393.4 325.3L390.1 325.1L386.7 324.4M384.2 320.0L386.7 324.4M373.8 315.9L377.7 316.3L380.5 319.3L384.2 320.0M411.0 318.4L407.7 320.3L404.3 321.7L400.7 322.8M401.8 330.4L400.7 327.2L400.0 323.9M384.9 329.2L387.3 332.0L388.8 335.4L390.2 338.9L392.9 341.5M384.9 329.2L381.5 331.0L378.1 332.8L374.7 334.7M374.7 334.7L374.4 338.0L372.6 340.9M372.6 340.9L376.0 342.7L379.0 345.2L382.6 346.7M382.6 346.7L386.8 345.5L391.0 344.6M391.0 344.6L392.9 341.5M386.7 324.4L384.9 329.2M398.0 339.2L392.9 341.5M369.3 324.6L371.2 327.9L373.6 330.9L374.7 334.7M371.9 341.2L372.6 340.9M381.0 356.0L381.8 351.4L382.6 346.7M398.0 358.8L396.7 355.1L393.6 352.2L393.7 347.7L391.0 344.6M421.0 382.6L421.1 385.9L420.7 389.2L421.8 392.4M421.0 382.6L417.7 381.5M417.7 381.5L414.8 384.0L410.9 384.0L407.5 385.2L404.2 386.9M421.8 392.4L419.0 394.1L415.7 395.0L413.5 397.5M413.5 397.5L410.7 394.9L406.9 393.7L404.5 390.6M404.5 390.6L404.2 386.9M438.3 392.5L436.4 395.8M430.5 398.0L436.4 395.8M427.9 379.3L424.6 381.3L421.0 382.6M430.5 398.0L427.8 395.9L424.8 394.1L421.8 392.4M413.3 369.9L414.0 374.1L415.1 378.1L417.7 381.5M399.9 382.0L403.0 383.6L404.2 386.9M414.0 403.0L413.5 397.5M425.0 409.0L425.7 404.7L428.4 401.5L430.5 398.0M396.5 401.2L398.5 398.6L400.3 395.8L402.2 393.0L404.5 390.6M493.8 459.8L493.7 456.5L492.6 453.4L492.9 450.1L492.6 446.9M433.7 414.6L434.8 418.5L434.2 422.8L435.8 426.7M433.7 414.6L437.0 412.1L441.5 412.1L444.6 409.2M448.4 413.1L448.3 417.0L446.7 420.7L446.5 424.6M446.5 424.6L442.9 425.3L439.1 424.7L435.8 426.7M445.7 409.6L444.6 409.2M425.4 410.9L429.4 413.2L433.7 414.6M431.1 432.7L433.0 429.4L435.8 426.7M436.4 395.8L439.2 398.7L439.5 403.1L443.3 405.4L444.6 409.2M457.4 396.2L457.2 395.0M468.0 385.3L472.0 386.2L474.8 389.3L478.3 391.2M479.4 394.7L478.3 391.2M527.6 310.1L531.7 310.5L535.1 312.8M527.6 310.1L525.0 312.1L522.3 313.9L519.1 314.7L516.2 316.2M516.2 316.2L518.8 318.2L520.8 321.0L524.1 322.1L526.4 324.5L529.3 326.2L531.2 329.0M535.1 312.8L535.4 316.3L536.5 319.5M536.5 319.5L535.7 323.3L533.3 326.1L531.2 329.0M509.3 104.2L510.8 107.4L510.6 110.6L511.1 113.8L509.5 117.2L510.4 120.4L510.7 123.6L511.2 126.8L511.6 130.0L512.5 133.1L512.4 136.4L512.8 139.6L511.9 142.9L513.7 146.0L512.0 149.4L514.5 152.4L512.8 155.8L513.0 159.0L515.1 162.1L515.5 165.3L515.6 168.5L514.8 171.8L516.0 175.0L516.1 178.2L517.1 181.4L517.1 184.6L516.1 187.9L517.5 191.1L518.2 194.2L517.1 197.6L516.9 200.8L518.0 204.0L518.5 207.2L519.0 210.4L520.3 213.5L520.3 216.7L519.3 220.1L519.3 223.3L519.3 226.6L519.6 229.8L521.2 232.9L520.2 236.2L522.1 239.3L521.7 242.6L522.2 245.8L521.4 249.1L521.9 252.3L522.1 255.5L522.2 258.7L522.3 261.9L523.9 265.1L522.6 268.4L524.0 271.5L525.7 274.6L525.8 277.8L526.0 281.1L526.4 284.3L524.9 287.7L525.1 290.9L524.9 294.1L525.9 297.3L525.5 300.6L525.9 303.8L526.4 307.0L527.6 310.1M540.0 308.0L536.7 309.5L535.1 312.8M554.4 322.5L550.9 321.8L547.3 321.2L543.8 320.2L540.3 319.2L536.5 319.5M341.9 392.2L338.5 386.9M341.9 392.2L345.8 391.4L349.6 391.0L353.6 392.6L357.5 391.7M338.5 386.9L339.8 383.1L341.7 379.6M341.7 379.6L345.5 379.8L349.2 380.8L352.9 381.7L356.7 381.9M357.5 391.7L357.5 388.0L359.6 385.1M356.7 381.9L359.6 385.1M340.6 407.2L342.0 403.5L341.3 399.7L341.3 395.9L341.9 392.2M332.5 387.5L338.5 386.9M358.6 395.7L357.5 391.7M340.2 371.1L342.1 375.2L341.7 379.6M356.0 369.9L355.7 373.9L357.6 377.8L356.7 381.9M367.6 382.6L363.9 384.9L359.6 385.1M464.9 348.1L460.7 348.2L456.9 350.2M464.9 348.1L466.0 352.1L469.1 354.9L471.1 358.4M456.9 350.2L454.4 353.5L453.3 357.3L452.8 361.3M452.8 361.3L456.8 362.6L460.6 364.6L464.4 366.2M464.4 366.2L466.8 363.7L469.3 361.4L471.1 358.4M460.7 334.3L462.8 338.0L464.5 341.9L465.8 345.9M445.7 342.8L448.2 345.2L451.4 346.4L454.6 347.6L456.9 350.2M465.8 345.9L464.9 348.1M452.0 361.7L452.8 361.3M465.1 375.4L464.7 370.8L464.4 366.2M491.4 411.4L492.7 414.8M492.7 414.8L489.3 417.4L487.7 421.6L484.6 424.6M480.0 408.5L483.8 409.2L487.9 409.3L491.4 411.4M498.4 417.3L492.7 414.8M479.4 394.7L483.1 395.4L486.6 396.4L490.5 395.7L494.0 397.4M491.4 411.4L493.0 407.5L493.6 403.2L495.8 399.6M494.0 397.4L495.8 399.6M498.4 417.3L501.1 415.3L504.4 414.7L507.6 414.0L510.3 412.1M495.8 399.6L499.1 398.5L502.3 400.7L505.6 399.9M510.3 412.1L508.6 409.2L508.6 405.7L506.7 403.0L505.6 399.9M494.0 397.4L493.2 393.9L494.7 390.7L494.7 387.3L495.9 384.1M478.3 391.2L479.5 387.5L481.8 384.6L484.6 382.1L486.7 379.0M495.9 384.1L493.1 381.8L490.0 380.2L486.7 379.0M570.5 376.7L568.7 374.5M581.8 376.7L578.0 377.1L574.3 375.4L570.5 376.7M580.8 365.0L577.2 362.5L572.9 361.6M568.7 374.5L569.9 371.3L570.6 367.9L572.9 365.1L572.9 361.6M579.5 348.8L578.1 351.9L576.4 354.9L574.6 357.9L572.3 360.5M572.9 361.6L572.3 360.5M510.3 412.1L513.0 413.4M515.6 418.4L513.0 413.4M539.6 428.0L539.7 431.3L539.0 434.6L538.9 437.9M539.6 428.0L536.6 426.6L533.9 424.5L531.3 422.2L527.8 421.7M465.8 345.9L470.1 343.8L474.3 341.5M474.3 341.5L475.7 338.5L475.6 335.1L475.4 331.8L476.5 328.7L476.6 325.4L479.3 322.7L478.9 319.3L478.9 316.0L479.5 312.8L480.1 309.6L482.0 306.7L481.0 303.2L482.8 300.2M531.2 329.0L531.2 329.9M568.7 374.5L565.0 374.7L561.5 374.5L557.9 373.5L554.4 372.9M572.3 360.5L568.0 358.5L563.4 357.4M563.4 357.4L560.5 359.9L560.1 363.7L557.6 366.4L556.4 369.9L554.4 372.9M573.5 343.5L569.4 344.3L566.2 346.5L563.2 349.4L559.6 351.0M563.4 357.4L560.5 354.8L559.6 351.0M559.6 351.0L558.4 350.3M558.4 350.3L554.4 349.4L550.4 350.4M516.8 372.3L516.3 373.1M516.3 373.1L518.4 376.7L518.0 380.9L518.8 384.7M532.6 374.4L533.8 377.0M532.6 374.4L528.5 375.0L524.7 373.2L520.9 372.0L516.8 372.3M533.8 377.0L533.2 381.3L530.5 384.8L529.1 388.7M529.1 388.7L525.2 388.4L521.9 387.0L518.8 384.7M501.6 382.2L503.6 379.3L505.0 376.0M501.6 382.2L504.6 384.4L505.9 388.0L509.6 389.7L510.9 393.3M505.0 376.0L509.1 376.3L512.7 374.4L516.3 373.1M518.8 384.7L515.7 387.2L513.0 390.0L510.9 393.3M513.0 413.4L516.1 411.9L517.6 408.7L519.5 405.9L522.7 404.5L525.3 402.4M505.6 399.9L507.5 396.3L510.9 393.9M525.3 402.4L522.0 401.3L520.0 398.2L516.4 397.7L513.2 396.6L510.9 393.9M501.6 382.2L495.9 384.1M510.9 393.3L510.9 393.9M474.3 341.5L477.6 344.0L481.4 345.7M481.4 345.7L484.3 343.9L487.9 342.9L490.6 340.5M550.4 350.4L547.6 352.6L544.3 354.1L541.5 356.2M533.9 345.2L535.4 348.2L538.0 350.5L539.5 353.5L541.5 356.2M532.6 374.4L534.3 370.9L535.1 367.0L536.4 363.4L539.1 360.4M516.8 370.2L516.8 372.3M516.8 370.2L519.1 367.2L522.7 365.7L525.1 362.9L527.3 359.9M527.3 359.9L531.2 359.5L535.2 360.4L539.1 360.4M533.8 377.0L536.7 379.3L540.7 378.8L544.2 379.5L546.7 382.8L550.5 382.9M505.0 376.0L502.7 373.2L501.0 369.9L497.9 367.8M516.8 370.2L515.6 366.0L513.5 362.4L510.5 359.2M510.5 359.2L505.7 359.1M505.7 359.1L502.5 361.4L500.4 364.8L497.9 367.8M532.2 394.3L529.8 397.7L529.7 401.9M529.7 401.9L531.2 405.7L534.1 408.6M534.1 408.6L537.3 409.6L540.7 409.5L543.6 411.6L547.0 411.6L550.1 413.0L553.8 411.2L556.6 414.0L560.0 413.7M525.3 402.4L529.7 401.9M527.8 421.7L529.7 418.6L530.1 414.7L532.5 411.8L534.1 408.6M539.6 428.0L542.1 425.4L544.7 423.0L548.8 422.5L551.8 420.6L553.4 416.7L556.7 415.1L560.0 413.7M570.5 376.7L569.6 379.9L569.1 383.1L568.0 386.2L567.8 389.5L568.3 392.9L567.2 396.1L567.2 399.4L566.1 402.5L566.1 405.9M519.3 335.9L521.0 339.6L521.0 343.5L521.6 347.3M506.9 343.5L509.2 346.6L512.3 348.9L515.1 351.5M515.1 351.5L519.7 350.1M519.7 350.1L521.6 347.3M533.9 345.2L529.7 345.7L525.5 345.6L521.6 347.3M531.2 329.9L528.8 332.4L525.5 333.3L522.7 335.2L519.3 335.9M496.8 349.5L495.6 345.9L491.9 344.0L490.6 340.5M496.8 349.5L500.2 347.6L503.2 345.0L506.9 343.5M496.7 350.3L500.1 352.8L502.4 356.6L505.7 359.1M496.8 349.5L496.7 350.3M510.5 359.2L513.3 355.7L515.1 351.5M527.3 359.9L524.9 356.5L522.9 352.8L519.7 350.1M495.3 367.6L493.5 364.2L491.4 361.0L488.5 358.4M495.3 367.6L494.0 370.9L490.0 371.9L488.0 374.6L486.3 377.7M480.5 372.9L480.3 369.5L479.9 366.1L479.5 362.7L479.8 359.3M480.5 372.9L482.7 376.3L486.3 377.7M488.5 358.4L484.9 359.2L481.2 358.4M479.8 359.3L481.2 358.4M496.7 350.3L494.2 353.2L490.9 355.4L488.5 358.4M497.9 367.8L495.3 367.6M486.7 379.0L486.3 377.7M471.1 358.4L475.5 357.9L479.8 359.3M466.5 376.8L470.1 376.4L473.3 374.2L477.2 374.6L480.5 372.9M481.4 345.7L481.5 349.9L481.4 354.2L481.2 358.4M183.4 127.4L186.5 119.6L199.0 116.5L211.4 119.6L220.8 123.5L228.6 123.5L244.0 118.0L253.5 113.4L259.7 109.5L269.0 104.8L281.0 95.0M183.4 127.4L186.5 136.8L189.6 147.7L188.0 160.0L195.8 169.5L202.0 171.0M244.0 118.0L248.8 127.4L250.4 136.8L256.6 144.5L267.5 150.8L272.2 157.0L267.5 168.0M281.0 94.0L284.0 104.0L288.0 114.0L292.0 124.0L298.0 130.0L305.0 138.0M304.0 140.0L306.0 150.0L310.0 158.0L316.0 161.0" fill="none" stroke="#ffffff" stroke-width="1.05" stroke-linejoin="round"/>
<path d="M272.3 800.8L275.7 801.4L278.9 799.8L282.2 799.4M266.0 781.9L262.5 783.3L259.0 784.7L255.9 787.0M266.0 781.9L269.2 785.4L272.3 788.8M269.7 796.1L271.5 792.7L272.3 788.8M260.3 795.4L257.4 791.6L255.9 787.0M272.3 800.8L269.7 796.1M282.2 799.4L282.7 795.5L284.2 791.9M289.6 789.9L284.2 791.9M272.3 788.8L277.6 787.1M284.2 791.9L281.4 788.8L277.6 787.1M266.8 777.6L266.0 781.9M277.6 787.1L279.3 784.0L279.7 780.5L281.1 777.3M266.8 777.6L270.4 776.5L273.1 773.9M273.1 773.9L276.9 776.1L281.1 777.3M289.6 789.9L290.7 785.3L290.4 780.6M290.4 780.6L285.6 779.9L281.7 777.2M281.1 777.3L281.7 777.2M249.1 766.1L246.0 766.8L243.1 768.5L239.9 769.0L237.3 771.3L233.9 771.4L230.8 772.2L227.7 773.0L224.9 774.7L222.0 776.4L219.0 777.5L215.4 776.7L212.2 777.5L209.2 778.6L206.5 780.5L203.5 781.7L200.0 781.5L197.3 783.4M255.9 787.0L252.4 785.7M257.2 769.2L253.7 769.2M197.3 783.4L199.7 781.1L202.0 778.7L204.9 776.9L207.5 774.8L210.4 773.1L213.9 772.2L216.0 769.4L218.5 767.2L221.1 765.0L223.3 762.4L226.8 761.5L229.9 760.0L232.0 757.4L234.3 754.9L237.6 753.7L239.8 751.0M249.1 766.1L248.7 762.0L249.7 757.9M505.6 608.9L502.8 607.4L500.0 605.8L498.2 602.7L494.7 602.2L492.0 600.4L489.8 597.8L487.5 595.6L484.8 593.8L481.6 592.8L478.6 591.5L477.1 588.0L473.9 587.0L470.4 586.4L468.1 584.0L465.6 582.0L462.8 580.4L460.8 577.6L458.0 575.9L455.8 573.5L452.0 573.3L449.6 571.2L446.6 569.8L444.9 566.7L442.2 564.8L439.1 563.7L436.3 562.1L434.4 559.3L430.8 558.7L427.9 557.3L425.5 555.1L423.1 552.9L420.1 551.6L418.2 548.7L415.3 547.2M429.4 530.3L426.0 531.5L423.5 534.0L420.5 535.7L417.8 538.0M415.3 547.2L416.2 542.5L417.8 538.0M311.5 771.0L308.6 768.6L307.8 764.5L304.5 762.4M311.5 771.0L311.2 774.5L309.2 777.6L308.7 781.0L308.9 784.6M308.9 784.6L305.3 783.7L303.1 780.1L298.9 780.2L296.2 777.7M296.2 777.7L297.2 774.2L295.2 770.9L295.7 767.5M295.7 767.5L299.3 766.8L302.0 764.8L304.5 762.4M290.4 780.6L293.0 778.6L296.2 777.7M281.7 777.2L283.3 774.0L283.5 770.3L285.8 767.4L286.8 764.0M286.8 764.0L291.6 765.1L295.7 767.5M130.8 333.1L133.8 331.7L136.9 331.0L140.3 331.2L143.1 329.3L146.3 328.8L149.8 329.5L152.7 328.1M162.5 305.8L161.3 309.1L159.2 312.0L158.1 315.3L156.4 318.3L155.1 321.6L154.4 325.1L152.7 328.1M184.8 339.1L181.1 339.4L177.9 341.6L174.3 342.4L170.4 341.9L166.9 343.1M166.9 343.1L163.9 341.2L161.6 338.7L159.4 336.0L157.6 332.9L154.5 331.1L152.7 328.1M183.7 591.4L183.0 588.0L180.6 585.6L179.7 582.4L178.4 579.3L174.7 577.6L174.8 573.8L172.6 571.2M226.8 375.7L230.1 377.6L233.0 380.0L236.4 381.6L239.0 384.6L242.6 385.9M166.9 343.1L167.0 346.6L164.7 349.2L163.0 352.0L162.1 355.1L162.3 358.6L160.8 361.5L158.7 364.2M64.8 414.9L63.2 417.8L62.1 421.1L60.5 424.0L57.1 425.8L55.3 428.7L54.3 431.9L52.1 434.5L51.1 437.8M190.4 564.3L192.2 560.7L193.4 556.9L195.1 553.2M172.6 571.2L176.1 569.7L179.5 567.9L183.5 567.7L186.7 565.2L190.4 564.3M172.6 571.2L170.9 568.1L171.2 564.5L170.3 561.2L171.0 557.5L168.2 554.6L168.4 551.0M168.4 551.0L171.4 549.8L174.2 548.3L177.2 547.0L179.4 544.3L182.1 542.6L185.1 541.4M172.6 571.2L172.6 571.2M190.4 564.3L192.6 567.4L194.5 570.6L196.9 573.6L198.1 577.2L199.5 580.7M183.7 591.4L186.8 592.6M335.9 666.2L332.5 665.0L331.1 661.6L328.5 659.5L325.6 657.9L323.4 655.4L321.3 652.8L318.4 651.0M328.3 637.4L326.8 640.5L323.4 642.2L322.6 645.8L319.8 647.8L318.4 651.0M387.3 538.9L388.5 542.0L391.0 544.2L392.9 546.8L394.4 549.7M387.3 538.9L383.9 540.3L380.5 540.5L377.0 538.9L373.5 539.1L370.2 540.2M394.4 549.7L393.0 553.7L391.0 557.4L389.8 561.4M370.2 540.2L366.2 545.0M369.8 557.0L373.0 558.3L376.6 557.7L379.8 559.1L383.1 560.3L386.2 561.8L389.8 561.4M367.2 497.8L369.0 500.9L373.1 501.4L375.0 504.5M373.6 518.8L374.4 515.3L374.0 511.6L375.7 508.2L375.0 504.5M373.6 518.8L371.1 521.2L368.2 523.3M368.2 523.3L364.9 522.0L361.8 520.2L358.3 519.5L354.7 518.8L351.9 516.3M367.2 497.8L364.8 500.0L361.4 501.0L359.0 503.2L357.9 506.9L354.4 507.8L352.2 510.2M352.2 510.2L351.9 516.3M304.5 762.4L305.7 756.5M328.7 765.5L325.3 766.8L322.0 768.1L318.6 769.4L314.7 769.1L311.5 771.0M322.7 755.6L318.0 753.5M305.7 756.5L310.0 756.4L314.0 754.8L318.0 753.5M318.0 753.5L317.0 750.4L316.8 747.1L315.7 744.0L316.2 740.6M273.1 773.9L273.6 769.8L273.4 765.9L272.4 761.9M286.8 764.0L284.5 760.5M284.5 760.5L280.6 761.7L276.4 761.4L272.4 761.9M257.2 769.2L260.3 767.0L262.5 763.6L266.9 763.1L269.2 759.9M267.5 755.2L269.2 759.9M269.2 759.9L272.4 761.9M239.3 396.9L237.1 399.7L233.6 400.5L230.6 402.1M216.8 382.5L218.6 385.4L220.7 388.1L222.6 391.0L223.9 394.2L226.5 396.6L228.8 399.2L230.6 402.1M216.8 382.5L212.8 384.1L210.3 387.8L206.9 390.2M206.9 390.2L207.2 393.7L209.1 396.7L208.8 400.4L211.6 403.1L210.9 406.9L211.7 410.3L213.4 413.3M230.6 402.1L229.8 405.7M229.8 405.7L226.4 407.4L224.2 410.6L220.8 412.2L218.0 414.6M218.0 414.6L213.4 413.3M206.9 390.2L203.3 391.1L199.5 389.8L195.9 390.3L192.3 391.0M278.5 498.9L275.2 500.5L271.7 502.0L267.8 502.1L265.0 505.2L261.1 505.2M278.5 498.9L278.6 495.3L275.6 492.5L274.5 489.2L275.4 485.4L273.5 482.4L272.9 478.9M257.3 488.4L259.9 485.6L263.1 483.9L267.1 483.4L269.8 480.9L272.9 478.9M257.3 488.4L258.7 491.6L258.4 495.0L258.6 498.3L259.3 501.6L260.4 504.8M260.4 504.8L261.1 505.2M263.7 518.9L260.4 520.0L257.8 522.2L254.7 523.8L253.2 527.6L249.8 528.6M237.8 519.0L241.5 520.6L244.5 523.0L247.1 525.9L249.8 528.6M249.5 505.6L253.2 506.1L256.7 504.5L260.4 504.8M263.7 518.9L264.3 515.2L261.2 512.3L261.4 508.7L261.1 505.2M98.9 379.4L99.0 382.8L100.7 385.9L100.6 389.4L100.9 392.7L103.0 395.7L102.8 399.2L104.5 402.3L103.9 405.9L105.1 409.1M78.1 408.8L81.5 408.2L84.9 408.9L88.3 408.2L91.6 408.4L95.0 409.2L98.4 410.0L101.7 409.3L105.1 409.1M64.8 414.9L69.3 413.2L74.1 413.4M78.1 408.8L74.1 413.4M128.0 390.1L127.6 393.9L124.6 396.4L123.0 399.6L121.9 403.1L119.3 405.8L119.2 409.8L116.6 412.5M116.6 412.5L112.7 411.1L108.8 412.3M105.1 409.1L108.8 412.3M74.1 413.4L76.4 416.1L77.9 419.2L78.8 422.7L80.2 425.9L81.6 429.1L84.3 431.6M72.1 444.5L74.3 441.7L76.3 438.7L78.8 436.1L81.3 433.6L84.3 431.6M108.8 412.3L107.3 415.5L105.2 418.3L103.3 421.3L102.9 425.1L101.6 428.4L99.6 431.3L97.1 434.0M84.3 431.6L87.4 433.0L90.8 432.2L93.8 434.2L97.1 434.0M97.1 434.0L98.6 437.3L99.4 441.1L101.3 444.2L103.7 447.1M125.2 446.5L121.7 447.8L118.0 445.6L114.5 447.4L110.9 446.4L107.3 447.3L103.7 447.1M80.6 463.9L84.1 461.6L88.5 462.7L91.8 459.8L95.9 459.6M112.6 480.0L109.6 478.2L107.5 475.7L105.5 473.0L103.5 470.5L102.0 467.4L99.7 465.0L97.3 462.8L95.9 459.6M80.6 463.9L78.3 461.0L77.4 457.6L75.4 454.6L75.4 450.8L73.9 447.6L72.1 444.5M95.9 459.6L97.5 456.3L99.0 452.9L101.1 449.8L103.7 447.1M156.0 446.4L155.1 449.6L155.4 453.0L154.8 456.2L155.1 459.6L153.7 462.7M143.0 467.6L147.0 466.8L149.9 463.7L153.7 462.7M415.0 547.5L411.6 548.5L408.0 547.3L404.7 548.8L401.1 547.8L397.7 548.5L394.4 549.7M415.0 547.5L415.0 551.0L413.3 554.1L413.7 557.7L413.4 561.1L412.4 564.4L411.0 567.6M389.8 561.4L390.7 564.9L392.2 568.2M392.2 568.2L396.0 567.3L399.7 568.4L403.5 567.2L407.3 568.9L411.0 567.6M368.2 523.3L369.6 526.5L367.8 530.2L368.5 533.5L369.9 536.8L370.2 540.2M357.6 544.6L354.3 542.7L352.0 540.0L351.3 536.0L347.7 534.3L346.3 530.9L343.9 528.3L341.5 525.7M372.9 595.5L372.8 591.4L370.1 588.0L370.2 583.9L369.1 580.1M372.9 595.5L375.6 597.9L379.1 598.5L382.1 600.1L385.9 600.0L388.9 601.8L392.3 602.5L395.6 603.5L398.4 605.7L401.4 607.5L404.8 608.4L408.0 609.5M369.1 580.1L372.3 579.2L375.9 579.7L379.0 577.9L382.5 578.2L385.6 576.4L389.1 576.7M408.0 609.5L406.8 606.3L405.5 603.1L401.9 601.1L402.2 597.0L398.8 595.0L397.5 591.7L395.2 589.1L393.6 586.1L393.6 582.1L391.0 579.6L389.1 576.7M369.8 557.0L369.7 560.6L367.4 563.2L366.0 566.3L365.1 569.6L363.0 572.4L362.3 575.7M362.3 575.7L365.7 577.8L369.1 580.1M392.2 568.2L390.4 572.4L389.1 576.7M284.5 760.5L285.1 758.7M305.7 756.5L303.1 754.3L301.0 751.7L299.7 748.5M299.7 748.5L296.4 750.0L293.5 752.1L291.1 755.0L287.8 756.5L285.1 758.7M316.2 740.6L312.7 739.9L309.5 737.8L305.7 738.3M299.7 748.5L299.1 743.8M299.1 743.8L300.7 741.2M305.7 738.3L300.7 741.2M299.1 743.8L295.5 743.8L292.2 742.1L288.4 742.7L285.1 741.2M267.5 755.2L270.3 751.8L270.7 747.4M186.8 592.6L187.6 596.6L189.4 600.2L191.2 603.9M191.2 603.9L190.5 607.5L187.7 610.2L187.4 614.0L185.6 617.1M326.7 693.5L326.1 697.1L324.4 700.5L324.8 704.3L323.1 707.6L323.0 711.3M335.9 666.2L333.8 669.3L331.0 671.4L327.1 672.3L325.2 675.4L322.5 677.7M322.5 677.7L322.2 681.6L321.2 685.5L322.1 689.5M326.7 693.5L322.1 689.5M322.1 711.9L323.0 711.3M263.7 518.9L266.2 521.9L269.9 522.9M262.9 581.1L263.4 584.7L261.2 588.0L260.6 591.4L262.1 595.1L260.2 598.5L261.6 602.1L260.5 605.6M286.6 594.4L284.5 597.3L281.0 598.1L279.3 601.4L275.5 601.9L273.5 604.9L269.6 605.3L267.7 608.3M267.7 608.3L264.2 606.7L260.5 605.6M318.4 651.0L316.1 651.3M322.5 677.7L319.1 676.7L316.8 673.6L313.6 672.4L309.8 672.2L307.2 669.8M307.2 669.8L306.7 667.3M306.7 667.3L308.9 664.3L311.1 661.3L312.4 657.8L314.4 654.7L316.1 651.3M168.4 551.0L165.4 548.8L161.5 549.1L158.4 547.1L154.8 546.6L151.0 546.7L147.8 544.8M147.1 439.1L148.8 435.1L148.7 430.7L150.0 426.6M194.9 526.5L193.9 523.0L194.8 519.5M210.8 530.7L207.6 530.1L204.7 528.2L201.5 527.2L198.2 526.8L194.9 526.5M194.8 519.5L197.3 517.4L198.8 514.3L202.2 513.2L203.9 510.3M210.8 530.7L215.0 528.6L218.5 525.6M249.8 528.6L250.3 532.2L250.4 535.9L250.4 539.5L250.1 543.2M167.0 469.4L168.9 472.3L171.9 473.8L175.4 474.5L178.0 476.6L180.2 479.1M167.0 469.4L165.9 472.6L164.2 475.4L162.4 478.1L159.8 480.4L159.3 483.8M153.7 462.7L157.0 464.2L160.4 465.1L163.5 466.8L166.7 468.3M146.4 486.1L149.7 486.0L152.9 485.2L155.8 483.2L159.3 483.8M166.7 468.3L167.0 469.4M156.0 446.4L160.0 446.3L163.9 445.8L167.9 445.1L171.9 446.0M166.7 468.3L168.5 465.5L170.6 463.0L173.6 461.1L173.8 457.1L176.5 455.1M171.9 446.0L173.0 449.2L174.9 452.1L176.5 455.1M283.9 475.9L285.7 473.2L288.4 471.3L290.6 469.0L291.7 465.6L294.6 464.0M283.9 475.9L285.8 479.1L289.3 480.7L291.3 483.8L294.0 486.2L296.8 488.4M304.8 479.9L303.3 483.1L299.9 484.9L298.7 488.2M304.8 479.9L302.9 476.9L302.9 473.0L300.7 470.1L298.0 467.4L297.5 463.8M297.5 463.8L294.6 464.0M296.8 488.4L298.7 488.2M257.3 488.4L253.8 485.1L249.3 483.6M232.4 495.1L230.6 499.5L226.9 502.6M203.1 502.4L205.8 499.8L208.8 497.6L212.4 496.4M218.5 525.6L222.4 526.3L226.2 527.5M346.2 553.2L345.8 556.6L345.9 559.9L346.8 563.1L348.0 566.4L347.2 569.7M334.8 548.9L332.3 551.4L331.1 554.8L327.3 556.2L325.9 559.5L323.9 562.4L321.4 564.8M347.2 569.7L343.3 571.0L339.5 572.6L335.3 572.5M321.4 564.8L324.6 567.2L328.1 569.1L331.9 570.6L335.3 572.5M357.6 544.6L355.3 547.5L351.9 549.0L348.4 550.1L346.2 553.2M320.8 564.8L321.4 564.8M310.7 552.3L313.2 554.4L314.0 557.9L317.5 559.2L317.7 563.1L320.8 564.8M310.7 552.3L311.4 549.0L312.1 545.8L315.4 543.6L315.8 540.2M331.7 539.4L327.7 538.5L323.7 539.5L319.8 541.2L315.8 540.2M318.9 592.3L315.6 593.2L313.0 595.7L309.4 596.1L306.5 597.8L304.1 600.7L300.7 601.4M318.9 592.3L316.5 589.3L317.3 585.1L315.6 581.8L313.9 578.4L313.0 574.8M313.0 574.8L309.6 575.7L306.0 575.1L302.6 576.0L299.1 576.2L295.6 576.7M290.5 594.4L293.0 598.0L296.2 600.8M296.2 600.8L300.7 601.4M286.6 594.4L290.5 594.4M314.3 616.6L312.4 613.7L310.6 610.8L307.5 609.0L306.0 605.8L302.2 604.6L300.7 601.4M318.9 592.3L323.6 594.2M314.3 616.6L317.1 614.3L321.0 614.5L324.0 612.6L327.1 610.9M323.6 594.2L323.5 597.7L324.5 601.0L325.1 604.3L327.0 607.5L327.1 610.9M320.8 564.8L318.3 568.3L315.2 571.3L313.0 574.8M323.6 594.2L326.8 593.0L329.7 591.2L332.8 589.8M358.9 576.3L356.7 578.7L356.0 582.0L353.8 584.5L353.7 588.1L350.3 589.8L349.2 592.9L348.0 595.9M327.5 634.9L324.4 633.0L320.5 632.6L318.1 629.3L314.2 628.8L311.4 626.3M327.5 634.9L330.1 632.3L330.9 628.8L331.5 625.1L334.8 622.9L336.0 619.6L337.3 616.3M311.4 626.3L313.3 623.4L313.2 619.8L314.3 616.6M327.1 610.9L330.3 613.2L333.4 615.5L337.3 616.3M235.9 730.8L236.2 727.6L237.2 724.5L237.0 721.2M235.9 730.8L232.5 730.0L229.7 732.9L226.4 733.0L223.2 733.6L219.8 732.1L216.6 733.1L213.4 733.1L210.4 734.9L207.1 734.9M207.1 734.9L210.1 733.0L212.1 730.0L214.4 727.2L218.5 726.6L220.8 723.9L222.2 720.1L225.7 718.8M254.9 752.1L254.5 748.6L254.1 745.0M240.2 740.0L236.8 739.9L234.0 741.9L231.2 743.7L227.9 743.7L224.5 743.8L221.6 745.1L218.7 746.7L216.0 748.9L212.9 749.8L209.8 750.6L206.3 750.1L203.6 752.2L200.7 753.6L197.0 752.8L194.5 755.5L191.3 756.1L187.8 755.4L185.1 757.6L182.0 758.5L178.9 759.3L175.5 759.4L172.7 761.1L169.5 761.5L166.4 762.7L164.0 765.5L160.4 765.0L157.7 767.0L154.8 768.4L151.6 769.0L148.6 770.1L145.0 769.5L142.0 770.7L139.2 772.3L136.0 773.0L132.9 774.0L130.3 776.2L126.8 775.9L123.8 777.0L120.8 778.1M240.6 739.3L240.6 738.9M270.7 747.4L268.4 744.9L268.0 741.5M254.1 745.0L258.3 740.9M322.1 689.5L318.3 691.9L313.9 693.0M322.1 711.9L318.2 710.9L314.2 710.1L310.6 708.1M313.9 693.0L313.6 696.9L313.0 700.7L310.7 704.2L310.6 708.1M307.2 669.8L305.5 673.5L302.4 676.0L298.7 678.0L296.8 681.6M296.8 681.6L297.8 686.3L300.2 690.4M313.9 693.0L310.2 693.6L306.8 692.8L303.7 690.5L300.2 690.4M276.8 692.5L277.6 689.1L280.9 687.2L281.2 683.4L283.3 680.9L285.9 678.5M276.8 692.5L279.5 694.7L282.2 696.8L285.2 698.6L288.7 699.2M288.7 699.2L291.2 696.9L294.8 696.9L297.5 695.0M285.9 678.5L289.2 680.4L293.3 680.0L296.8 681.6M300.2 690.4L297.5 695.0M249.3 483.6L247.3 480.5L247.0 476.9L246.4 473.4M539.8 525.3L536.3 525.0L534.0 522.3L531.2 520.5L527.5 520.6L524.6 519.1L522.4 516.1L519.4 514.7L516.5 513.2L513.7 511.5L510.0 511.6L507.1 510.1L504.9 507.1L501.4 506.7L498.7 504.7L495.5 503.8L493.2 501.2L489.7 500.8L487.4 498.0L484.1 497.2M504.0 483.2L500.5 483.0L496.9 483.2L493.6 482.1M493.6 482.1L491.6 485.1L489.4 487.9L486.9 490.6L485.8 494.0L484.1 497.2M484.1 497.2L479.8 497.6L475.9 499.5M475.9 499.5L473.6 502.5M473.7 503.2L473.6 502.5M473.7 503.2L473.6 506.5L470.6 508.9L471.0 512.5L469.6 515.4L467.9 518.2L467.7 521.5L466.0 524.3L465.2 527.4L464.7 530.6M412.8 506.9L410.4 504.3L407.9 501.7M412.8 506.9L410.1 509.6L410.3 513.8L408.5 517.0L405.5 519.5L403.1 522.3L402.5 526.1M407.9 501.7L404.9 503.6L401.8 505.4L397.9 504.9L394.6 506.1L391.8 508.5M391.8 508.5L390.5 511.6L390.5 514.9L392.4 518.2L391.0 521.3M402.5 526.1L398.5 526.0L394.5 526.1M391.0 521.3L394.5 526.1M419.3 508.3L416.3 506.6L412.8 506.9M429.8 529.2L427.3 526.7L427.5 522.9L424.7 520.5L422.8 517.7L421.9 514.4L420.4 511.5L419.3 508.3M417.8 538.0L415.4 535.9L412.8 534.0L410.3 531.9L408.4 529.1L405.3 527.7L402.5 526.1M429.4 530.3L429.8 529.2M373.6 518.8L376.9 520.5L380.6 519.4L384.1 520.1L387.5 521.0L391.0 521.3M385.3 502.7L388.0 506.1L391.8 508.5M375.0 504.5L378.4 503.8L382.0 504.1L385.3 502.7M387.3 538.9L390.1 536.3L390.4 532.2L393.8 529.9L394.5 526.1M298.7 488.2L300.6 491.6L303.6 494.0L307.5 495.7L310.0 498.5L311.9 502.0M315.2 478.2L311.9 479.9L308.4 480.6L304.8 479.9M315.2 478.2L318.0 480.0L320.7 482.1L322.7 484.9M322.7 484.9L321.5 488.1L318.7 490.3L317.7 493.7L314.8 495.9L314.7 499.8L311.9 502.0M284.0 501.0L286.0 497.9L288.5 495.3L292.6 494.3L293.4 490.0L296.8 488.4M210.8 530.7L210.0 534.4L211.6 538.0L211.3 541.7L209.8 545.4L210.7 549.0M224.0 549.4L220.7 548.1L217.4 548.1L214.0 548.5L210.7 549.0M210.7 549.0L207.9 550.8L205.6 552.9M282.2 658.3L279.3 656.2L277.0 653.6L274.8 650.9L273.3 647.8L271.5 644.8M282.2 658.3L285.5 656.3L289.3 655.9M289.3 655.9L291.1 653.2L292.7 650.4L294.9 648.0L297.3 645.8L299.0 643.0L300.4 640.0M271.5 644.8L270.3 640.6L271.1 636.6L271.8 632.5M299.5 633.3L300.9 636.6L300.4 640.0M299.5 633.3L296.8 631.1L293.9 629.2L290.5 627.9L288.0 625.3M288.0 625.3L284.3 625.1L280.8 626.3L277.3 626.6M277.3 626.6L274.5 629.5L271.8 632.5M249.8 655.4L252.4 653.0L256.0 652.3L259.5 651.7L262.7 650.3L265.3 647.8L268.6 646.7L271.5 644.8M256.0 671.1L255.9 667.5L252.5 665.2L252.9 661.4L251.4 658.4L249.8 655.4M259.4 672.9L256.0 671.1M259.4 672.9L262.7 672.0L265.9 670.7L268.9 669.1L272.0 667.5L275.7 667.9L278.8 666.4M278.8 666.4L280.4 662.3L282.2 658.3M306.7 667.3L303.5 665.8L301.5 662.6L297.3 662.7L295.6 659.0L292.3 657.6L289.3 655.9M278.8 666.4L280.4 669.5L281.7 672.8L283.2 676.0L285.9 678.5M316.1 651.3L313.0 650.1L310.6 647.8L307.7 646.4L305.1 644.4L303.2 641.6L300.4 640.0M311.4 626.3L308.9 629.0L305.6 630.2L302.6 631.7L299.5 633.3M328.3 637.4L327.5 634.9M296.2 600.8L294.5 603.6L294.1 606.9L292.3 609.7L293.0 613.4L290.7 616.0L289.7 619.0L289.7 622.4L288.0 625.3M267.7 608.3L269.3 611.3L270.0 614.9L272.9 617.2L274.2 620.4L274.9 623.9L277.3 626.6M255.7 607.1L260.5 605.6M255.7 607.1L254.7 610.2L254.1 613.6L252.6 616.6L250.5 619.4L250.3 622.9L248.2 625.7L247.8 629.1M247.8 629.1L251.2 629.9L254.5 630.9L258.2 629.6L261.4 631.7L265.0 631.2L268.4 631.9L271.8 632.5M151.5 508.3L153.5 511.4L156.2 513.8L157.3 517.5L160.6 519.5L162.2 522.9L164.8 525.5M178.7 507.9L176.5 510.5L176.8 514.2L174.8 516.7L173.1 519.5L171.1 522.1L170.1 525.1M178.7 507.9L176.1 506.1L173.4 504.2L170.7 502.5L167.5 501.7M147.8 544.8L149.5 542.0L151.7 539.7L153.6 537.1L156.5 535.3L157.7 532.1L160.4 530.2L163.2 528.3L164.8 525.5M168.2 425.7L170.6 428.6L171.1 432.5L173.7 435.3L174.5 439.0M150.0 426.6L153.7 427.5L157.2 425.3L160.9 427.1L164.6 426.7L168.2 425.7M171.9 446.0L172.2 442.1L174.5 439.0M205.5 478.3L207.7 475.5L208.0 471.9M205.5 478.3L204.0 478.8M204.0 478.8L200.3 478.4L197.9 475.4L194.5 474.4L191.4 473.1L188.2 471.6M212.1 484.6L209.0 481.2L205.5 478.3M190.9 494.3L193.1 491.7L195.8 489.5L196.7 485.9L199.9 484.2L202.8 482.2L204.0 478.8M176.5 455.1L180.2 455.5L183.3 457.8L187.0 458.1M516.9 463.9L519.0 461.4L521.7 459.4L522.8 456.1M522.8 456.1L525.6 457.7L529.2 457.5L531.5 460.3L534.6 461.2M505.9 464.0L509.6 464.5L513.2 462.7L516.9 463.9M504.0 483.2L504.4 480.0L505.6 476.9L505.8 473.7L505.0 470.4L504.9 467.2L505.9 464.0M541.1 452.7L540.3 448.4L537.9 445.0L535.6 441.5M535.6 441.5L538.9 437.9M297.9 552.3L294.8 553.7L293.1 556.6L290.7 558.9M297.9 552.3L298.0 548.9L295.5 546.2L296.3 542.6L295.2 539.5L295.0 536.1L293.1 533.2M290.7 558.9L287.5 557.4L285.1 554.7L282.3 552.7L278.6 552.0L276.3 549.3L273.0 547.9L270.5 545.4M293.1 533.2L290.0 534.7L286.7 535.4L283.1 535.3L280.1 537.1L276.6 537.1L273.7 539.2M310.7 552.3L306.4 551.4L302.2 552.7L297.9 552.3M309.7 528.1L312.3 530.6L311.8 534.7L315.2 536.7L315.8 540.2M296.8 526.6L294.8 529.9L293.1 533.2M296.8 526.6L299.9 528.0L303.2 528.4L306.7 526.5L309.7 528.1M296.8 526.6L296.0 522.4L294.3 518.5L291.5 515.2M338.5 616.2L340.7 613.8L341.2 610.2L344.6 608.6L345.3 605.2L348.1 603.3L349.1 600.1M338.5 616.2L340.9 618.5L343.3 620.8L345.9 622.8L349.0 624.2L352.1 625.7L354.5 628.0L357.0 630.2L359.0 633.0L361.6 635.1L365.3 635.7L367.7 638.0L369.3 641.4L372.4 642.8L375.1 644.8M375.1 644.8L375.2 641.2L373.9 638.0L372.9 634.7L371.3 631.7L370.5 628.4L369.0 625.3L368.6 621.8L365.9 619.1L365.7 615.6L364.3 612.5L362.8 609.4L362.9 605.8M337.3 616.3L338.5 616.2M372.9 595.5L369.7 597.4L367.1 599.9L365.9 603.8L362.9 605.8M256.5 731.5L252.0 729.9M219.4 691.6L217.6 694.4L215.4 696.8L213.3 699.2L209.3 699.7L208.3 703.3L205.6 705.2L203.0 707.2L201.6 710.4L198.6 711.9M198.6 711.9L202.0 710.9L205.7 712.1L209.1 709.6L212.8 710.9L216.2 709.4L219.8 709.7L223.4 709.5M223.4 709.5L224.4 706.2L226.9 703.8M213.2 672.2L215.8 669.7L219.4 669.0L222.8 668.0L225.6 665.6M238.1 681.1L236.8 677.9L234.6 675.4L232.8 672.6L230.3 670.4L226.8 668.9L225.6 665.6M211.7 681.0L212.5 676.6L213.2 672.2M297.5 695.0L298.8 698.0L299.1 701.3L300.9 704.0L302.0 707.0M310.6 708.1L309.4 708.7M309.4 708.7L305.7 707.8L302.0 707.0M309.4 708.7L307.6 711.9L307.7 715.5L307.6 719.0L307.0 722.4M272.9 478.9L273.7 476.8M283.9 475.9L280.6 476.8L277.2 477.0L273.8 476.7M273.7 476.8L273.8 476.7M493.6 482.1L489.4 478.1M473.5 487.5L474.0 491.6L476.0 495.3L475.9 499.5M473.5 487.5L474.6 484.2L477.1 481.9L479.3 479.4L481.3 476.7M481.3 476.7L485.4 477.0L489.4 478.1M473.5 487.5L470.5 485.6L467.3 484.0L464.7 481.4L461.5 479.8M461.5 479.8L464.2 477.8L465.8 474.8L467.3 471.8L469.5 469.4M469.5 469.4L472.7 471.0L476.2 470.6M435.4 498.4L438.9 498.4L442.3 497.1L445.8 499.2L449.2 499.5L452.7 497.6L456.1 498.2M435.4 498.4L436.7 501.8L437.1 505.6L438.7 509.0L440.3 512.3L442.3 515.5L443.4 519.0M450.5 519.0L451.7 515.9L452.8 512.8L454.1 509.7L455.1 506.5L457.3 503.9L458.5 500.8M458.5 500.8L456.1 498.2M453.8 480.3L455.6 481.4M455.6 481.4L456.2 484.8L457.0 488.1L456.4 491.5L456.9 494.8L456.1 498.2M432.2 486.5L433.3 490.1L434.0 493.7L434.1 497.5M432.2 486.5L435.4 486.1L438.2 484.2L441.4 483.8L444.4 482.7L447.4 481.3L450.3 479.9L453.8 480.3M434.1 497.5L435.4 498.4M419.3 508.3L421.9 505.6L424.8 503.4L428.6 502.4L431.8 500.5L434.1 497.5M464.7 530.6L461.3 529.0L459.2 525.8L456.6 523.2L452.7 522.0L450.5 519.0M473.6 502.5L469.8 502.3L466.0 501.5L462.4 500.2L458.5 500.8M461.5 479.8L455.6 481.4M407.1 496.8L407.9 501.7M407.1 496.8L409.8 495.0L410.8 491.4L413.3 489.3L416.5 488.0L418.6 485.5M432.2 486.5L431.8 486.0M418.6 485.5L421.9 485.1L425.2 485.2L428.5 485.9L431.8 486.0M453.8 480.3L453.1 476.7L451.2 473.6L450.2 470.1M431.8 486.0L430.5 482.5L431.5 479.0M431.5 479.0L432.9 475.3L436.2 472.9L437.1 468.9L439.7 465.9M439.7 465.9L443.7 466.1L446.6 468.9L450.2 470.1M469.5 469.4L467.4 466.0L465.7 462.3M465.7 462.3L461.8 461.4L458.3 459.5M450.2 470.1L452.7 467.8L454.5 464.9L456.1 462.0L458.3 459.5M439.7 465.9L438.2 462.0M422.1 468.7L423.9 471.9L427.3 473.4L429.6 476.1L431.5 479.0M422.1 468.7L423.9 466.0L425.7 463.2L425.3 459.4L427.5 456.8M427.5 456.8L431.4 457.9L434.8 459.9L438.2 462.0M455.3 452.8L451.3 451.5L447.0 451.3M458.3 459.5L456.2 456.4L455.3 452.8M447.0 451.3L443.9 453.2L441.9 456.1L440.4 459.3L438.2 462.0M389.7 423.6L392.6 421.3L394.1 417.7L397.3 415.9L398.9 412.4L402.3 410.6M411.2 418.4L409.5 422.0L408.8 426.1L406.5 429.5M389.9 424.1L392.9 426.1L396.7 425.7L400.3 426.1L403.4 427.8L406.5 429.5M360.5 473.4L357.9 476.2L356.8 479.8L355.2 483.2M336.9 475.7L337.9 475.5M336.9 475.7L334.6 479.0L331.4 481.5L329.2 485.0M329.2 485.0L331.6 487.8L332.2 491.6L334.0 494.8L336.1 497.8M352.2 510.2L349.6 507.6L346.8 505.2L345.8 501.3L343.2 498.7M367.2 497.8L366.9 494.1M366.9 494.1L363.4 491.9L360.9 488.8L358.6 485.4L355.2 483.2M272.9 417.6L274.1 421.3L275.2 425.1L277.6 428.3M277.6 428.3L281.0 427.1L284.4 426.0L287.6 423.9L291.5 424.5L294.7 422.9M316.0 416.9L313.8 419.6L310.7 421.7L309.4 425.3L307.7 428.5L304.4 430.3M294.7 422.9L298.1 425.2L301.9 426.8L304.4 430.3M350.3 417.2L347.5 419.5L344.8 421.8L342.5 424.7L339.4 426.7L338.6 431.0L335.1 432.7M322.8 416.5L324.3 419.7L325.0 423.3L327.0 426.2L328.4 429.5L330.7 432.3M335.1 432.7L330.7 432.3M329.2 485.0L325.9 485.0L322.7 484.9M309.7 528.1L312.3 526.1L315.0 524.2L316.8 521.3M238.8 588.3L235.0 588.8L232.0 591.6L228.0 591.3L225.0 594.1L221.0 594.1L217.6 595.6M255.7 607.1L253.0 605.1L249.3 605.4L247.1 602.4L243.8 601.7M243.8 601.7L241.9 598.6L240.8 595.2L239.7 591.7L238.8 588.3M243.8 601.7L242.2 604.8L238.8 606.0L236.7 608.7L234.0 610.6L231.6 613.0M215.2 605.0L218.6 606.5L222.0 607.8L224.5 610.9L228.4 611.3L231.6 613.0M215.2 605.0L216.7 602.0L218.1 599.0L217.6 595.6M215.2 605.0L215.2 605.0M260.3 715.0L257.1 716.1L254.1 717.3L251.4 719.2L248.9 721.3M237.0 721.2L240.4 718.1M240.4 718.1L245.1 718.6L248.9 721.3M294.3 713.3L294.2 717.4L295.8 721.3M294.3 713.3L291.1 710.8L287.6 708.6M287.6 708.6L283.5 711.1L278.8 712.3M300.7 741.2L298.1 738.4L297.8 734.5L296.7 731.0L294.0 728.3L292.6 724.9M302.0 707.0L300.2 710.0L297.4 711.8L294.3 713.3M307.0 722.4L303.2 722.6L299.5 721.9L295.8 721.3M288.7 699.2L287.0 703.8L287.6 708.6M166.2 662.2L168.0 659.2L171.9 658.7L174.8 657.0L177.3 654.8L180.0 652.9L181.1 648.8L184.6 648.0L187.4 646.2L189.7 643.7L192.0 641.2L194.3 638.8L197.5 637.4M166.2 662.2L169.6 662.8L173.0 662.2L176.5 663.1L179.9 661.5L183.3 662.8L186.8 663.2L190.2 661.1L193.6 663.0L197.0 661.8L200.5 661.9M213.2 672.2L211.2 669.5L208.3 667.9L205.6 666.0L203.2 663.8L200.5 661.9M248.0 654.2L246.6 651.0L245.9 647.7L246.0 644.2L246.9 640.7L246.8 637.3L244.5 634.2L244.6 630.8M248.0 654.2L244.5 653.7L241.3 654.8L238.1 655.7L235.1 657.5L231.8 658.3L228.4 658.2M228.4 658.2L226.7 655.3L224.3 652.9L223.4 649.5L221.5 646.8L219.6 644.2M236.5 628.5L240.4 630.4L244.6 630.8M236.5 628.5L232.8 629.5L229.5 631.4L226.3 633.3L223.2 635.3M223.2 635.3L222.3 640.1L219.6 644.2M247.8 629.1L244.6 630.8M249.8 655.4L248.0 654.2M256.0 671.1L252.9 672.5L249.6 673.6L247.5 676.8L243.5 676.7L240.9 678.9L238.1 681.1M225.6 665.6L226.1 661.6L228.4 658.2M211.4 645.9L215.6 645.5L219.6 644.2M231.6 613.0L232.8 616.0L233.4 619.3L233.8 622.6L235.9 625.3L236.5 628.5M210.8 622.4L214.2 624.2L215.4 627.9L218.6 629.8L221.5 632.0L223.2 635.3M277.6 428.3L277.2 430.2M251.9 430.9L253.5 434.8L257.0 437.2M257.0 437.2L260.2 435.6L263.3 433.7L267.5 434.9L270.6 432.8L273.9 431.5L277.2 430.2M294.6 464.0L291.7 462.2L289.5 459.5L287.4 456.7L284.3 455.1L281.6 453.1L278.6 451.4M273.8 476.7L273.7 473.4L272.8 470.1L273.4 466.9L274.9 463.7L274.5 460.4L274.5 457.1L274.7 453.8M278.6 451.4L274.7 453.8M475.4 451.8L476.3 451.9M465.7 462.3L467.5 459.0L471.2 457.7L473.6 455.0L475.4 451.8M502.9 461.0L505.9 464.0M502.9 461.0L498.5 459.7L493.8 459.8M455.3 452.8L456.3 449.6L459.2 447.6L461.8 445.5L462.7 442.1M462.7 442.1L460.9 439.1L458.3 437.1L455.8 434.9L452.6 433.6M475.4 451.8L472.2 450.0L471.0 445.8L467.1 444.6L464.8 441.7M462.7 442.1L464.8 441.7M415.0 436.5L416.3 440.1L416.2 444.1L416.5 447.9L417.9 451.5M417.9 451.5L422.1 452.4L426.0 453.9M435.1 440.6L433.2 436.6L431.1 432.7M406.5 429.5L409.3 434.9M409.3 434.9L415.0 436.5M419.8 418.5L420.6 421.8L422.3 424.9L423.9 427.9L424.7 431.3M427.5 456.8L426.0 453.9M372.8 440.8L369.6 442.0L368.1 445.3L364.7 446.2L362.7 449.0M372.8 440.8L371.1 437.2L370.3 433.3L368.8 429.6L369.1 425.5M369.1 425.5L365.8 424.7L363.1 422.4L359.6 422.4M359.6 422.4L359.5 425.8L357.4 428.6L355.5 431.4L355.5 434.9L355.1 438.3L353.4 441.2M353.4 441.2L356.5 443.8L359.4 446.6L362.7 449.0M357.6 419.9L359.6 422.4M335.1 432.7L337.0 435.6L339.4 437.9L342.4 439.6L344.8 442.0M344.8 442.0L349.1 441.3L353.4 441.2M344.8 442.0L343.1 445.9L341.4 449.8L340.3 453.9M360.5 473.4L363.9 471.3L367.9 470.8M362.7 449.4L364.0 452.8L367.8 454.2L368.9 457.7L371.5 460.1M367.9 470.8L369.2 467.3L369.3 463.4L371.5 460.1M301.0 442.1L301.9 445.8L304.1 449.2L304.8 453.0L305.4 456.9M305.4 456.9L308.9 456.9L312.2 458.5L315.9 457.7L319.1 459.6M281.9 443.1L281.9 439.5L279.5 436.7L279.0 433.2L277.2 430.2M281.9 443.1L285.7 442.8L289.5 442.0L293.3 441.3L297.2 443.2L301.0 442.1M281.9 443.1L280.6 447.4L278.6 451.4M297.5 463.8L299.7 461.0L303.2 459.7L305.4 456.9M330.7 432.3L328.4 434.8L326.6 437.7L323.5 439.5M535.0 441.5L532.4 439.3L529.0 438.2L526.1 436.5L523.9 433.7M535.0 441.5L533.1 444.5L529.8 445.6L526.5 446.7L524.2 449.0L521.8 451.3M523.9 433.7L519.7 435.0L515.8 436.9M515.8 436.9L516.3 441.5L515.1 445.9M521.8 451.3L518.3 448.8L515.1 445.9M522.8 456.1L521.8 451.3M535.6 441.5L535.0 441.5M502.9 461.0L504.1 457.7L505.3 454.5L507.7 451.8L508.4 448.4M508.4 448.4L511.6 446.6L515.1 445.9M260.3 715.0L260.5 712.4M278.8 712.3L274.3 708.3M260.5 712.4L263.7 710.4L267.5 710.5L270.8 709.0L274.3 708.3M276.8 692.5L273.1 693.7M274.3 708.3L273.9 704.7L274.1 701.0L274.0 697.3L273.1 693.7M259.4 672.9L261.2 676.3L261.5 680.0L262.0 683.6L261.8 687.5L263.5 690.9M263.5 690.9L266.8 691.5L270.1 692.2L273.1 693.7M256.5 446.0L259.1 449.7L262.5 452.8M262.5 452.8L260.4 455.4L259.6 458.8L257.5 461.4L257.1 465.0L254.9 467.5M238.9 451.8L240.7 454.7L241.6 458.1L243.4 461.0L246.0 463.5L246.9 466.9L248.4 470.0M248.4 470.0L251.6 468.7L254.9 467.5M257.0 437.2L256.6 441.6L256.5 446.0M274.7 453.8L270.7 453.5L266.6 453.0L262.5 452.8M273.7 476.8L270.3 475.7L267.4 473.7L264.6 471.5L260.6 471.7L258.1 468.9L254.9 467.5M246.4 473.4L248.4 470.0M476.3 451.9L479.2 449.2L482.2 446.6L484.5 443.3M484.5 443.3L488.3 445.7L492.6 446.9M508.4 448.4L505.5 446.0L501.7 444.9L498.9 442.3M492.6 446.9L495.0 443.6L498.9 442.3M509.5 430.7L512.6 433.9L515.8 436.9M477.4 399.1L473.7 398.9L470.9 401.7L467.6 403.0L464.0 403.2M463.9 409.4L464.0 403.2M477.4 399.1L478.0 402.3L480.3 405.0L480.0 408.5M463.9 409.4L467.0 412.2L471.2 412.9L474.3 415.8M474.3 415.8L477.7 412.6L480.0 408.5M448.4 413.1L445.7 409.6M458.5 414.5L460.5 418.8L461.0 423.4M458.5 414.5L455.0 415.2L451.8 413.2L448.4 413.1M461.0 423.4L457.9 425.3L454.6 426.9L452.3 430.0M452.3 430.0L450.1 426.6L446.5 424.6M457.4 396.2L459.9 400.5L464.0 403.2M457.4 396.2L455.7 399.4L453.2 401.9L449.7 403.6L447.2 406.1L445.7 409.6M458.5 414.5L461.1 411.7L463.9 409.4M452.6 433.6L452.3 430.0M477.4 399.1L479.4 394.7M418.6 485.5L417.0 481.8L414.9 478.4L411.7 475.8M422.1 468.7L418.2 468.9L414.4 470.1M411.7 475.8L414.4 470.1M366.9 494.1L370.2 491.8L373.1 489.1L376.0 486.3L379.1 483.8M367.9 470.8L371.4 471.8L373.0 475.6L376.8 476.1L379.3 478.6M379.1 483.8L379.3 478.6M385.3 502.7L385.5 498.7L386.7 495.1L388.5 491.7M379.1 483.8L381.7 487.1L385.6 488.8L388.5 491.7M411.7 475.8L407.9 477.2L404.0 478.2L400.0 478.6M407.1 496.8L404.6 493.9L401.3 491.9L399.0 488.8M400.0 478.6L399.5 482.0L400.6 485.5L399.0 488.8M388.5 491.7L391.9 490.3L395.6 490.1L399.0 488.8M260.5 712.4L258.5 709.8L257.0 706.8L255.8 703.7M263.5 690.9L260.7 694.2L257.2 696.8M240.4 718.1L241.3 713.9L240.7 709.6M470.2 434.9L469.4 430.2L468.2 425.6M470.2 434.9L474.3 435.7L478.4 434.4L482.5 435.2M484.6 424.6L481.0 423.3L478.2 420.4L474.6 419.0M484.6 424.6L485.8 430.7M468.2 425.6L471.0 421.9L474.6 419.0M482.5 435.2L485.8 430.7M461.0 423.4L464.4 425.1L468.2 425.6M464.8 441.7L467.0 437.9L470.2 434.9M484.5 443.3L482.6 439.5L482.5 435.2M474.3 415.8L474.6 419.0M409.3 434.9L407.0 438.5L402.8 440.1L400.3 443.4M400.3 443.4L396.2 444.5L392.1 443.8L388.0 443.6M417.9 451.5L415.0 453.0L412.7 455.7L409.2 456.0M400.3 443.4L401.7 447.2L404.9 449.6L406.5 453.2L409.2 456.0M414.4 470.1L412.0 467.8L410.7 464.7L408.5 462.3L407.7 459.0M409.2 456.0L407.7 459.0M372.8 440.8L376.7 441.0L380.3 442.0L383.9 443.4L387.7 443.9M388.0 443.6L387.7 443.9M523.9 433.7L524.9 429.7L525.6 425.6L527.4 421.9M509.5 430.7L510.8 427.5L513.3 424.9L515.2 422.0L515.6 418.4M515.6 418.4L519.3 420.4L523.6 420.3L527.4 421.9M527.8 421.7L527.4 421.9M400.6 461.8L397.5 459.6L394.2 458.1L390.2 458.3L386.9 456.5M400.6 461.8L399.2 465.3L399.8 469.2L399.8 473.0L398.4 476.6M385.6 473.6L389.1 473.2L391.8 476.1L395.3 475.2L398.4 476.6M385.6 473.6L385.0 469.6L385.2 465.6L387.0 461.7L385.9 457.7M385.9 457.7L386.9 456.5M387.7 443.9L386.3 448.0L386.6 452.3L386.9 456.5M407.7 459.0L404.2 460.7L400.6 461.8M400.0 478.6L398.4 476.6M379.3 478.6L381.7 475.1L385.6 473.6M371.5 460.1L375.1 459.6L378.8 459.5L382.4 458.7L385.9 457.7" fill="none" stroke="#ffe6d3" stroke-width="1.05" stroke-linejoin="round"/>
<path d="M219.1 185.1 L221.9 184.6 L225.6 184 L228.4 182.7 L229.7 178.8 L231.9 175.7 L230.8 171 L233.4 168.7 L237.3 166.6 L240.1 165.2 L243.6 163 L247.1 161.7 L250.4 161.6 L254.2 161.7 L257 164.2 L258.8 166.4 L261.3 167.3 L264.6 169.3 L268.2 169.9 L272.1 169.7 L275.2 168.7 L278 171.4 L280.5 173.8 L282.2 175.7 L285 177.4 L288.4 178.4 L291.6 179.2 L293.9 175.7 L297.5 177.4 L300.9 179.2 L303.7 182.1 L306.8 185.1" fill="none" stroke="#848484" stroke-width="1.8" stroke-linejoin="round" stroke-linecap="round"/>
<path d="M227.3 188.6 L228.9 191.6 L231.4 194.6 L233.1 196.8 L234.2 199.9 L235.7 203.4 L237.8 207.3 L240.5 208.7 L242.5 210.8 L244.8 213.1 L246.9 216.5 L249.5 220.1 L252.3 223.8 L254.2 227.1 L257.7 231.8 L261.2 234.2 L264 236.2 L268.2 238.8 L272.9 238.8" fill="none" stroke="#848484" stroke-width="1.8" stroke-linejoin="round" stroke-linecap="round"/>
<path d="M272.9 238.8 L274.9 235.6 L277.5 231.8 L277.8 228.8 L277.5 224.8 L279.4 221.5 L282.2 219 L284.8 217.8 L288.8 216.9 L291.6 216.6 L294.7 216.6 L297.5 217.3 L300.9 217.8 L305.6 219 L307.2 215.6 L307.9 211.9" fill="none" stroke="#848484" stroke-width="1.8" stroke-linejoin="round" stroke-linecap="round"/>
<path d="M257.7 231.8 L255.6 236.2 L254.2 240 L250.9 242.2 L247.1 243.5 L244.4 246.6 L242.5 250.5 L239.7 252.5 L237.8 255.2 L235 255.1 L231.6 255.6 L228.4 256.4 L224.6 257.5 L221.4 258.7 L216.8 259.9 L214.4 255.2 L211.8 254.6 L207.5 253.4 L205.1 252.9 L200.4 254 L196.4 253.6 L193.8 252.7 L190.4 251.7 L186.4 250.5 L184.5 247.7" fill="none" stroke="#848484" stroke-width="1.8" stroke-linejoin="round" stroke-linecap="round"/>
<path d="M200.4 254 L200.1 258.4 L200.4 262.2 L203 265 L205.1 266.9 L207.6 267.7 L210.5 268.9 L214.2 269.9 L216.8 271.6 L221.4 273.9 L222.2 277.4 L222.7 281.6 L223.8 285.6 L226.6 288.9 L227.8 291.5 L230.8 294.9 L232.7 297.8 L235.5 299.6 L236.5 303.5 L236.6 306.6 L235.5 309 L239.1 307.8 L242.3 306.3 L244.8 304.3 L248 303.6 L251.8 301.9 L254.1 305.8 L256.5 309 L257.7 313.6 L261.8 312.4 L265.8 311.3" fill="none" stroke="#848484" stroke-width="1.8" stroke-linejoin="round" stroke-linecap="round"/>
<path d="M272.9 238.8 L271 242.2 L270 245.6 L268.2 248.2 L266.2 250.9 L264.6 254 L263.5 257.5 L263.5 260.5 L262.9 264.1 L262.3 268 L262.3 271.6 L263.2 274.9 L262.4 277.5 L263.5 280.9 L264.6 284.6 L267.1 287.6 L268.2 290.3 L269.8 293.7 L271.2 296.9 L271.7 299.6 L270.8 303.6 L270.5 306.6 L268.1 309.3 L265.8 311.3 L267.1 314.7 L268.2 318.3 L270.4 321.7 L272.9 325.3 L274 330" fill="none" stroke="#848484" stroke-width="1.8" stroke-linejoin="round" stroke-linecap="round"/>
<path d="M256.5 285.6 L260 282.1 L264.7 284.4 L266.3 289.1 L263.5 293.1 L258.8 292.1 L257.3 289.1 L256.5 285.6" fill="none" stroke="#848484" stroke-width="1.8" stroke-linejoin="round" stroke-linecap="round"/>
<path d="M272.9 238.8 L274.9 241.4 L277.5 243.5 L277.4 247.1 L276.3 249.4 L276.4 252.9 L277.7 256 L279.9 259.9 L283.7 260.5 L286.9 262.2 L289.3 259.4 L291.6 257.5 L293.6 259.8 L296.7 262.4 L297.9 264.2 L300.9 266.9 L303.5 269.8 L307.6 272 L310.3 273.9 L313.9 276.6 L317.1 279 L319.6 280.9 L322.2 282.3 L325.4 283 L328.5 283.4 L331.3 284.4" fill="none" stroke="#848484" stroke-width="1.8" stroke-linejoin="round" stroke-linecap="round"/>
<path d="M267.4 309.2 L267.7 313.6 L268.6 317.4 L271.2 320.8 L273.2 323.2 L273.4 326.4 L274.4 330.3 L271.6 332.8 L269.7 336.1" fill="none" stroke="#848484" stroke-width="1.8" stroke-linejoin="round" stroke-linecap="round"/>
<path d="M269.7 336.1 L272.5 335.6 L276.2 335.1 L279.1 333.8 L281.8 333.8 L284.8 334.1 L288.4 334.9 L291.9 335.2 L294.7 336.1 L297.8 337.3 L301 339.5 L304.8 341.9 L307.6 345.6 L309.5 349 L307.6 352.7 L307.1 357.1 L304.3 361.2 L302.5 364.2 L300.6 366.6 L298.3 368.4 L295.5 370 L290.8 373.5" fill="none" stroke="#848484" stroke-width="1.8" stroke-linejoin="round" stroke-linecap="round"/>
<path d="M269.7 336.1 L267.1 339.9 L265.1 343.1 L263 345.9 L260 347.4 L258.1 350.1 L255.2 352 L253.7 354.2 L251 357.1 L249.9 359.8 L248.4 363.3 L247.5 366.5 L249.2 370.2 L249.9 373.5 L253.3 374.3 L258.1 375.8 L260.7 375.6 L264.7 374.7 L267.4 373.5 L268.5 377.3 L268.6 380.5 L265.1 382.7 L260.4 384 L257.7 387.4 L255.7 389.9 L256.9 393.8 L258.1 396.9 L255.8 400.3 L253.4 403.9 L250.1 403.4 L246.9 402.6 L244 402.7 L240.9 403.7 L237 403.9 L236.1 407.3 L233.9 410.4 L232.3 413.2 L230 413.2" fill="none" stroke="#848484" stroke-width="1.8" stroke-linejoin="round" stroke-linecap="round"/>
<path d="M290.8 373.5 L293.6 372.6 L297.3 371.7 L300.1 370 L302 372.4 L304.3 375.1 L307.1 378.2 L310.6 378.4 L313.4 379.3 L316.5 380.5 L319.7 379.9 L323.5 379.4 L327.1 379.2 L329.1 378.3 L332.9 378.2 L334.7 376.4 L337.5 373.5 L338.7 377.1 L339.6 380.1 L339.9 382.9 L344 382.7 L346.9 381.7 L351.6 380.5 L353.6 383.3 L356.2 385.2 L359.7 383.2 L363.2 380.5 L366.8 380.4 L370.3 380.5 L373.2 382.7 L376.2 384.6 L379.6 387.5 L382.4 389.9 L384.9 391.7 L386.6 393.4 L390.2 393.7 L393.6 393.4 L396 396.9 L395.5 400.2 L395.9 402.6 L396 406.2 L397.9 408.6 L400.3 410.8 L403 413.2 L406.2 413.5 L408.7 414 L412.3 414.4" fill="none" stroke="#848484" stroke-width="1.8" stroke-linejoin="round" stroke-linecap="round"/>
<path d="M290.8 373.5 L290.1 376.9 L290.3 380.3 L289.6 382.9 L288 386 L287.3 389.9 L288 392.6 L290 395.6 L290.8 399.2 L294.3 401.1 L297.8 403.9 L301 402.7 L304.8 401.6 L305.9 398.2 L306 394.5 L303.4 391.9 L301.6 390.4 L300.1 387.5 L299.8 384.8 L299 381.6 L297.8 378.2 L300.1 373.5" fill="none" stroke="#848484" stroke-width="1.8" stroke-linejoin="round" stroke-linecap="round"/>
<path d="M396 406.2 L393.3 410 L391.3 413.2 L388.4 414.5 L384.6 414.4 L381.9 415.6 L377.5 415.2 L374.5 415.1 L370.3 415.6 L372.7 418.1 L374.7 421.4 L377.7 424.5 L379.6 427.3 L380.1 430.5 L381.9 434.3 L379.1 437.2 L377.7 439.4 L374.9 441.3 L372.3 444 L369.3 446.4 L365.6 448.3 L362.1 450.4 L359.3 451.8 L356.2 453 L354.5 456.4 L352.7 460" fill="none" stroke="#848484" stroke-width="1.8" stroke-linejoin="round" stroke-linecap="round"/>
<path d="M118.7 393.4 L121.5 393.7 L125.2 393.9 L128.1 393.4 L131.5 392.6 L135.3 392.2 L139.7 392.2 L143.2 392.8 L146 394.1 L149.1 395.7 L152.7 396.4 L157.4 397.5 L160.8 398.1 L163 398.7 L166.6 399.9 L167.3 403.3 L169.4 406.1 L170.1 408.6 L172.1 411.7 L173.9 414.5 L174.8 416.8 L176.8 419.6 L179.5 421.8 L181.9 423.7 L184.2 426.1 L187.1 428.3 L190.1 430.2 L193.5 433.1 L198.2 435.5" fill="none" stroke="#848484" stroke-width="1.8" stroke-linejoin="round" stroke-linecap="round"/>
<path d="M198.2 435.5 L200.5 430.8 L202.5 427.6 L205.2 423.8 L206.2 420.4 L206.3 415.6 L207.5 412.1 L206.6 407.8 L207.1 403.8 L206.4 400.4 L206.8 396.9 L206.8 394 L207.5 391 L212.2 387.5 L216.9 384 L219.2 387.5 L223.2 388.9 L226.2 389.9 L230.9 393.4 L230.6 396.2 L231.2 400.1 L232.1 402.7 L230.2 406.6 L227.4 409.7 L223.9 413.2 L227.9 413 L230.9 412.1 L234.7 410.2 L236.8 407.9 L240.3 405.1 L243.4 405.5 L246.6 405 L249.6 405.1 L252.4 403.8 L255.5 402.7 L255.6 399.1 L256.7 396.9 L256.6 393.4 L259.6 390.2 L261.3 386.4 L260.2 383.2 L259 379.4 L262.5 379.6 L267.1 379.4 L267.1 373.5 L263 372.4 L259 372.3 L255 371.2 L251.9 370" fill="none" stroke="#848484" stroke-width="1.8" stroke-linejoin="round" stroke-linecap="round"/>
<path d="M198.2 435.5 L197.5 438.9 L197.7 442.2 L197 444.8 L193.7 446.8 L191.2 449.5 L190.1 452.6 L190 456.5 L191.5 459.5 L192.3 463.5 L188.8 465.8 L184.2 468.2 L185.3 472.9 L190 474 L193.5 472.9 L193.5 469.4 L193.2 466.5 L193.5 463.5" fill="none" stroke="#848484" stroke-width="1.8" stroke-linejoin="round" stroke-linecap="round"/>
<path d="M184.2 468.2 L183.5 471.6 L183.7 474.9 L183 477.5 L180.8 480.6 L179.5 484.5 L181.4 486.5 L184.2 489.2 L182.2 492.2 L179.5 496.2 L174.8 498.6 L172.5 501.7 L170.1 505.6 L166.3 506.7 L163.1 507.9 L161.2 505.7 L158.4 503.2 L156.6 506.4 L156.1 510.3" fill="none" stroke="#848484" stroke-width="1.8" stroke-linejoin="round" stroke-linecap="round"/>
<path d="M193.5 463.5 L196.7 464.9 L200.5 465.8 L203.1 468.6 L205.2 470.5 L207.9 471.7 L210.9 473.2 L214.5 475.2 L218 475.1 L220.8 475.6 L223.9 476.4 L227.1 475.7 L230.9 475.2 L234.9 477.7 L237.9 479.9 L240.3 484.5 L242.7 483.4 L246 483.5 L249.6 482.2 L252.4 479.1 L254.3 475.2 L258.3 473.2 L261.3 470.5 L265 470.1 L267.2 469.5 L270.6 468.2 L272.4 472.1 L274.2 475.2 L277.2 476.3 L280 477.5" fill="none" stroke="#848484" stroke-width="1.8" stroke-linejoin="round" stroke-linecap="round"/>
<path d="M250 479.4 L253.1 474.7 L255.9 473.4 L259.4 471.6 L263.3 473.1 L266.2 473.3 L270.3 474.7 L273.4 477.8 L276.8 477 L281.2 477 L284.6 475.2 L287.4 474 L290.5 473.1 L293.4 474.6 L296.8 476.2 L301.1 475.6 L304.5 474.7 L307.7 472.8 L312.3 471.6 L315 471.3 L318.6 470 L322.1 471.2 L324.8 471.6 L328.4 472.7 L331 473.1 L334.8 472.8 L337.3 471.6 L341.9 470" fill="none" stroke="#848484" stroke-width="1.8" stroke-linejoin="round" stroke-linecap="round"/>
<path d="M341.9 470 L346.6 473.1 L346.7 476.5 L347.4 479.4 L344.9 483 L341.9 485.6 L342 488.9 L342.5 492.5 L343.5 496.5 L344.4 499.1 L344.6 502.3 L345.1 505.8 L340.4 509 L341.7 512 L343.5 515.2 L346 518 L347 520.1 L349.7 523 L351.3 527.7 L347.7 529.8 L345.1 530.8 L342.4 533.6 L338.8 535.5 L338.1 539.7 L336.5 543.2" fill="none" stroke="#848484" stroke-width="1.8" stroke-linejoin="round" stroke-linecap="round"/>
<path d="M336.5 543.2 L332.6 544.8 L329.9 542 L327.9 538.6 L328.7 535.5 L328.5 531 L329.5 527.7 L325.9 524.6 L323.2 522.2 L319.9 521.9 L316 522.3 L312.3 523 L308.9 521.9 L306.6 521.1 L303 519.9 L298.7 519.1 L295.2 519.4 L292.1 518.3 L291.3 515.2 L291.3 518.7 L290.5 521.4 L288.6 524.1 L285.8 526.1 L284.1 529.6 L281.2 532.3 L279.7 536.7 L278.8 540.1 L277 543.1 L275.3 545.2 L273.4 547.9 L271.7 551 L270.3 554.2 L267.7 556 L265.6 558.8 L262.1 560.8 L257.8 561.9 L256.4 564.8 L253.7 567.4 L251.6 569.7" fill="none" stroke="#848484" stroke-width="1.8" stroke-linejoin="round" stroke-linecap="round"/>
<path d="M336.5 543.2 L338.1 545.8 L340.4 547.9 L343.8 551.5 L346.6 554.2 L348.5 556.9 L351.3 560.4 L356 563.5" fill="none" stroke="#848484" stroke-width="1.8" stroke-linejoin="round" stroke-linecap="round"/>
<path d="M356 563.5 L359 566.7 L362.2 569.7 L365.1 572.8 L366.9 576 L363 577.7 L359.1 579.1 L354.8 580.7 L351.3 582.2 L347.6 584.2 L343.5 585.3 L339.8 584.6 L337.3 584.5 L333.6 585.7 L331 586.1 L327.9 588.4" fill="none" stroke="#9b9491" stroke-width="2.3" stroke-linejoin="round" stroke-linecap="round"/>
<path d="M251.6 569.7 L254.7 572.9 L258.3 572.5 L262.6 571.8 L265.6 571.3 L270.3 572.9 L271.1 576.1 L271.8 579.1 L270.6 582.2 L270.3 585.3 L269.5 590" fill="none" stroke="#9b9491" stroke-width="2.3" stroke-linejoin="round" stroke-linecap="round"/>
<path d="M270.3 580 L269.8 584 L269.5 587.8 L268.9 591.7 L267.1 595.6 L268.7 598.3 L269.8 600.8 L271.8 603.4 L271.6 607.7 L271 611.2" fill="none" stroke="#9b9491" stroke-width="2.3" stroke-linejoin="round" stroke-linecap="round"/>
<path d="M271 611.2 L274.5 612.8 L278.1 614.3 L281.8 614 L284.3 613.9 L287.4 613.5 L290.1 612.2 L293.8 611.3 L296.8 609.6 L299.3 608.6 L303 608.1 L305.5 607 L309.5 604.3 L312.3 603.4 L314.6 600.6 L315.5 596.4 L318.8 596 L321.2 594.7 L324.8 594.8 L327.9 591.5 L331 589.4 L333.4 589.4 L337.3 586.2 L340 585.5 L343.5 585.5 L346.7 585 L351.3 584.7 L353.8 583.6 L356.5 581.8 L359.1 580" fill="none" stroke="#9b9491" stroke-width="2.3" stroke-linejoin="round" stroke-linecap="round"/>
<path d="M271 611.2 L268.2 612.8 L265.6 614.3 L260.9 615.8 L260.7 619.7 L259.4 623.6 L261 627.6 L262.5 631.4 L258.9 633.8 L256.2 636.1 L254.8 639.6 L253.1 642.3 L254.1 645.9 L256.2 650.1 L257.2 654.4 L259.4 657.9 L260.4 660.4 L260.9 664.2 L264.7 666.4 L267.1 667.3 L270.5 667.5 L273.4 667.3 L276.8 665.1 L281.2 664.2 L284.3 665.9 L287.4 668.8 L289.3 671.6 L292.1 675.1 L293 678.1 L295.2 681.3 L294.3 685.7 L293.6 689.1" fill="none" stroke="#9b9491" stroke-width="2.3" stroke-linejoin="round" stroke-linecap="round"/>
<path d="M259.4 657.9 L261.6 655.6 L264 653.2 L268.7 654.8 L269.3 657.9 L268.7 661 L264 664.2" fill="none" stroke="#9b9491" stroke-width="2.3" stroke-linejoin="round" stroke-linecap="round"/>
<path d="M293.6 689.1 L298.3 686 L301.4 685.1 L305.2 683.9 L307.7 682.9 L310.8 682 L313.5 680.8 L317 679.7 L321.1 680.1 L324.8 679.7 L327.9 678.2 L330.5 676 L334.2 674.3" fill="none" stroke="#9b9491" stroke-width="2.3" stroke-linejoin="round" stroke-linecap="round"/>
<path d="M270 551 L266 554 L262 557.3 L259.7 560.5 L257.5 563.5 L255 565.8 L251.3 568.2 L248.2 570.7 L245 572.9 L242.3 576 L240.4 579 L237.4 578.7 L234 577.5 L229.5 579 L226.5 576 L225.5 581.2 L225.4 584 L226.5 587.4 L222.3 589.5 L218.6 589.9 L216 589.5 L211 591.6 L206.8 593.6 L204.5 594.6 L201.6 596.8 L196.4 597.8 L193.8 600 L195.8 604 L197.4 608.2 L197 612 L195.3 614.4 L193.5 617.2 L191.2 619.6 L186 620.6 L181.8 619.6 L178.7 616.5" fill="none" stroke="#9b9491" stroke-width="2.3" stroke-linejoin="round" stroke-linecap="round"/>
<path d="M207.9 690.5 L210.2 691 L214.9 693.4 L217.7 695.2 L220.7 696.9 L224.2 700.4 L227.1 702.7 L228.9 705.1 L231.3 707.5 L233.6 709.7 L237.1 712.1 L241.8 715 L245.3 716.8" fill="none" stroke="#9b9491" stroke-width="2.3" stroke-linejoin="round" stroke-linecap="round"/>
<path d="M245.3 716.8 L247.6 721.4 L249.9 726.1 L252.3 730.8 L253.4 735.5 L254.6 741.3 L255.8 746 L254.5 749 L253.4 751.8 L251.1 756.5 L249.9 760" fill="none" stroke="#9b9491" stroke-width="2.3" stroke-linejoin="round" stroke-linecap="round"/>
<path d="M245.3 716.8 L251.1 715.6 L256.9 714.4 L261.6 712.1 L264.5 711 L267.5 709.7 L270.4 707.4 L272.1 705.1 L273.3 702.3 L274.5 699.2 L275.2 696.3 L276.8 693.4 L279.2 689.9 L285 688.7 L290.8 687.5 L295.5 684 L300.2 680.5" fill="none" stroke="#9b9491" stroke-width="2.3" stroke-linejoin="round" stroke-linecap="round"/>
<path d="M251.9 733.5 L253 736.5 L254.2 739.4 L255.4 745.2 L258.9 749.9 L263.6 752.2 L264.7 755.1 L264.7 758.1 L263.6 763.9 L264.8 766.9 L265.9 769.7 L264.9 773.3 L264.7 776.8 L263.6 782.6 L264.7 788.4 L265.9 793.7 L268 797.2 L269.3 799.7 L271.8 803.1" fill="none" stroke="#9b9491" stroke-width="2.3" stroke-linejoin="round" stroke-linecap="round"/>
<path d="M350 558.6 L351.2 561.5 L353.4 564.3 L354.7 566.4 L357.9 566 L361.5 566 L365.6 566.4 L366.4 562.7 L366.6 559.7 L367.1 557 L369.2 554.6 L372.3 552.5 L373.5 549.7 L376.5 547.7 L378.1 545.6 L381.1 542.9 L382.7 539.9 L382.8 537.1 L382.6 534.1 L381.2 531 L381.2 527.4 L380.4 524.7 L379.7 521.1 L378.8 518.1 L376.7 515.7 L374.9 513.4 L379.6 510.3 L382.4 512.1 L385.8 514.9 L389.4 516.1 L392.1 516.5 L395.2 513.4 L393.3 512.1 L390.1 510.6 L387.4 508.7 L386.6 505.3 L386.8 501 L386.6 497.8 L386.6 493.9 L387.4 490" fill="none" stroke="#848484" stroke-width="1.8" stroke-linejoin="round" stroke-linecap="round"/>
<path d="M365.6 566.4 L369.2 565.5 L373.4 564 L377.6 562.5 L381.2 560.1 L383.9 559 L387.4 558.6 L387.7 554.3 L389 550.8 L393.6 552.3 L397.8 551 L401.4 550.8 L403 546.1 L406.1 542.6 L409.2 539.9 L412.1 537.5 L415.5 535.2 L418.3 537.7 L420.1 539.9 L423.3 541.1 L427.9 543 L431.3 542 L435.7 539.9 L440 538.4 L443.5 536" fill="none" stroke="#848484" stroke-width="1.8" stroke-linejoin="round" stroke-linecap="round"/>
<path d="M423.9 321 L424.7 324.4 L426.5 327.8 L427.4 330.4 L428.9 332.8 L430.8 335.5 L433.2 338.6 L430.8 340 L427.8 342.1 L425.1 344.4 L426 347.3 L427.4 350.3 L430.6 352.8 L432.2 354.7 L435.6 357.3 L437.5 360.7 L440.3 363.1 L437.6 365.1 L434.5 366.6 L430.9 367.8 L428 369.8 L423.6 371.4 L420.4 372.5 L417.6 375.2 L415 377.1 L412.2 379.5 L411.4 382.9 L411 386.5 L411.5 389.1 L413 393.1 L413.4 395.8" fill="none" stroke="#848484" stroke-width="1.8" stroke-linejoin="round" stroke-linecap="round"/>
<path d="M413.4 395.8 L417 395.7 L421.5 395.6 L425.1 394.7 L428.2 396.1 L432.1 398.2 L435.1 399.6 L439.1 401.7 L442.5 400 L445.3 399 L448.4 398.2 L451.2 397.3 L455.1 396.8 L457.8 395.8 L460.2 393.6 L463.5 392.5 L467.1 390 L471.1 391.6 L474.2 392.3 L477.8 394.6 L481 396.6 L483.5 398.2 L486.3 397.5 L489.7 396.2 L492.9 394.7 L496.5 393.4 L499.9 392.3 L501.2 388.7 L502.7 384.8 L504.5 381.8 L508.5 379.9 L511.6 377.1 L516.2 380.6 L517.5 385 L517.4 388.8 L520.9 393.5" fill="none" stroke="#848484" stroke-width="1.8" stroke-linejoin="round" stroke-linecap="round"/>
<path d="M527.9 344.4 L525.2 348.2 L523.2 351.4 L521.2 355.4 L518.6 358.4 L518.5 361.2 L518.8 364.3 L519.7 367.8 L518.3 370.8 L516.2 374.8 L516.8 377.9 L517.4 381.8 L518 384.6 L519.6 387.8 L519.3 390.3 L520.9 393.5" fill="none" stroke="#848484" stroke-width="1.8" stroke-linejoin="round" stroke-linecap="round"/>
<path d="M413.4 395.8 L411.9 399.6 L411 402.9 L412.5 406.9 L413.4 409.9 L409.8 410.3 L406.6 411 L404 412.2 L400.8 411.7 L397 412.2 L396.3 408.7 L395.2 405.9 L394.7 402.9 L395.5 399.9 L394.8 396.3 L395.8 393.5 L390 392.3" fill="none" stroke="#848484" stroke-width="1.8" stroke-linejoin="round" stroke-linecap="round"/>
<path d="M413.4 409.9 L415.4 412.5 L418.3 415.1 L420.4 416.9 L421.9 418.9 L423.8 421.2 L426.2 423.9 L426.9 427.3 L427 431.3 L427.4 435.6 L430.6 437.3 L434.4 439.1 L432.5 442.2 L429.7 444.9 L427.4 449.6" fill="none" stroke="#848484" stroke-width="1.8" stroke-linejoin="round" stroke-linecap="round"/>
<path d="M520.9 393.5 L518.8 396.7 L517.7 399.8 L515.2 401.9 L513.9 405.2 L511.1 406.7 L509.6 408.5 L506.9 411 L504.1 411.8 L501 413.3 L499 414.7 L495 415.4 L492.9 416.9 L489.3 419 L487.1 420.5 L483.5 421.6 L481 423.1 L478.3 424.3 L474.4 425.5 L471.8 426.2 L471.2 429.5 L470.6 432.1 L473.3 433.6 L475.6 435.3 L478.1 436.5 L481.4 439.1 L483.5 440.3 L486.5 442.9 L488.3 445.3 L490 447.5 L492.9 449.6 L492.9 455.5 L495.2 457 L497.2 459.4 L499.9 461.3 L501.9 463.2 L504.7 465 L506.9 467.1 L510.4 470.2" fill="none" stroke="#848484" stroke-width="1.8" stroke-linejoin="round" stroke-linecap="round"/>
<path d="M427.4 449.6 L430.2 450.3 L433.9 450.9 L436.8 450.8 L439.9 450.4 L443.3 450.4 L447.6 450.3 L450.8 450.8 L451.4 454.5 L451.9 459 L455.7 460.1 L460.1 461.3 L464.5 461.1 L467.2 460.2 L471.8 460.1 L472.5 457.1 L474.6 453.5 L475.3 449.6 L479.9 451.1 L483.5 451.9 L487.3 453.5 L489.4 454.8 L492.9 455.5" fill="none" stroke="#848484" stroke-width="1.8" stroke-linejoin="round" stroke-linecap="round"/>
<path d="M427.4 449.6 L423.6 452.2 L420.4 454.3 L419.1 457.9 L416.8 460.1 L415.7 463.6 L413.6 466.3 L412.9 469.3 L411 473 L409.9 476.1 L408.7 480 L406.1 483.4 L404 487 L401.7 491.7" fill="none" stroke="#848484" stroke-width="1.8" stroke-linejoin="round" stroke-linecap="round"/>
<path d="M523.2 326.9 L526.4 328.3 L530.3 329.2 L533.7 328.9 L536.1 327.3 L539.6 326.9 L543.1 324.5" fill="none" stroke="#848484" stroke-width="1.8" stroke-linejoin="round" stroke-linecap="round"/>
<path d="M619.4 333.5 L622.3 333.1 L626.1 332.7 L628.6 331.2 L632.3 330.9 L635.1 330.8 L639.1 331 L642.1 331.5 L645.3 332.2 L648.3 331.8 L652.3 331.7 L654.4 330.9 L658.3 330.9 L659.8 328.8 L662.6 326.1 L664.6 323.4 L666.1 320.5 L669.3 319 L671.3 316.6 L674.4 315.8 L678.2 314.4 L681.7 312.7 L685 311.6 L688 310.7 L691.2 309.2 L694.7 308.8 L698.3 308.7 L701.6 308 L704.1 307.6 L706.7 307 L710.3 306.2 L709.4 308.8 L708.2 312.3 L707.7 315.3 L709.3 318.5 L711.6 321.8 L708.7 323 L705 324.4 L702.5 325.7 L698.2 327.3 L694.7 329.6" fill="none" stroke="#848484" stroke-width="1.8" stroke-linejoin="round" stroke-linecap="round"/>
<path d="M693.4 329.6 L690.9 332 L689.3 334.4 L686.9 336.1 L682.6 337.7 L679.1 340 L674.7 341.6 L671.3 343.9 L669.9 346.8 L667.9 350.4 L666.1 354.3 L664.1 356.8 L663.1 359.7 L660.9 362.1 L657.6 363.5 L655.2 366.1 L653.1 367.3 L647.9 369.9" fill="none" stroke="#848484" stroke-width="1.8" stroke-linejoin="round" stroke-linecap="round"/>
<path d="M647.9 369.9 L651 371 L655.1 372.1 L658.3 372.5 L661.3 371.3 L664.7 370.4 L668.7 369.9 L672.9 368.1 L676.5 367.3 L679.1 372.5" fill="none" stroke="#848484" stroke-width="1.8" stroke-linejoin="round" stroke-linecap="round"/>
<path d="M570 359.5 L573.1 359.3 L577.2 359.1 L580.4 358.2 L583.2 358.8 L586.4 359.8 L590.5 360.6 L593.4 362.1 L596.9 360.8 L600 360.3 L603.8 359.5 L607.7 358.8 L610.1 357.5 L614.2 356.9 L617.6 358.1 L621.9 358.2 L621.7 361.9 L620.6 364.7 L624.1 366.3 L627.3 367.7 L629.7 368.6 L631.3 372.3 L633.6 375.1 L632.3 378.7 L631 381.6" fill="none" stroke="#848484" stroke-width="1.8" stroke-linejoin="round" stroke-linecap="round"/>
<path d="M647.9 369.9 L646.7 373.6 L646.4 377.3 L645.3 380.3 L644 383.4 L643.1 386.8 L642.7 390.6 L642.6 393.1 L641.9 396.3 L641.4 399.7 L637.5 398.4 L633.6 401 L630.1 400.3 L627.1 399.7 L625.6 403.1 L623.2 406.2" fill="none" stroke="#848484" stroke-width="1.8" stroke-linejoin="round" stroke-linecap="round"/>
<path d="M641.4 399.7 L644.1 402.6 L647.7 405.4 L650.5 407.5" fill="none" stroke="#848484" stroke-width="1.8" stroke-linejoin="round" stroke-linecap="round"/>
<path d="M623.2 406.2 L622.9 409.9 L623.5 413.6 L623.2 416.6 L623.4 420.1 L624.5 424.4" fill="none" stroke="#848484" stroke-width="1.8" stroke-linejoin="round" stroke-linecap="round"/>
<path d="M554.4 343.9 L555.8 347.6 L558.1 351.3 L559.6 354.3 L564.8 356.9 L570 359.5" fill="none" stroke="#848484" stroke-width="1.8" stroke-linejoin="round" stroke-linecap="round"/>
<path d="M273.8 560 L273.1 564.1 L272.5 568 L271.8 571 L270 574 L269.9 577.6 L269.8 581" fill="none" stroke="#9b9491" stroke-width="2.3" stroke-linejoin="round" stroke-linecap="round"/>
<path d="M543 441.5 L545.5 452 L547 462.5 L547 471.5 L539 473 L526 471.5 L523 467 L527 463 L533 462 L538 456 L541 448Z" fill="#858585"/>
<path d="M49 416 L52 411.5 L57 410 L61 410.5 L62.5 414 L59 417 L57 420.5 L52 422 L49.5 420Z" fill="#858585"/>
<path d="M160 505 L164 503.5 L167 505 L170 504.5 L169 509 L166 511.5 L163 510 L161 508Z" fill="#8f8f8f"/>
</g>
<path d="M152 78 L154.1 75.5 L156 72.5 L158.6 70.1 L160.8 67.2 L162.2 63.8 L165 61 L168.7 60.8 L171.9 59.8 L174.7 59.6 L178 59.5 L180.5 57.6 L183 55.5 L185.7 54.2 L189.3 54 L193 52.1 L196 51.5 L200.3 49.9 L204 49 L207.9 49.8 L211.5 51.5 L214.2 50.7 L218 49 L220 51.7 L223.2 55.4 L225 58 L227.4 60.3 L230.2 61.8 L232.5 63.9 L235.6 65.7 L238 67 L241.6 68.8 L244.1 70.6 L247 72.5 L250.5 75 L251.4 78.1 L252.3 81.2 L254 84 L257.1 85.2 L260.9 86.7 L263.5 88.1 L267 89.5 L268.5 91.8 L269.5 95 L273 94.3 L275.8 95 L278.5 94.5 L280.6 93.3 L283.6 91.6 L285.8 89.5 L288.5 89 L291.5 87 L294.8 86.5 L299.2 86 L302.2 84.6 L306 84 L309 82.8 L312 81 L314.2 82.8 L317.7 84.4 L320 85.5 L323.5 86 L328 85.5 L330.1 87.8 L333.1 91 L335.5 93 L335.2 96.7 L335.2 99.3 L334.8 102.4 L334.4 105.6 L334.9 109.8 L334.5 112.5 L331.8 114.6 L330.3 117.8 L327.3 120.1 L325 123 L322.6 125.4 L320 127 L319.1 129.9 L317.8 133.5 L317.5 136 L313.2 136.7 L310.2 136.9 L306 138 L304.5 142.5 L306.8 145.7 L308.5 148 L306.6 150.8 L304.5 153 L306.9 154.6 L309.9 156.6 L312.9 157.8 L316 159.5 L316.5 163.6 L316 167 L317.9 170.1 L318.7 173.6 L320 176.5 L317.1 178.5 L314.1 180.6 L311.2 183.8 L308.5 185.5 L303 184 L302.3 180.9 L300.5 177.5 L296.7 178.6 L293 180 L293.4 182.9 L295 186.7 L295.5 189.5 L297.8 193.1 L300.5 196 L301.2 199.5 L301.4 202.8 L301.5 206 L302 209 L303.8 212.7 L306 216.5 L307.5 213.5 L308.5 210 L309.9 213.5 L312 216.1 L313.5 219 L316.1 220.7 L319.6 222.5 L323 224 L326 225.6 L329.2 226.8 L331.8 227.9 L335 229 L337 232.6 L338.5 235.5 L341.5 237.5 L345.3 238.9 L348.6 240.8 L351.3 241.9 L354.5 243.5 L352.1 246.5 L351 248.7 L348.7 251.6 L346.5 254 L343.5 256.6 L340 260 L339.7 263.1 L338.9 265.9 L338.3 269.3 L337.5 272 L335.8 275.2 L333.3 277.6 L332 281 L334.9 282.8 L337.7 284.5 L341.1 285.4 L344 287.5 L347.3 288.9 L350.2 290.4 L354 292.5 L356.4 294.5 L358.9 296.7 L361.8 299.5 L364.5 302 L367.7 303.1 L370.4 304.4 L373.3 304.9 L376.7 305.9 L380 307 L382.8 309 L386.3 309.7 L389.7 311.4 L392.8 313.2 L396 315 L399.3 316.8 L402.9 317.4 L406.1 318.9 L409 320 L412.5 319.6 L416.4 320.1 L420 320 L423.5 319.8 L426.1 318.5 L429 318 L432.4 318.6 L434.6 320.3 L438.1 321 L441 322.5 L442 325.9 L442.5 328.4 L443.5 331.5 L446.7 332.6 L451 334 L454 335.5 L457.5 336 L460.1 335.2 L463 335.5 L466.5 337.7 L468.9 339.6 L472 342 L475.9 342 L478.4 342 L482 342 L485.6 344.1 L490 346 L493.9 344.5 L498 343.5 L502.1 345.9 L505.5 347.5 L508.2 347.2 L511.8 347.2 L515.6 346.1 L518.5 346 L521 344.4 L524 343.5 L525.8 340 L526.5 337 L525.8 334 L525 331.1 L524 328 L523.5 324.1 L522.5 321 L523.3 317.7 L523.5 314.6 L523.8 311.7 L524.5 308.4 L525 305.5 L528.3 304.4 L530.5 302.9 L534 302 L537.5 303 L541 303 L541.7 306.3 L541 309.8 L541.7 312.8 L542 316 L541.9 319.1 L541.3 322.5 L541 325 L542.1 328.1 L543.5 331.5 L547.1 333.2 L550 335.5 L553 336.5 L556 337.1 L560 337.3 L563 338 L566.5 338.3 L570.5 338 L575 335.9 L578.5 334.5 L582.2 335.8 L586 337 L589.2 336.5 L592 336.5 L595.9 335.6 L598.5 336.2 L602 335.5 L605.8 336.2 L609 336.5 L612 335.7 L616.5 335 L619.5 333.5 L619.3 329.8 L619.1 326.7 L618.5 324.2 L618 320.5 L615.2 318.8 L611.8 318.3 L609 316.5 L607.4 312.9 L606.5 309 L610.2 309.1 L614 310 L617.2 309.1 L619.7 309 L622.8 308.3 L626.4 308.6 L629.8 307.5 L632.5 307.5 L633.5 302.5 L636.4 300.7 L639.6 299.2 L643 297.5 L645.5 296 L646.3 292.2 L648 288 L650.7 287.3 L654.2 286.9 L657.4 285.7 L660.1 284.9 L663.5 284 L664.9 281.8 L666.9 278.6 L668.5 276.5 L670.8 274.4 L674 272.1 L676.6 270.7 L679 268.5 L681.3 270.7 L684.5 272.5 L687.6 272.5 L691.6 273 L695.4 273.6 L698.5 274 L701.6 271.6 L705 268.5 L707.5 267.6 L710.5 265.8 L714 265 L716.7 267.7 L718 269.6 L720.5 272.5 L719.3 275.2 L717 277.5 L721.1 276.6 L724.5 276.5 L725.1 279.8 L725.2 283.3 L726 287 L723.4 289.8 L720.5 293 L723.9 292.6 L727.9 293.2 L731 293 L734.6 294.3 L737.9 295.8 L740.9 297.2 L744 298.5 L745 302.1 L745.5 306 L742.7 307.6 L740.4 309.7 L738.7 312.3 L736.2 313.9 L733.5 316.5 L735.1 319.9 L736.9 322.4 L738.3 325.1 L740 328.5 L736 328 L732.3 325.6 L729.2 323.9 L726 322 L722.8 322.2 L718.5 323 L714.8 323.6 L711.5 324.5 L708.3 325.7 L705.2 327.5 L702.7 328.7 L700 329.5 L698.6 332.3 L696.7 335.2 L694.7 337.6 L693.5 340 L692.4 343.2 L692.1 345.6 L691 349 L691 351.5 L691.4 354.5 L692 358 L690.3 361.5 L688.6 363.8 L687.1 366.8 L685.5 370 L682.5 371.5 L679 372.5 L679.5 375.7 L680.9 380 L681.5 383 L680.4 386.2 L679.5 389 L677.3 393.1 L676.5 396 L675.1 398.2 L673.9 402 L672.5 404.1 L670.7 406.5 L670.3 409.7 L668.5 412.5 L665.6 411.2 L661.6 410.3 L658.5 410 L654.4 408.3 L650.5 407.5 L650.6 410.8 L651 413.8 L651.1 418.1 L652 421 L651.1 424.1 L650.9 427.2 L650 430.1 L649.6 433.4 L649.5 436.5 L644 438 L644.8 441.6 L645.1 444.7 L644.6 448.5 L645.5 452 L643.5 456.1 L641.5 460 L639 464 L636.9 461.4 L635 458.5 L631 462.5 L630.9 459.5 L630.1 455.4 L630 452 L629.7 448.4 L628.3 445.3 L627.7 442.5 L627.5 439 L627.1 435.5 L625.6 432 L625 428.8 L624.5 426 L623.9 422.1 L623.5 418 L620.5 419 L618 421 L615.7 423 L613 426 L611.9 429.8 L611.5 434 L608 436.5 L604 434 L601.9 430.3 L600 427.5 L599.1 423.8 L598.6 420.6 L597.5 417 L599.6 414.5 L601.1 411.7 L602.5 409 L605.4 408.5 L608.7 407.8 L611.5 406.5 L614.5 405.5 L617 404 L622 402.5 L622 399 L622.2 396.2 L622.9 392.3 L623.5 389.5 L627.5 386 L627.5 380.5 L623.5 379.8 L620.2 380 L617 379.5 L613.5 379 L610.8 379.6 L606.7 379 L604 379.5 L600.3 379 L597.9 379.2 L594.4 378.1 L591 378 L587.7 378.2 L584.3 378.2 L581.3 379.5 L578 379.5 L575 378.3 L571.5 377.6 L568.5 377.2 L565 376.5 L564.7 373.1 L563.5 369 L565.1 365.5 L567.5 362.5 L566.7 359.2 L565 356 L563.7 352.7 L562.5 349.5 L562 353.7 L561 357 L556 356 L553.4 354.3 L550.8 351.2 L548 349.5 L545.8 347.4 L543 345.5 L539.5 345.7 L536.5 344.9 L534 344.5 L531.2 347.4 L528.5 349.5 L526.4 352.4 L524.5 356 L525.8 359.7 L527.5 364 L530.6 366.3 L533.8 368.7 L536.5 371.5 L538.8 373.1 L542 375.5 L544 377 L541.5 380.5 L538.4 380.6 L534.4 380.1 L531 380.5 L528.9 383.2 L526 386 L524.7 388.9 L524.5 392.5 L526.8 395.2 L530 397.5 L533.4 399.3 L536.3 401.6 L539 404 L539.2 407.4 L539.1 410.3 L539 413 L537.6 416.5 L536.5 421 L538.5 424.8 L540.5 428.5 L544 431.5 L543.3 434.7 L543.1 437.6 L543 441.5 L543.6 444.9 L544.6 448.7 L545.5 452 L545.9 456 L546.8 459.5 L547 462.5 L547.2 465.7 L547 468.8 L547 471.5 L542.8 472.4 L539 473 L535.9 472.6 L532.3 471.8 L528.8 471.7 L526 471.5 L524.1 469 L522 466 L519.6 467.6 L517.1 469.4 L514 471.5 L510.9 471.9 L507.6 473.4 L504 474 L501.8 476.6 L498.9 478.7 L496 480.5 L495 484.4 L493.5 488 L495.3 490.4 L498.3 492.4 L500 495 L497.3 496.3 L493.5 497.5 L492.1 500.2 L491 504 L488.6 505.9 L486.7 508.9 L484.7 510.9 L482 513 L479 513.6 L476.4 515.1 L473.5 515.9 L470.8 516.7 L467.5 518 L464.7 519.3 L462.4 521.6 L459.3 522.9 L457.4 524.1 L454.5 526 L451.4 528.3 L449.6 530.9 L446.9 532.7 L444 535 L441.4 538.3 L439 541.5 L437.4 544.2 L434.8 547.4 L433.5 549.8 L431 553 L427.9 554.4 L425.9 556.7 L422.9 558.1 L420.7 560.4 L418 562 L415.7 564.3 L412.5 566 L410.9 568.5 L408 570 L405.1 572.6 L402.8 574.8 L400 576.5 L395 579 L392.7 582 L391.4 584.5 L388.6 586.9 L387 590 L386.1 593.3 L386 597.5 L382.6 598.9 L379.6 600.3 L377.3 601.6 L374 602.5 L371 604.1 L367.8 605.7 L364 606.5 L360.9 609 L357.5 610.5 L355.2 612.6 L353.4 615.2 L352 618 L348.6 616.7 L345.5 615.5 L342.4 617.8 L339 619.5 L336.9 622.4 L335.7 625.4 L334 628.5 L333.1 632.1 L332.9 635.7 L332.5 639 L333.5 643 L335 645.5 L335.5 649.5 L335.8 653 L335.3 655.6 L335.5 659.1 L335.5 662.5 L335 666.7 L334 670 L335.9 672.5 L338 675.5 L338 679.5 L338 683 L337.1 687.1 L335.5 691 L334.2 693.9 L333.7 697.2 L331.7 700.2 L330.8 703.6 L330 706.5 L327.5 709 L326 712 L324.6 716 L324 720 L325.2 723.4 L325.2 727.1 L326 730 L326.1 733.2 L327.3 736.1 L327.5 740 L328.1 743 L327.6 746.1 L328.5 749.5 L325.5 750.5 L322 751.4 L318.5 752 L315 753.5 L313.2 756.6 L311.9 758.7 L310 761.1 L309 764 L307.3 767.7 L304.5 771 L307.7 771.7 L310.7 773.6 L314 774.5 L317 778.5 L313 776 L309.4 775.3 L306.4 774.5 L302.5 773.5 L299.6 774.7 L296 777.1 L293.5 778.5 L291.2 782.1 L289.5 785.3 L287 788 L285.4 792 L284 795 L282.1 797.6 L279.3 799.6 L277.5 801.5 L272.5 804.5 L268 803.5 L265.6 801.9 L263.9 798.9 L261 797 L258.8 794.2 L256.7 791.8 L254.8 789.1 L252.5 787 L250.6 783.8 L249 780.6 L248.4 778 L246.5 774.5 L245.2 770.6 L244.9 768.2 L243.6 763.9 L242.2 761.4 L241.5 757.5 L240.9 754.1 L239 751.6 L237.9 749.1 L237 746.2 L236 743 L234.4 739.7 L234.1 736.6 L231.9 732.7 L231.4 729.7 L230 726.5 L228.2 723.4 L226.8 720.8 L224.8 717.2 L223.5 714 L221.4 711.5 L220.2 708.6 L218.1 706.7 L215.8 704.3 L214.5 701.5 L213.1 698.6 L212 696 L210.1 692.8 L208.8 689.8 L208 687 L207.1 682.8 L206.3 679.7 L205.9 676.6 L205 672.5 L203.5 669 L202.6 666 L201 662 L200.2 658.3 L198.5 653.5 L196.7 649.9 L195.7 646.5 L193.6 644 L192 640.5 L190.4 637.8 L189.3 635.1 L187.3 633.1 L185.2 629.9 L184 627.5 L182.7 624.1 L181 620.4 L180 617 L178.5 613.4 L177.8 610.4 L177.5 607.4 L175.8 604.9 L175 601.5 L174.5 598.1 L173.8 595.4 L172.5 592.3 L171.5 588.8 L171 586 L170.5 582.7 L169.7 579.1 L168 575.8 L167.5 573 L167 569.6 L165.5 565.5 L165.6 562.5 L164.5 559 L164.3 555.2 L163.3 552.1 L162.9 549.4 L162 546 L160.9 541.9 L159.5 538.5 L161 533 L159.5 528.8 L157 525.5 L156 522.2 L155.6 518 L155.5 515 L156.7 511.2 L158 507 L159.8 504.2 L160.2 501.2 L162 498 L160.7 494.6 L158.9 491.7 L157 489 L155.9 485 L155.6 482 L154.5 478.5 L156.2 474.7 L157 471 L153 468 L152.6 464.4 L152.7 461.8 L153 458 L149 455 L146.2 457.3 L144 460.5 L144.7 463.5 L145.6 467.6 L146.5 471 L146.2 473.6 L145.1 477 L145 480 L142 482.4 L138.5 485 L135.3 487.1 L131.6 488 L128.7 489.9 L125.5 491.5 L122.7 492.2 L119.2 492.7 L116.1 493.7 L112.5 494 L108.8 491.9 L105.2 490.5 L102 489 L99.9 486.5 L97.1 484.7 L95 481.8 L92 480 L89.6 477.2 L86.2 474.8 L84 472 L81.9 469.8 L78.5 468 L76.4 465.4 L74 463 L72.1 460.1 L69.6 457.5 L67.5 455 L68.8 452 L71 450 L75.2 450.7 L79 451.5 L82.9 450.2 L85.8 449.5 L89.5 449 L92.5 447.6 L94.9 445.5 L96.6 443.7 L99.5 442 L101.2 437.7 L103.5 434.5 L100.6 435.9 L97.1 437.8 L94.5 439.5 L91.5 440.8 L87.5 440.7 L84 442 L81.2 440.6 L77.8 439.5 L75.2 439 L71.5 437.7 L68.5 437 L66.3 435.5 L63.9 432.7 L61.8 431.5 L59.5 429 L58.5 426.1 L58.3 422.8 L57 420 L54.3 420.8 L51 421.5 L50 416.5 L52.4 414 L55.5 412.5 L59.2 411.7 L62 411 L63.2 407.7 L64.5 403.5 L67.8 403.8 L71 404 L74 404.8 L77.2 405 L81 405.6 L84 406 L87.6 404.4 L92 403.5 L95.5 404 L98.1 404.5 L101.3 403.9 L105 404.5 L106.5 402.2 L109 400 L112.4 400.1 L115.5 399.5 L116.5 394.5 L120.5 393 L117.9 390.6 L115.6 387.8 L113.5 385 L111.5 382.5 L110.2 379.8 L109.5 377 L108.9 373.9 L108.5 370.9 L107.5 368 L104.9 367.1 L101.3 365.2 L98.5 364 L96.9 360.3 L94.5 357.5 L94.8 353.9 L95.8 350.1 L95.8 347.3 L96 343.5 L93.3 342.5 L90.5 342.3 L87 342 L84.1 339.7 L80.5 337 L80.9 333.4 L81.5 329 L84.3 326.2 L87 323.8 L89.6 321.3 L92 318.5 L94 315.3 L95.2 312.2 L97.2 310.2 L98.5 307 L101.4 304.7 L103.5 303.5 L109 305.5 L110.8 308.7 L112.5 312 L115.3 311.2 L119.4 311.4 L121.8 310.9 L125.5 309.9 L128.5 309.5 L132 307.9 L134.9 306.3 L138.5 305.5 L140.5 302.3 L142.4 298.8 L144 295.5 L146 292.7 L148.5 290.2 L150.4 288 L152.3 285.3 L154.5 282.5 L156.2 280.1 L159.2 277.8 L160.5 275.5 L163.5 273.4 L165.3 271.6 L167.5 269.5 L169.1 266.4 L170 262.8 L171.6 260.5 L172.6 257.5 L173.9 254.3 L175 251 L178.4 250 L180.5 249.1 L184 247.5 L185.3 243.9 L185.5 241 L186.9 238.2 L188.8 235.6 L190.7 232.8 L193 230.5 L196 227 L197.1 224.3 L199.1 221.9 L201 219 L200.6 215.4 L201 212.9 L200.5 208.9 L200 206 L201.1 202.2 L202.5 198.5 L205.3 196 L208.2 194.8 L211.3 192.9 L214 190.5 L215.7 187.5 L217 184 L214.4 183.8 L211.3 182.7 L208.2 182.3 L205 181.5 L204.2 178 L202.5 174 L199.6 172.6 L196.6 171.6 L194.2 171 L190.8 169.7 L188.7 168.4 L185.5 167.5 L183.2 165 L181.6 161.9 L179.6 159.1 L178 157 L177.6 153.4 L177.6 149.5 L178 146.5 L177.2 143.5 L176.7 139.3 L175.5 136 L175.5 131.7 L174.1 127.8 L174 124.5 L175.7 121.9 L178.6 119.1 L180.5 116.5 L184.8 114.4 L188.5 112.5 L189.5 107.5 L187 105.5 L183.5 102.8 L180.5 101 L183 96 L179.2 94.4 L175.5 93 L173.2 90.8 L170 89.6 L167.2 87.4 L165 85.5 L161.2 84.8 L158.1 83.4 L154.5 83Z" fill="none" stroke="#838383" stroke-width="1.8" stroke-linejoin="round"/>
<path d="M640 669 L643 672 L643.5 680 L642 687 L638 688 L636 682 L637 674Z" fill="#e6d6cd" stroke="#8c8c8c" stroke-width="1.3" stroke-linejoin="round"/>
<path d="M635 688 L640 688 L640.5 696 L639 703 L634 703.5 L633 696Z" fill="#e6d6cd" stroke="#8c8c8c" stroke-width="1.3" stroke-linejoin="round"/>
<path d="M631 704 L636 704 L636.5 712 L635 720 L633 725 L629.5 724 L629 714Z" fill="#e6d6cd" stroke="#8c8c8c" stroke-width="1.3" stroke-linejoin="round"/>
<path d="M640 703 L643.5 702 L644 708 L642 714 L640.5 710Z" fill="#e6d6cd" stroke="#8c8c8c" stroke-width="1.3" stroke-linejoin="round"/>
<path d="M626 737 L630 736 L632 740 L631 745 L627 746.5 L624.5 743Z" fill="#e6d6cd" stroke="#8c8c8c" stroke-width="1.3" stroke-linejoin="round"/>
<circle cx="655.2" cy="639.7" r="0.9" fill="#8a8a8a"/>
<circle cx="660.4" cy="703" r="1.3" fill="#8a8a8a"/>
<circle cx="622.5" cy="720.5" r="1.3" fill="#8a8a8a"/>
<circle cx="635" cy="777.7" r="1.8" fill="#8a8a8a"/>
<circle cx="644" cy="799" r="1.8" fill="#8a8a8a"/>
<circle cx="655" cy="794" r="1.2" fill="#8a8a8a"/>
<circle cx="652" cy="804.5" r="2.0" fill="#8a8a8a"/>
<circle cx="649" cy="807" r="1.8" fill="#8a8a8a"/>
<circle cx="179" cy="738.7" r="1.2" fill="#8a8a8a"/>
<circle cx="155.6" cy="744" r="1.0" fill="#8a8a8a"/>
</svg>
</body>
</html>
